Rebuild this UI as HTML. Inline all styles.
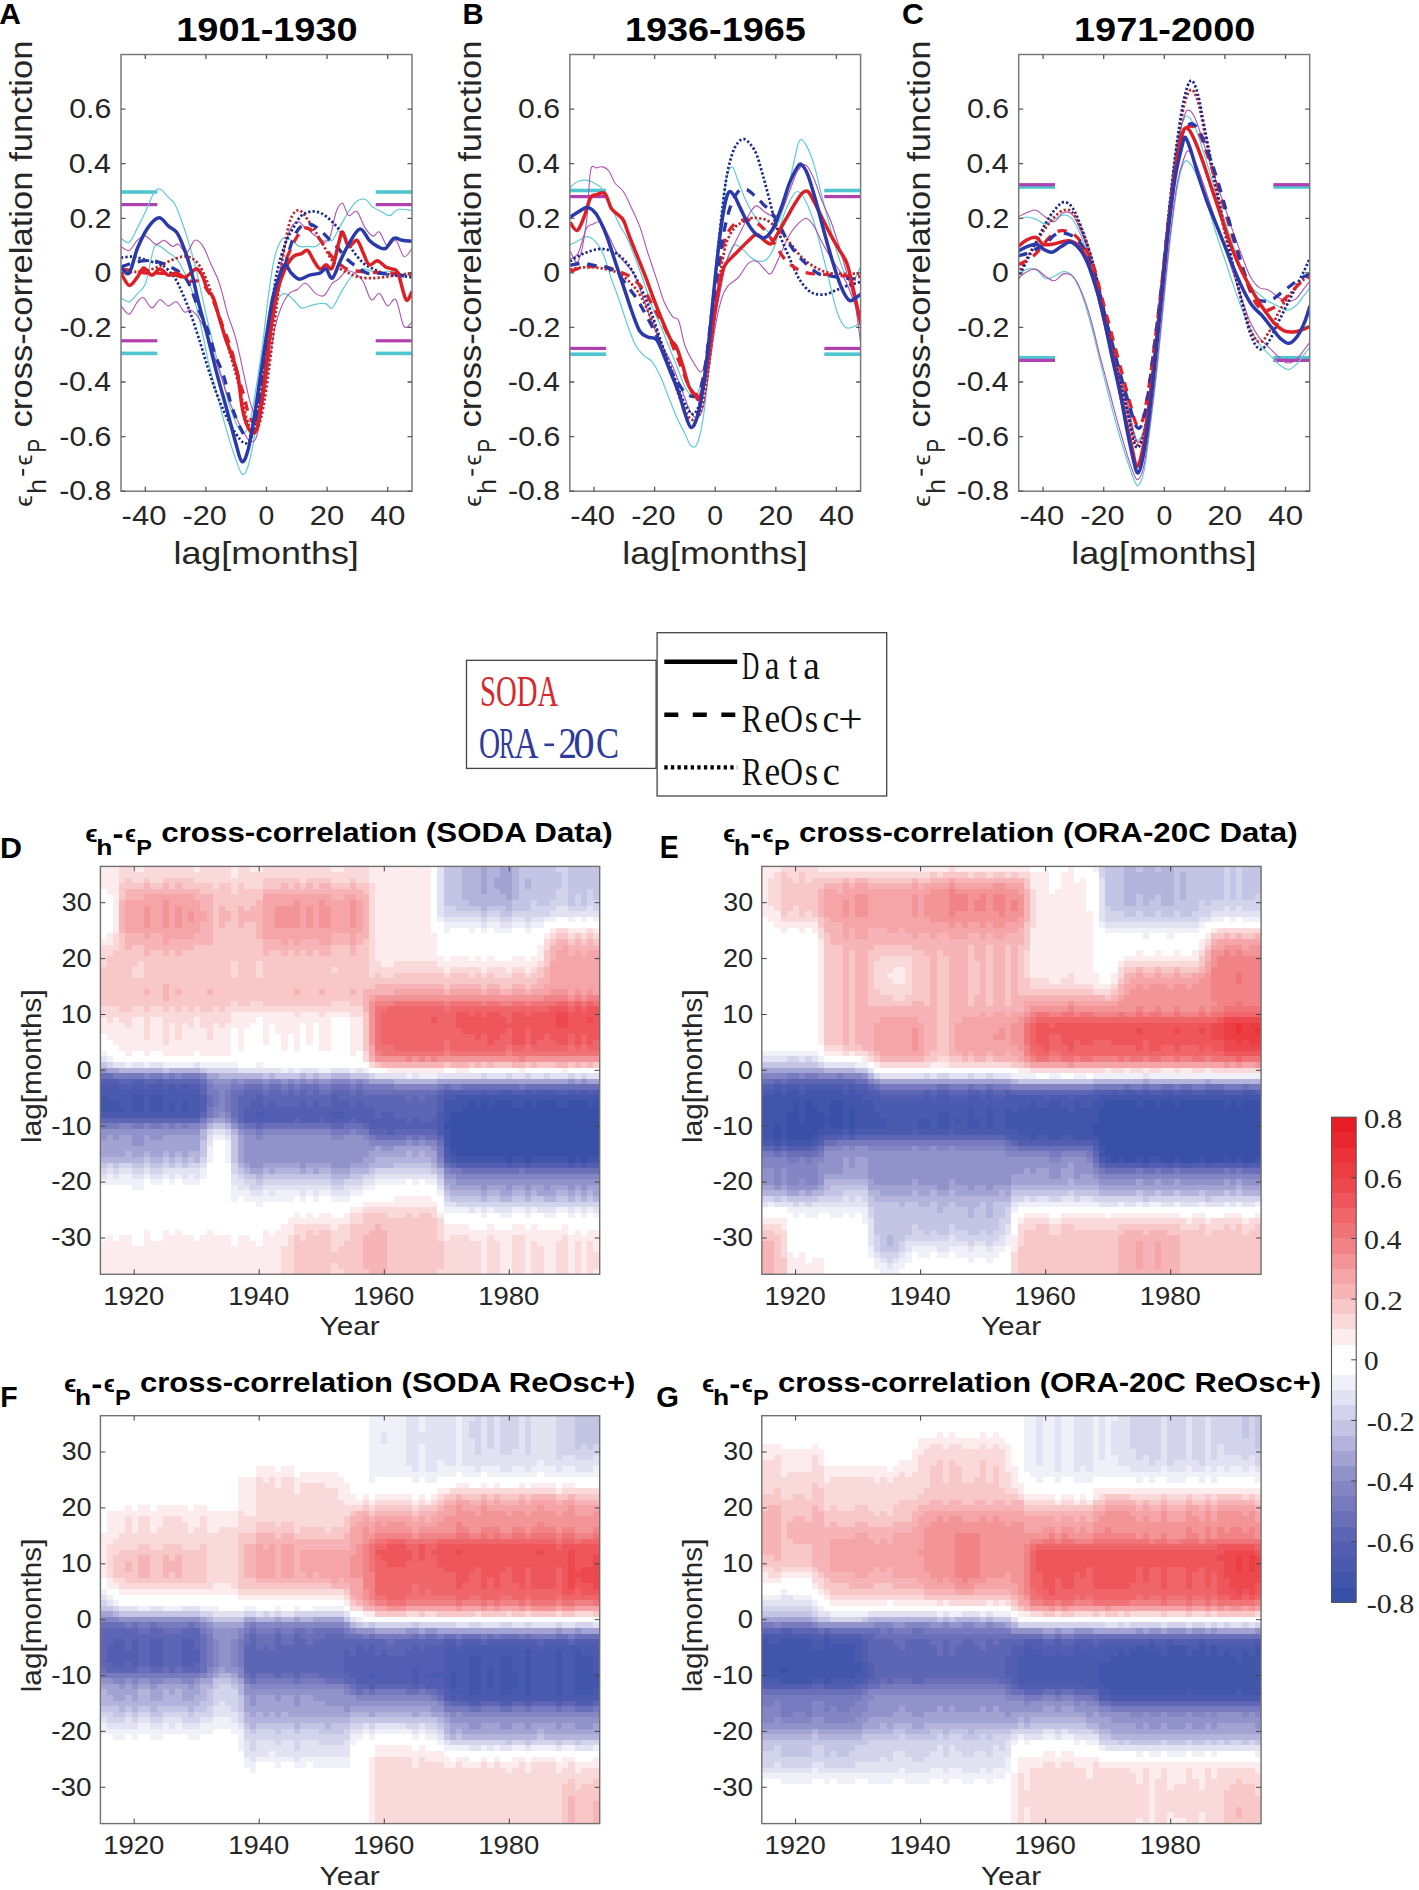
<!DOCTYPE html>
<html><head><meta charset="utf-8"><title>cross-correlation figure</title>
<style>html,body{margin:0;padding:0;background:#fff;}svg{display:block;}</style>
</head><body>
<svg width="1419" height="1890" viewBox="0 0 1419 1890"><clipPath id="clipA"><rect x="121.0" y="54.5" width="291.0" height="436.7"/></clipPath>
<rect x="121.0" y="190.2" width="36.3" height="3.6" fill="#4fc6cf"/>
<rect x="375.7" y="190.2" width="36.3" height="3.6" fill="#4fc6cf"/>
<rect x="121.0" y="351.6" width="36.3" height="3.6" fill="#4fc6cf"/>
<rect x="375.7" y="351.6" width="36.3" height="3.6" fill="#4fc6cf"/>
<rect x="121.0" y="203.0" width="36.3" height="3.2" fill="#b040b0"/>
<rect x="375.7" y="203.0" width="36.3" height="3.2" fill="#b040b0"/>
<rect x="121.0" y="339.2" width="36.3" height="3.2" fill="#b040b0"/>
<rect x="375.7" y="339.2" width="36.3" height="3.2" fill="#b040b0"/>
<g clip-path="url(#clipA)" fill="none" stroke-linejoin="round">
<path d="M121.0,238.2C122.4,238.9 126.5,244.0 129.2,242.3C131.9,240.6 134.7,233.1 137.4,227.9C140.1,222.8 142.9,217.3 145.6,211.5C148.3,205.7 151.4,196.8 153.8,193.1C156.2,189.3 157.6,188.3 160.0,189.0C162.4,189.6 165.8,194.8 168.2,197.2C170.6,199.6 172.3,199.9 174.3,203.3C176.4,206.7 178.1,211.2 180.5,217.7C182.9,224.2 185.9,233.1 188.7,242.3C191.4,251.5 194.1,261.8 196.9,273.1C199.6,284.3 202.4,298.0 205.1,310.0C207.8,321.9 210.6,333.9 213.3,344.8C216.0,355.8 218.8,365.3 221.5,375.6C224.2,385.8 227.0,397.8 229.7,406.4C232.4,414.9 235.5,422.4 237.9,426.9C240.3,431.3 242.0,434.0 244.1,433.0C246.1,432.0 248.2,428.6 250.2,420.7C252.3,412.9 254.3,398.5 256.4,385.8C258.4,373.2 260.5,360.2 262.5,344.8C264.6,329.5 266.6,308.3 268.7,293.6C270.7,278.9 272.4,265.9 274.8,256.6C277.2,247.4 280.3,240.9 283.0,238.2C285.8,235.5 288.5,238.9 291.2,240.2C294.0,241.6 296.7,245.4 299.4,246.4C302.2,247.4 304.9,246.4 307.6,246.4C310.4,246.4 313.1,247.4 315.8,246.4C318.6,245.4 321.3,241.3 324.0,240.2C326.8,239.2 329.5,242.6 332.2,240.2C335.0,237.8 337.7,230.7 340.4,225.9C343.2,221.1 345.9,215.6 348.6,211.5C351.4,207.4 354.1,203.3 356.8,201.3C359.6,199.2 362.3,198.2 365.1,199.2C367.8,200.2 370.5,205.4 373.3,207.4C376.0,209.5 378.7,210.2 381.5,211.5C384.2,212.9 386.9,216.0 389.7,215.6C392.4,215.3 394.1,210.3 397.9,209.5C401.6,208.6 409.7,210.3 412.0,210.5" stroke="#5fcbd3" stroke-width="1.2"/>
<path d="M121.0,297.7C122.4,298.3 126.5,302.4 129.2,301.8C131.9,301.1 134.7,296.6 137.4,293.6C140.1,290.5 142.9,290.8 145.6,283.3C148.3,275.8 151.4,254.6 153.8,248.4C156.2,242.3 157.6,245.7 160.0,246.4C162.4,247.1 165.4,250.5 168.2,252.5C170.9,254.6 173.6,255.3 176.4,258.7C179.1,262.1 181.8,267.2 184.6,273.1C187.3,278.9 190.0,284.7 192.8,293.6C195.5,302.4 198.2,314.4 201.0,326.4C203.7,338.3 206.5,353.7 209.2,365.3C211.9,377.0 214.7,385.8 217.4,396.1C220.1,406.4 222.9,417.3 225.6,426.9C228.3,436.4 231.1,445.7 233.8,453.5C236.5,461.4 239.6,472.0 242.0,474.0C244.4,476.1 246.1,472.0 248.2,465.8C250.2,459.7 252.3,448.7 254.3,437.1C256.4,425.5 258.4,411.5 260.5,396.1C262.5,380.7 264.6,358.5 266.6,344.8C268.7,331.2 270.7,321.9 272.8,314.1C274.8,306.2 276.9,301.1 278.9,297.7C281.0,294.2 282.7,293.2 285.1,293.6C287.5,293.9 290.5,297.3 293.3,299.7C296.0,302.1 298.7,306.9 301.5,307.9C304.2,308.9 306.9,306.5 309.7,305.9C312.4,305.2 315.1,304.2 317.9,303.8C320.6,303.5 323.7,303.1 326.1,303.8C328.5,304.5 329.8,309.6 332.2,307.9C334.6,306.2 338.0,297.7 340.4,293.6C342.8,289.5 344.2,286.7 346.6,283.3C349.0,279.9 352.1,275.4 354.8,273.1C357.5,270.7 360.3,269.3 363.0,268.9C365.7,268.6 368.5,270.3 371.2,271.0C373.9,271.7 376.7,273.1 379.4,273.1C382.1,273.1 384.9,271.0 387.6,271.0C390.3,271.0 391.7,272.4 395.8,273.1C399.9,273.7 409.3,274.8 412.0,275.1" stroke="#5fcbd3" stroke-width="1.2"/>
<path d="M121.0,246.4C122.4,247.1 126.5,251.5 129.2,250.5C131.9,249.5 134.7,242.6 137.4,240.2C140.1,237.8 142.5,235.5 145.6,236.1C148.7,236.8 152.8,243.7 155.9,244.3C158.9,245.0 161.3,239.9 164.1,240.2C166.8,240.6 169.9,245.7 172.3,246.4C174.7,247.1 176.0,243.3 178.4,244.3C180.8,245.4 183.9,253.2 186.6,252.5C189.4,251.9 192.1,241.3 194.8,240.2C197.6,239.2 200.3,242.3 203.0,246.4C205.8,250.5 208.5,258.7 211.2,264.8C214.0,271.0 216.7,275.1 219.4,283.3C222.2,291.5 224.9,304.8 227.6,314.1C230.4,323.3 233.1,328.4 235.8,338.7C238.6,348.9 241.7,365.0 244.1,375.6C246.4,386.2 248.2,395.4 250.2,402.3C252.3,409.1 254.3,417.0 256.4,416.6C258.4,416.3 260.5,410.5 262.5,400.2C264.6,390.0 266.6,371.2 268.7,355.1C270.7,339.0 272.8,318.9 274.8,303.8C276.9,288.8 278.6,276.8 281.0,264.8C283.4,252.9 286.4,239.2 289.2,232.0C291.9,224.9 294.6,222.5 297.4,221.8C300.1,221.1 302.5,225.5 305.6,227.9C308.7,230.3 312.8,233.7 315.8,236.1C318.9,238.5 321.6,242.3 324.0,242.3C326.4,242.3 328.1,241.3 330.2,236.1C332.2,231.0 334.3,217.0 336.3,211.5C338.4,206.1 340.4,202.6 342.5,203.3C344.5,204.0 346.3,214.3 348.6,215.6C351.0,217.0 354.1,209.5 356.8,211.5C359.6,213.6 362.3,223.8 365.1,227.9C367.8,232.0 370.9,235.5 373.3,236.1C375.6,236.8 377.0,230.3 379.4,232.0C381.8,233.7 384.9,245.0 387.6,246.4C390.3,247.8 393.1,238.5 395.8,240.2C398.5,241.9 401.3,255.3 404.0,256.6C406.7,258.0 410.7,249.8 412.0,248.4" stroke="#b050b0" stroke-width="1.1"/>
<path d="M121.0,305.9C122.4,307.2 126.5,314.8 129.2,314.1C131.9,313.4 135.0,304.5 137.4,301.8C139.8,299.0 141.2,296.6 143.6,297.7C146.0,298.7 149.0,307.6 151.8,307.9C154.5,308.3 157.2,300.1 160.0,299.7C162.7,299.4 165.4,305.5 168.2,305.9C170.9,306.2 173.6,300.7 176.4,301.8C179.1,302.8 182.2,310.7 184.6,312.0C187.0,313.4 188.3,308.9 190.7,310.0C193.1,311.0 196.2,314.1 198.9,318.2C201.7,322.3 204.1,326.7 207.1,334.6C210.2,342.4 214.0,355.1 217.4,365.3C220.8,375.6 224.6,387.6 227.6,396.1C230.7,404.6 233.1,410.5 235.8,416.6C238.6,422.8 241.7,428.9 244.1,433.0C246.4,437.1 248.2,440.5 250.2,441.2C252.3,441.9 254.3,442.9 256.4,437.1C258.4,431.3 260.5,418.3 262.5,406.4C264.6,394.4 266.6,378.3 268.7,365.3C270.7,352.4 272.8,338.0 274.8,328.4C276.9,318.9 278.6,313.7 281.0,307.9C283.4,302.1 286.4,296.6 289.2,293.6C291.9,290.5 294.6,291.2 297.4,289.5C300.1,287.7 302.5,282.6 305.6,283.3C308.7,284.0 312.8,291.5 315.8,293.6C318.9,295.6 321.3,297.3 324.0,295.6C326.8,293.9 329.8,286.0 332.2,283.3C334.6,280.6 336.0,281.3 338.4,279.2C340.8,277.2 343.9,272.0 346.6,271.0C349.3,270.0 352.1,271.3 354.8,273.1C357.5,274.8 360.3,276.8 363.0,281.3C365.7,285.7 368.5,297.7 371.2,299.7C373.9,301.8 376.7,292.5 379.4,293.6C382.1,294.6 384.9,304.8 387.6,305.9C390.3,306.9 393.1,296.3 395.8,299.7C398.5,303.1 401.3,322.6 404.0,326.4C406.7,330.1 410.7,323.0 412.0,322.3" stroke="#b050b0" stroke-width="1.1"/>
<path d="M121.0,273.1C123.1,272.9 129.2,272.4 133.3,272.0C137.4,271.7 141.5,271.9 145.6,271.0C149.7,270.1 153.8,268.6 157.9,266.9C162.0,265.2 166.1,262.5 170.2,260.7C174.3,259.0 179.1,257.2 182.5,256.6C185.9,256.1 188.0,256.3 190.7,257.7C193.5,259.0 196.2,260.9 198.9,264.8C201.7,268.8 204.4,274.4 207.1,281.3C209.9,288.1 212.6,297.3 215.3,305.9C218.1,314.4 220.8,323.6 223.5,332.5C226.3,341.4 229.0,349.6 231.7,359.2C234.5,368.8 237.6,380.4 239.9,390.0C242.3,399.5 244.1,409.8 246.1,416.6C248.2,423.4 250.2,429.3 252.3,431.0C254.3,432.7 256.4,432.0 258.4,426.9C260.5,421.7 262.5,412.2 264.6,400.2C266.6,388.2 268.7,371.2 270.7,355.1C272.8,339.0 274.8,320.2 276.9,303.8C278.9,287.4 281.0,270.0 283.0,256.6C285.1,243.3 287.1,231.4 289.2,223.8C291.2,216.3 293.3,213.6 295.3,211.5C297.4,209.5 299.4,210.2 301.5,211.5C303.5,212.9 305.2,216.3 307.6,219.7C310.0,223.1 313.1,227.6 315.8,232.0C318.6,236.5 321.3,241.6 324.0,246.4C326.8,251.2 329.5,257.0 332.2,260.7C335.0,264.5 337.7,266.9 340.4,268.9C343.2,271.0 345.6,271.7 348.6,273.1C351.7,274.4 355.1,276.3 358.9,277.2C362.7,278.0 367.1,278.2 371.2,278.2C375.3,278.2 379.1,277.7 383.5,277.2C388.0,276.6 393.1,275.8 397.9,275.1C402.6,274.4 409.7,273.4 412.0,273.1" stroke="#b8262e" stroke-width="2.7" stroke-dasharray="2.3 2.1"/>
<path d="M121.0,257.7C122.7,257.5 127.8,256.5 131.3,256.6C134.7,256.8 138.1,257.8 141.5,258.7C144.9,259.6 148.3,260.7 151.8,261.8C155.2,262.8 158.3,262.3 162.0,264.8C165.8,267.4 170.9,272.4 174.3,277.2C177.7,281.9 179.8,287.4 182.5,293.6C185.3,299.7 188.0,306.5 190.7,314.1C193.5,321.6 196.2,330.1 198.9,338.7C201.7,347.2 204.4,356.8 207.1,365.3C209.9,373.9 212.6,382.4 215.3,390.0C218.1,397.5 220.8,404.3 223.5,410.5C226.3,416.6 229.0,422.1 231.7,426.9C234.5,431.7 237.6,436.4 239.9,439.2C242.3,441.9 244.1,444.0 246.1,443.3C248.2,442.6 250.2,441.2 252.3,435.1C254.3,428.9 256.4,418.0 258.4,406.4C260.5,394.7 262.5,380.7 264.6,365.3C266.6,350.0 268.7,329.5 270.7,314.1C272.8,298.7 274.5,284.7 276.9,273.1C279.3,261.4 282.3,251.9 285.1,244.3C287.8,236.8 290.5,232.7 293.3,227.9C296.0,223.1 298.4,218.4 301.5,215.6C304.6,212.9 308.3,211.9 311.7,211.5C315.1,211.2 318.6,211.9 322.0,213.6C325.4,215.3 328.8,218.4 332.2,221.8C335.7,225.2 339.1,229.3 342.5,234.1C345.9,238.9 349.3,245.7 352.7,250.5C356.2,255.3 359.6,259.7 363.0,262.8C366.4,265.9 369.8,267.2 373.3,268.9C376.7,270.7 380.1,272.0 383.5,273.1C386.9,274.1 389.0,274.4 393.8,275.1C398.5,275.8 409.0,276.8 412.0,277.2" stroke="#1c2a8c" stroke-width="2.7" stroke-dasharray="2.3 2.1"/>
<path d="M121.0,268.9C123.1,269.3 129.2,270.3 133.3,271.0C137.4,271.7 141.5,272.7 145.6,273.1C149.7,273.4 153.8,272.9 157.9,273.1C162.0,273.2 166.1,273.4 170.2,274.1C174.3,274.8 179.1,276.0 182.5,277.2C185.9,278.3 188.0,280.6 190.7,281.3C193.5,281.9 196.2,279.9 198.9,281.3C201.7,282.6 204.4,285.4 207.1,289.5C209.9,293.6 212.6,299.4 215.3,305.9C218.1,312.4 220.8,320.9 223.5,328.4C226.3,335.9 229.4,343.1 231.7,351.0C234.1,358.8 235.8,368.1 237.9,375.6C239.9,383.1 242.3,390.0 244.1,396.1C245.8,402.3 246.4,408.1 248.2,412.5C249.9,417.0 252.3,423.8 254.3,422.8C256.4,421.7 258.4,415.9 260.5,406.4C262.5,396.8 264.6,380.7 266.6,365.3C268.7,350.0 270.4,329.5 272.8,314.1C275.2,298.7 278.2,283.3 281.0,273.1C283.7,262.8 286.4,258.7 289.2,252.5C291.9,246.4 294.6,240.2 297.4,236.1C300.1,232.0 302.8,228.6 305.6,227.9C308.3,227.2 311.0,229.6 313.8,232.0C316.5,234.4 319.2,238.5 322.0,242.3C324.7,246.0 327.5,251.2 330.2,254.6C332.9,258.0 335.7,260.4 338.4,262.8C341.1,265.2 343.5,267.6 346.6,268.9C349.7,270.3 353.4,270.5 356.8,271.0C360.3,271.5 362.0,271.7 367.1,272.0C372.2,272.4 380.1,272.7 387.6,273.1C395.1,273.4 407.9,273.9 412.0,274.1" stroke="#e0222a" stroke-width="3.3" stroke-dasharray="9.5 8"/>
<path d="M121.0,266.9C123.1,266.2 129.2,263.8 133.3,262.8C137.4,261.8 141.5,260.9 145.6,260.7C149.7,260.6 153.8,260.7 157.9,261.8C162.0,262.8 166.5,265.0 170.2,266.9C174.0,268.8 177.4,270.3 180.5,273.1C183.6,275.8 185.6,277.2 188.7,283.3C191.8,289.5 195.9,302.4 198.9,310.0C202.0,317.5 204.4,320.9 207.1,328.4C209.9,335.9 212.6,347.2 215.3,355.1C218.1,362.9 220.8,367.0 223.5,375.6C226.3,384.1 229.0,397.8 231.7,406.4C234.5,414.9 237.6,421.7 239.9,426.9C242.3,432.0 244.1,436.1 246.1,437.1C248.2,438.1 250.2,438.1 252.3,433.0C254.3,427.9 256.4,417.6 258.4,406.4C260.5,395.1 262.5,380.0 264.6,365.3C266.6,350.6 268.7,331.5 270.7,318.2C272.8,304.8 274.5,294.2 276.9,285.4C279.3,276.5 282.3,272.7 285.1,264.8C287.8,257.0 290.5,244.7 293.3,238.2C296.0,231.7 298.7,228.3 301.5,225.9C304.2,223.5 306.6,223.1 309.7,223.8C312.8,224.5 316.5,227.2 319.9,230.0C323.4,232.7 327.1,237.2 330.2,240.2C333.3,243.3 335.7,245.4 338.4,248.4C341.1,251.5 343.5,255.6 346.6,258.7C349.7,261.8 353.4,264.5 356.8,266.9C360.3,269.3 363.7,272.0 367.1,273.1C370.5,274.1 373.9,272.9 377.4,273.1C380.8,273.2 384.2,273.7 387.6,274.1C391.0,274.4 393.8,274.6 397.9,275.1C401.9,275.6 409.7,276.8 412.0,277.2" stroke="#2838a8" stroke-width="3.3" stroke-dasharray="9.5 8"/>
<path d="M121.0,273.1C122.4,275.1 126.5,284.7 129.2,285.4C131.9,286.0 135.0,280.1 137.4,277.2C139.8,274.2 141.2,268.3 143.6,267.9C146.0,267.6 149.0,274.9 151.8,275.1C154.5,275.3 157.2,268.9 160.0,268.9C162.7,268.9 165.4,274.4 168.2,275.1C170.9,275.8 173.6,272.7 176.4,273.1C179.1,273.4 182.2,277.2 184.6,277.2C187.0,277.2 188.7,274.4 190.7,273.1C192.8,271.7 194.8,268.3 196.9,268.9C198.9,269.6 201.3,273.7 203.0,277.2C204.7,280.6 205.4,286.0 207.1,289.5C208.8,292.9 211.2,292.9 213.3,297.7C215.3,302.4 217.4,311.3 219.4,318.2C221.5,325.0 223.5,332.5 225.6,338.7C227.6,344.8 229.7,348.9 231.7,355.1C233.8,361.2 236.2,367.0 237.9,375.6C239.6,384.1 240.6,398.5 242.0,406.4C243.4,414.2 244.4,418.3 246.1,422.8C247.8,427.2 250.4,432.3 252.3,433.0C254.1,433.7 255.7,433.0 257.4,426.9C259.1,420.7 260.6,409.8 262.5,396.1C264.4,382.4 266.3,361.9 268.7,344.8C271.1,327.7 274.1,306.2 276.9,293.6C279.6,280.9 282.3,275.1 285.1,268.9C287.8,262.8 290.5,259.2 293.3,256.6C296.0,254.1 299.1,254.6 301.5,253.6C303.9,252.5 305.6,249.3 307.6,250.5C309.7,251.7 311.7,257.7 313.8,260.7C315.8,263.8 317.9,268.3 319.9,268.9C322.0,269.6 324.0,265.0 326.1,264.8C328.1,264.7 330.2,271.3 332.2,267.9C334.3,264.5 336.7,250.3 338.4,244.3C340.1,238.4 340.8,231.7 342.5,232.0C344.2,232.4 346.3,245.0 348.6,246.4C351.0,247.8 354.5,239.2 356.8,240.2C359.2,241.3 361.0,248.4 363.0,252.5C365.1,256.6 366.8,263.5 369.2,264.8C371.5,266.2 374.6,260.4 377.4,260.7C380.1,261.1 383.2,265.5 385.6,266.9C388.0,268.3 389.7,267.9 391.7,268.9C393.8,270.0 395.5,267.9 397.9,273.1C400.3,278.2 403.7,296.6 406.1,299.7C408.4,302.8 411.0,292.9 412.0,291.5" stroke="#dd1f26" stroke-width="3.5"/>
<path d="M121.0,266.9C122.4,267.9 126.5,276.1 129.2,273.1C131.9,270.0 134.3,256.0 137.4,248.4C140.5,240.9 144.1,233.1 147.7,227.9C151.3,222.8 155.5,218.0 158.9,217.7C162.4,217.3 165.3,223.5 168.2,225.9C171.1,228.3 174.0,229.0 176.4,232.0C178.8,235.1 180.1,238.2 182.5,244.3C184.9,250.5 188.0,259.0 190.7,268.9C193.5,278.9 196.2,292.9 198.9,303.8C201.7,314.8 204.1,322.6 207.1,334.6C210.2,346.5 214.0,362.6 217.4,375.6C220.8,388.6 224.6,401.2 227.6,412.5C230.7,423.8 233.5,435.1 235.8,443.3C238.2,451.5 239.9,460.7 242.0,461.7C244.1,462.8 246.1,456.9 248.2,449.4C250.2,441.9 252.3,428.9 254.3,416.6C256.4,404.3 258.4,389.3 260.5,375.6C262.5,361.9 264.6,347.6 266.6,334.6C268.7,321.6 270.7,307.2 272.8,297.7C274.8,288.1 276.9,282.6 278.9,277.2C281.0,271.7 283.0,265.5 285.1,264.8C287.1,264.2 288.8,270.7 291.2,273.1C293.6,275.4 296.3,278.9 299.4,279.2C302.5,279.5 306.3,276.1 309.7,275.1C313.1,274.1 317.2,274.1 319.9,273.1C322.7,272.0 324.0,268.1 326.1,268.9C328.1,269.8 329.8,279.5 332.2,278.2C334.6,276.8 337.7,266.4 340.4,260.7C343.2,255.1 345.4,249.6 348.6,244.3C351.9,239.0 356.5,229.6 359.9,229.0C363.3,228.3 366.2,237.3 369.2,240.2C372.1,243.1 374.6,245.0 377.4,246.4C380.1,247.8 382.8,249.8 385.6,248.4C388.3,247.1 391.0,239.6 393.8,238.2C396.5,236.8 398.9,239.7 402.0,240.2C405.0,240.8 410.3,241.1 412.0,241.3" stroke="#2b3aaa" stroke-width="3.5"/>
</g>
<rect x="121.0" y="54.5" width="291.0" height="436.7" fill="none" stroke="#7a7a7a" stroke-width="1.5"/>
<path d="M145.3 491.2v-4.5M145.3 54.5v4.5M205.9 491.2v-4.5M205.9 54.5v4.5M266.5 491.2v-4.5M266.5 54.5v4.5M327.1 491.2v-4.5M327.1 54.5v4.5M387.7 491.2v-4.5M387.7 54.5v4.5M121.0 491.2h4.5M412.0 491.2h-4.5M121.0 436.6h4.5M412.0 436.6h-4.5M121.0 382.0h4.5M412.0 382.0h-4.5M121.0 327.4h4.5M412.0 327.4h-4.5M121.0 272.9h4.5M412.0 272.9h-4.5M121.0 218.3h4.5M412.0 218.3h-4.5M121.0 163.7h4.5M412.0 163.7h-4.5M121.0 109.1h4.5M412.0 109.1h-4.5" stroke="#5a5a5a" stroke-width="1.3" fill="none"/>
<text transform="translate(59.15,500.49) scale(1.0854,1)" font-family="Liberation Sans" font-size="27.89" fill="#262626">-0.8</text>
<text transform="translate(59.30,445.91) scale(1.0854,1)" font-family="Liberation Sans" font-size="27.89" fill="#262626">-0.6</text>
<text transform="translate(58.85,391.33) scale(1.0854,1)" font-family="Liberation Sans" font-size="27.89" fill="#262626">-0.4</text>
<text transform="translate(59.45,336.75) scale(1.0854,1)" font-family="Liberation Sans" font-size="27.89" fill="#262626">-0.2</text>
<text transform="translate(94.41,282.17) scale(1.0854,1)" font-family="Liberation Sans" font-size="27.89" fill="#262626">0</text>
<text transform="translate(69.44,227.59) scale(1.0854,1)" font-family="Liberation Sans" font-size="27.89" fill="#262626">0.2</text>
<text transform="translate(68.84,173.01) scale(1.0854,1)" font-family="Liberation Sans" font-size="27.89" fill="#262626">0.4</text>
<text transform="translate(69.29,118.43) scale(1.0854,1)" font-family="Liberation Sans" font-size="27.89" fill="#262626">0.6</text>
<text transform="translate(121.60,525.23) scale(1.1298,1)" font-family="Liberation Sans" font-size="27.46" fill="#262626">-40</text>
<text transform="translate(182.47,525.23) scale(1.1164,1)" font-family="Liberation Sans" font-size="27.46" fill="#262626">-20</text>
<text transform="translate(258.61,525.23) scale(1.0348,1)" font-family="Liberation Sans" font-size="27.46" fill="#262626">0</text>
<text transform="translate(309.75,525.23) scale(1.1280,1)" font-family="Liberation Sans" font-size="27.46" fill="#262626">20</text>
<text transform="translate(370.57,525.23) scale(1.1393,1)" font-family="Liberation Sans" font-size="27.46" fill="#262626">40</text>
<text transform="translate(173.47,564.20) scale(1.1278,1)" font-family="Liberation Sans" font-size="31.80" fill="#262626">lag[months]</text>
<text transform="translate(176.23,40.77) scale(1.1563,1)" font-family="Liberation Sans" font-size="32.82" font-weight="bold" fill="#000">1901-1930</text>
<text transform="translate(-0.75,23.90) scale(1.0147,1)" font-family="Liberation Sans" font-size="29.57" font-weight="bold" fill="#000">A</text>
<g transform="translate(0.0,0) rotate(-90)"><text transform="translate(-427.46,31.60) scale(1.0727,1)" font-family="Liberation Sans" font-size="32.30" fill="#262626">cross-correlation function</text><text transform="translate(-506.65,31.70) scale(1.0890,1)" font-family="Liberation Sans" font-size="24.15" fill="#262626">ϵ</text><text transform="translate(-493.90,46.30) scale(1.0872,1)" font-family="Liberation Sans" font-size="24.97" fill="#262626">h</text><text transform="translate(-465.59,31.70) scale(1.0210,1)" font-family="Liberation Sans" font-size="24.15" fill="#262626">ϵ</text><text transform="translate(-452.54,46.30) scale(0.8107,1)" font-family="Liberation Sans" font-size="25.36" fill="#262626">P</text></g>
<rect x="22.1" y="469.0" width="2.1" height="6.7" fill="#262626"/>
<clipPath id="clipB"><rect x="569.8" y="54.5" width="290.80000000000007" height="436.7"/></clipPath>
<rect x="569.8" y="188.7" width="36.3" height="3.6" fill="#4fc6cf"/>
<rect x="824.3000000000001" y="188.7" width="36.3" height="3.6" fill="#4fc6cf"/>
<rect x="569.8" y="352.4" width="36.3" height="3.6" fill="#4fc6cf"/>
<rect x="824.3000000000001" y="352.4" width="36.3" height="3.6" fill="#4fc6cf"/>
<rect x="569.8" y="195.0" width="36.3" height="3.2" fill="#b040b0"/>
<rect x="824.3000000000001" y="195.0" width="36.3" height="3.2" fill="#b040b0"/>
<rect x="569.8" y="346.8" width="36.3" height="3.2" fill="#b040b0"/>
<rect x="824.3000000000001" y="346.8" width="36.3" height="3.2" fill="#b040b0"/>
<g clip-path="url(#clipB)" fill="none" stroke-linejoin="round">
<path d="M570.0,187.4C571.4,186.4 575.5,182.5 578.2,181.3C580.9,180.1 583.7,179.9 586.4,180.2C589.1,180.6 591.9,181.8 594.6,183.3C597.3,184.9 600.1,185.7 602.8,189.5C605.5,193.2 608.3,200.1 611.0,205.9C613.8,211.7 616.5,218.9 619.2,224.3C622.0,229.8 624.7,232.9 627.4,238.7C630.2,244.5 632.9,252.0 635.6,259.2C638.4,266.4 641.1,273.9 643.8,281.8C646.6,289.6 649.3,299.2 652.0,306.4C654.8,313.6 657.5,318.3 660.2,324.8C663.0,331.3 665.7,338.5 668.4,345.3C671.2,352.2 673.9,359.0 676.6,365.8C679.4,372.7 682.1,381.2 684.8,386.4C687.6,391.5 690.3,397.0 693.1,396.6C695.8,396.3 698.9,391.8 701.3,384.3C703.6,376.8 705.4,366.5 707.4,351.5C709.5,336.5 711.5,313.9 713.6,294.1C715.6,274.2 717.7,251.3 719.7,232.5C721.8,213.7 723.8,192.2 725.9,181.3C727.9,170.3 730.0,166.9 732.0,166.9C734.1,166.9 735.8,175.5 738.2,181.3C740.6,187.1 743.6,196.0 746.4,201.8C749.1,207.6 751.8,212.0 754.6,216.1C757.3,220.2 760.0,223.7 762.8,226.4C765.5,229.1 768.2,233.6 771.0,232.5C773.7,231.5 776.5,227.1 779.2,220.2C781.9,213.4 784.7,202.5 787.4,191.5C790.1,180.6 793.5,163.2 795.6,154.6C797.6,146.1 798.0,142.0 799.7,140.3C801.4,138.5 803.5,140.3 805.8,144.4C808.2,148.5 811.3,156.0 814.1,164.9C816.8,173.8 819.5,187.1 822.3,197.7C825.0,208.3 827.7,218.5 830.5,228.4C833.2,238.4 835.9,248.9 838.7,257.2C841.4,265.4 844.1,274.2 846.9,277.7C849.6,281.1 852.7,279.7 855.1,277.7C857.4,275.6 860.0,267.4 861.0,265.4" stroke="#5fcbd3" stroke-width="1.2"/>
<path d="M570.0,244.8C571.4,244.2 575.5,242.1 578.2,240.7C580.9,239.4 583.7,236.6 586.4,236.6C589.1,236.6 591.9,238.0 594.6,240.7C597.3,243.5 600.1,246.9 602.8,253.1C605.5,259.2 608.3,269.8 611.0,277.7C613.8,285.5 616.5,292.4 619.2,300.2C622.0,308.1 624.7,317.3 627.4,324.8C630.2,332.4 632.9,340.2 635.6,345.3C638.4,350.5 641.1,352.9 643.8,355.6C646.6,358.3 649.3,358.3 652.0,361.7C654.8,365.2 657.5,370.3 660.2,376.1C663.0,381.9 665.7,389.8 668.4,396.6C671.2,403.4 673.9,411.0 676.6,417.1C679.4,423.3 682.5,428.7 684.8,433.5C687.2,438.3 688.9,444.1 691.0,445.8C693.1,447.5 695.1,448.6 697.2,443.8C699.2,439.0 701.3,430.1 703.3,417.1C705.4,404.1 707.4,382.9 709.5,365.8C711.5,348.8 713.6,329.3 715.6,314.6C717.7,299.9 719.7,287.2 721.8,277.7C723.8,268.1 725.9,262.6 727.9,257.2C730.0,251.7 731.7,246.2 734.1,244.8C736.5,243.5 739.5,246.9 742.3,248.9C745.0,251.0 747.7,255.1 750.5,257.2C753.2,259.2 755.9,260.9 758.7,261.3C761.4,261.6 764.1,261.9 766.9,259.2C769.6,256.5 772.4,252.0 775.1,244.8C777.8,237.7 780.6,224.0 783.3,216.1C786.0,208.3 789.1,201.8 791.5,197.7C793.9,193.6 795.6,191.5 797.6,191.5C799.7,191.5 801.4,193.6 803.8,197.7C806.2,201.8 809.3,208.3 812.0,216.1C814.7,224.0 817.5,234.6 820.2,244.8C822.9,255.1 825.7,266.7 828.4,277.7C831.1,288.6 833.9,302.3 836.6,310.5C839.3,318.7 842.1,324.1 844.8,326.9C847.5,329.6 850.3,327.6 853.0,326.9C855.7,326.2 859.7,323.5 861.0,322.8" stroke="#5fcbd3" stroke-width="1.2"/>
<path d="M570.0,251.0C571.4,252.7 575.5,266.0 578.2,261.3C580.9,256.5 584.4,237.3 586.4,222.3C588.5,207.2 588.8,180.1 590.5,171.0C592.2,162.0 594.6,168.6 596.7,167.9C598.7,167.3 600.8,166.4 602.8,166.9C604.9,167.4 606.9,168.3 609.0,171.0C611.0,173.8 612.7,179.9 615.1,183.3C617.5,186.7 620.6,187.4 623.3,191.5C626.1,195.6 628.8,202.1 631.5,207.9C634.3,213.7 637.0,218.9 639.7,226.4C642.5,233.9 645.2,244.5 647.9,253.1C650.7,261.6 653.4,269.5 656.1,277.7C658.9,285.9 661.6,295.8 664.3,302.3C667.1,308.8 670.2,313.6 672.5,316.6C674.9,319.7 676.6,315.9 678.7,320.7C680.7,325.5 682.5,338.5 684.8,345.3C687.2,352.2 690.3,357.3 693.1,361.7C695.8,366.2 698.9,373.0 701.3,372.0C703.6,371.0 705.4,363.5 707.4,355.6C709.5,347.7 711.5,335.1 713.6,324.8C715.6,314.6 717.7,304.3 719.7,294.1C721.8,283.8 723.5,271.5 725.9,263.3C728.3,255.1 731.3,250.7 734.1,244.8C736.8,239.0 739.5,233.9 742.3,228.4C745.0,223.0 748.1,215.8 750.5,212.0C752.9,208.3 754.2,205.9 756.6,205.9C759.0,205.9 762.1,210.3 764.8,212.0C767.6,213.7 770.3,216.1 773.0,216.1C775.8,216.1 778.5,216.1 781.2,212.0C784.0,207.9 786.7,198.4 789.4,191.5C792.2,184.7 794.9,175.5 797.6,171.0C800.4,166.6 803.1,163.5 805.8,164.9C808.6,166.2 811.3,173.1 814.1,179.2C816.8,185.4 819.5,194.9 822.3,201.8C825.0,208.6 827.7,213.1 830.5,220.2C833.2,227.4 835.9,236.0 838.7,244.8C841.4,253.7 844.1,263.6 846.9,273.6C849.6,283.5 852.7,292.4 855.1,304.3C857.4,316.3 860.0,338.5 861.0,345.3" stroke="#b050b0" stroke-width="1.1"/>
<path d="M570.0,259.2C571.4,258.2 575.5,258.2 578.2,253.1C580.9,247.9 584.0,233.2 586.4,228.4C588.8,223.7 590.2,225.4 592.6,224.3C595.0,223.3 598.0,220.2 600.8,222.3C603.5,224.3 606.2,231.5 609.0,236.6C611.7,241.8 614.4,248.6 617.2,253.1C619.9,257.5 622.6,259.9 625.4,263.3C628.1,266.7 630.8,268.4 633.6,273.6C636.3,278.7 638.7,285.9 641.8,294.1C644.9,302.3 648.6,314.2 652.0,322.8C655.5,331.3 658.9,338.2 662.3,345.3C665.7,352.5 669.1,358.0 672.5,365.8C676.0,373.7 679.7,384.6 682.8,392.5C685.9,400.4 688.6,408.9 691.0,413.0C693.4,417.1 695.1,418.1 697.2,417.1C699.2,416.1 701.3,415.4 703.3,406.9C705.4,398.3 707.4,379.5 709.5,365.8C711.5,352.2 713.6,336.1 715.6,324.8C717.7,313.6 719.7,304.7 721.8,298.2C723.8,291.7 725.2,289.3 727.9,285.9C730.7,282.4 734.8,281.4 738.2,277.7C741.6,273.9 745.3,266.0 748.4,263.3C751.5,260.6 753.9,260.2 756.6,261.3C759.4,262.3 762.4,267.4 764.8,269.5C767.2,271.5 768.6,275.6 771.0,273.6C773.4,271.5 776.5,263.0 779.2,257.2C781.9,251.3 784.7,243.8 787.4,238.7C790.1,233.6 792.5,229.8 795.6,226.4C798.7,223.0 802.8,218.2 805.8,218.2C808.9,218.2 811.3,222.3 814.1,226.4C816.8,230.5 819.5,237.7 822.3,242.8C825.0,247.9 827.7,252.7 830.5,257.2C833.2,261.6 835.9,265.0 838.7,269.5C841.4,273.9 844.1,278.0 846.9,283.8C849.6,289.6 852.7,299.2 855.1,304.3C857.4,309.5 860.0,312.9 861.0,314.6" stroke="#b050b0" stroke-width="1.1"/>
<path d="M570.0,269.5C572.1,269.1 578.2,267.7 582.3,267.4C586.4,267.1 590.5,267.1 594.6,267.4C598.7,267.7 602.8,268.4 606.9,269.5C611.0,270.5 615.1,271.2 619.2,273.6C623.3,276.0 627.8,279.7 631.5,283.8C635.3,287.9 638.4,292.0 641.8,298.2C645.2,304.3 648.6,312.5 652.0,320.7C655.5,328.9 658.9,338.2 662.3,347.4C665.7,356.6 669.5,367.2 672.5,376.1C675.6,385.0 678.0,393.9 680.7,400.7C683.5,407.5 686.6,414.0 688.9,417.1C691.3,420.2 693.1,420.5 695.1,419.2C697.2,417.8 699.2,416.1 701.3,408.9C703.3,401.7 705.4,390.1 707.4,376.1C709.5,362.1 711.5,341.2 713.6,324.8C715.6,308.4 717.7,291.0 719.7,277.7C721.8,264.3 723.5,253.1 725.9,244.8C728.3,236.6 731.3,232.2 734.1,228.4C736.8,224.7 739.5,224.0 742.3,222.3C745.0,220.6 747.7,218.9 750.5,218.2C753.2,217.5 755.9,217.8 758.7,218.2C761.4,218.5 764.1,218.9 766.9,220.2C769.6,221.6 772.4,224.0 775.1,226.4C777.8,228.8 780.6,231.5 783.3,234.6C786.0,237.7 788.4,241.1 791.5,244.8C794.6,248.6 798.3,253.7 801.7,257.2C805.2,260.6 808.2,263.0 812.0,265.4C815.8,267.7 820.2,270.1 824.3,271.5C828.4,272.9 830.5,273.2 836.6,273.6C842.7,273.9 856.9,273.6 861.0,273.6" stroke="#b8262e" stroke-width="2.7" stroke-dasharray="2.3 2.1"/>
<path d="M570.0,261.3C571.7,260.2 576.8,256.8 580.3,255.1C583.7,253.4 587.1,252.0 590.5,251.0C593.9,250.0 597.3,248.9 600.8,248.9C604.2,248.9 607.6,249.6 611.0,251.0C614.4,252.4 617.9,254.1 621.3,257.2C624.7,260.2 628.1,264.0 631.5,269.5C634.9,274.9 638.4,282.4 641.8,290.0C645.2,297.5 648.6,305.3 652.0,314.6C655.5,323.8 658.9,335.8 662.3,345.3C665.7,354.9 669.5,363.8 672.5,372.0C675.6,380.2 678.0,388.1 680.7,394.6C683.5,401.1 686.6,407.9 688.9,411.0C691.3,414.0 693.1,415.4 695.1,413.0C697.2,410.6 699.2,406.2 701.3,396.6C703.3,387.0 705.4,372.7 707.4,355.6C709.5,338.5 711.5,314.6 713.6,294.1C715.6,273.6 717.7,251.3 719.7,232.5C721.8,213.7 723.8,194.3 725.9,181.3C727.9,168.3 730.0,161.1 732.0,154.6C734.1,148.1 736.1,144.9 738.2,142.3C740.2,139.7 742.3,138.9 744.3,139.2C746.4,139.6 748.4,141.8 750.5,144.4C752.5,146.9 754.6,149.5 756.6,154.6C758.7,159.7 760.7,167.9 762.8,175.1C764.8,182.3 766.9,189.8 768.9,197.7C771.0,205.5 773.0,215.5 775.1,222.3C777.1,229.1 779.2,233.6 781.2,238.7C783.3,243.8 785.3,248.3 787.4,253.1C789.4,257.8 791.5,263.0 793.5,267.4C795.6,271.9 797.3,276.0 799.7,279.7C802.1,283.5 805.2,287.6 807.9,290.0C810.6,292.4 813.0,293.4 816.1,294.1C819.2,294.8 822.9,294.8 826.4,294.1C829.8,293.4 833.2,291.3 836.6,290.0C840.0,288.6 842.8,287.2 846.9,285.9C850.9,284.5 858.7,282.4 861.0,281.8" stroke="#1c2a8c" stroke-width="2.7" stroke-dasharray="2.3 2.1"/>
<path d="M570.0,271.5C572.1,270.8 578.2,268.3 582.3,267.4C586.4,266.6 590.5,266.4 594.6,266.4C598.7,266.4 602.8,266.6 606.9,267.4C611.0,268.3 615.1,269.8 619.2,271.5C623.3,273.2 627.4,274.6 631.5,277.7C635.6,280.7 640.1,284.8 643.8,290.0C647.6,295.1 650.7,302.3 654.1,308.4C657.5,314.6 661.3,320.7 664.3,326.9C667.4,333.0 669.8,338.8 672.5,345.3C675.3,351.8 678.0,359.0 680.7,365.8C683.5,372.7 686.6,381.6 688.9,386.4C691.3,391.1 693.1,394.6 695.1,394.6C697.2,394.6 699.2,393.5 701.3,386.4C703.3,379.2 705.4,365.2 707.4,351.5C709.5,337.8 711.5,319.0 713.6,304.3C715.6,289.6 717.7,274.6 719.7,263.3C721.8,252.0 723.5,243.1 725.9,236.6C728.3,230.2 731.3,227.1 734.1,224.3C736.8,221.6 739.5,220.9 742.3,220.2C745.0,219.6 747.7,219.6 750.5,220.2C753.2,220.9 755.9,222.3 758.7,224.3C761.4,226.4 764.1,229.1 766.9,232.5C769.6,236.0 772.4,240.7 775.1,244.8C777.8,248.9 780.6,253.7 783.3,257.2C786.0,260.6 788.4,263.0 791.5,265.4C794.6,267.7 798.3,270.1 801.7,271.5C805.2,272.9 807.9,273.0 812.0,273.6C816.1,274.1 821.6,274.2 826.4,274.6C831.1,274.9 834.9,275.3 840.7,275.6C846.5,276.0 857.6,276.5 861.0,276.6" stroke="#e0222a" stroke-width="3.3" stroke-dasharray="9.5 8"/>
<path d="M570.0,265.4C572.1,265.0 578.2,263.3 582.3,263.3C586.4,263.3 590.5,264.7 594.6,265.4C598.7,266.0 603.2,266.0 606.9,267.4C610.7,268.8 613.8,270.5 617.2,273.6C620.6,276.6 624.0,281.4 627.4,285.9C630.8,290.3 634.3,294.8 637.7,300.2C641.1,305.7 644.5,312.2 647.9,318.7C651.4,325.2 654.8,331.3 658.2,339.2C661.6,347.0 665.4,359.0 668.4,365.8C671.5,372.7 673.9,375.8 676.6,380.2C679.4,384.6 682.1,389.8 684.8,392.5C687.6,395.2 690.7,396.6 693.1,396.6C695.4,396.6 697.2,397.6 699.2,392.5C701.3,387.4 703.3,378.8 705.4,365.8C707.4,352.9 709.5,330.6 711.5,314.6C713.6,298.5 715.6,283.1 717.7,269.5C719.7,255.8 721.8,242.8 723.8,232.5C725.9,222.3 727.6,214.8 730.0,207.9C732.4,201.1 735.4,194.6 738.2,191.5C740.9,188.4 743.6,188.8 746.4,189.5C749.1,190.2 751.8,193.2 754.6,195.6C757.3,198.0 760.0,201.1 762.8,203.8C765.5,206.6 768.2,208.6 771.0,212.0C773.7,215.5 776.5,219.6 779.2,224.3C781.9,229.1 784.3,235.6 787.4,240.7C790.5,245.9 794.2,251.0 797.6,255.1C801.1,259.2 804.5,262.3 807.9,265.4C811.3,268.4 814.7,271.9 818.2,273.6C821.6,275.3 824.6,274.9 828.4,275.6C832.2,276.3 836.6,277.1 840.7,277.7C844.8,278.2 849.6,278.3 853.0,278.7C856.4,279.0 859.7,279.5 861.0,279.7" stroke="#2838a8" stroke-width="3.3" stroke-dasharray="9.5 8"/>
<path d="M570.0,222.3C571.2,223.7 574.8,231.5 577.2,230.5C579.6,229.5 582.1,221.6 584.4,216.1C586.6,210.7 588.5,201.3 590.5,197.7C592.6,194.1 594.3,195.3 596.7,194.6C599.1,193.9 602.5,191.4 604.9,193.6C607.3,195.8 609.0,204.5 611.0,207.9C613.1,211.4 615.1,212.0 617.2,214.1C619.2,216.1 621.3,216.5 623.3,220.2C625.4,224.0 627.1,230.5 629.5,236.6C631.9,242.8 634.9,250.3 637.7,257.2C640.4,264.0 643.1,270.5 645.9,277.7C648.6,284.8 651.4,293.0 654.1,300.2C656.8,307.4 659.6,314.2 662.3,320.7C665.0,327.2 668.1,334.7 670.5,339.2C672.9,343.6 674.6,342.9 676.6,347.4C678.7,351.8 680.7,359.4 682.8,365.8C684.8,372.3 686.9,381.6 688.9,386.4C691.0,391.1 693.4,392.5 695.1,394.6C696.8,396.6 697.5,401.7 699.2,398.7C700.9,395.6 703.3,386.7 705.4,376.1C707.4,365.5 709.5,348.8 711.5,335.1C713.6,321.4 715.6,305.3 717.7,294.1C719.7,282.8 721.4,273.6 723.8,267.4C726.2,261.3 729.3,260.2 732.0,257.2C734.8,254.1 737.5,251.7 740.2,248.9C743.0,246.2 745.7,243.1 748.4,240.7C751.2,238.4 753.9,234.6 756.6,234.6C759.4,234.6 762.4,239.2 764.8,240.7C767.2,242.3 768.9,244.8 771.0,243.8C773.0,242.8 774.7,238.5 777.1,234.6C779.5,230.7 782.6,225.0 785.3,220.2C788.1,215.5 790.8,210.3 793.5,205.9C796.3,201.4 799.4,196.0 801.7,193.6C804.1,191.2 805.8,190.2 807.9,191.5C810.0,192.9 811.7,197.3 814.1,201.8C816.4,206.2 819.5,212.7 822.3,218.2C825.0,223.7 827.7,229.5 830.5,234.6C833.2,239.7 835.9,244.2 838.7,248.9C841.4,253.7 844.5,256.8 846.9,263.3C849.3,269.8 850.7,277.7 853.0,287.9C855.4,298.2 859.7,318.7 861.0,324.8" stroke="#dd1f26" stroke-width="3.5"/>
<path d="M570.0,217.2C571.4,216.3 575.5,213.6 578.2,212.0C580.9,210.4 584.0,207.9 586.4,207.5C588.8,207.2 590.5,208.2 592.6,210.0C594.6,211.8 596.3,213.7 598.7,218.2C601.1,222.6 604.2,229.5 606.9,236.6C609.6,243.8 612.4,253.1 615.1,261.3C617.9,269.5 620.6,277.7 623.3,285.9C626.1,294.1 628.8,303.0 631.5,310.5C634.3,318.0 637.0,326.5 639.7,331.0C642.5,335.4 645.2,335.8 647.9,337.1C650.7,338.5 653.7,336.8 656.1,339.2C658.5,341.6 659.9,346.0 662.3,351.5C664.7,357.0 667.8,365.2 670.5,372.0C673.2,378.8 676.3,385.7 678.7,392.5C681.1,399.3 682.8,407.2 684.8,413.0C686.9,418.8 688.9,426.7 691.0,427.4C693.1,428.1 695.1,424.0 697.2,417.1C699.2,410.3 701.3,400.0 703.3,386.4C705.4,372.7 707.4,353.9 709.5,335.1C711.5,316.3 713.6,292.4 715.6,273.6C717.7,254.8 719.7,235.6 721.8,222.3C723.8,209.0 725.9,198.0 727.9,193.6C730.0,189.1 732.0,193.2 734.1,195.6C736.1,198.0 737.8,203.1 740.2,207.9C742.6,212.7 745.7,219.9 748.4,224.3C751.2,228.8 753.9,232.4 756.6,234.6C759.4,236.8 762.1,238.7 764.8,237.7C767.6,236.6 770.3,233.4 773.0,228.4C775.8,223.5 778.5,215.5 781.2,207.9C784.0,200.4 786.7,190.2 789.4,183.3C792.2,176.5 795.6,170.0 797.6,166.9C799.7,163.8 800.0,163.5 801.7,164.9C803.5,166.2 805.5,169.0 807.9,175.1C810.3,181.3 813.4,192.2 816.1,201.8C818.8,211.4 821.6,222.6 824.3,232.5C827.0,242.5 829.8,252.4 832.5,261.3C835.2,270.1 838.0,279.4 840.7,285.9C843.4,292.4 846.5,298.2 848.9,300.2C851.3,302.3 853.1,299.2 855.1,298.2C857.1,297.1 860.0,294.8 861.0,294.1" stroke="#2b3aaa" stroke-width="3.5"/>
</g>
<rect x="569.8" y="54.5" width="290.80000000000007" height="436.7" fill="none" stroke="#7a7a7a" stroke-width="1.5"/>
<path d="M594.0 491.2v-4.5M594.0 54.5v4.5M654.6 491.2v-4.5M654.6 54.5v4.5M715.2 491.2v-4.5M715.2 54.5v4.5M775.8 491.2v-4.5M775.8 54.5v4.5M836.4 491.2v-4.5M836.4 54.5v4.5M569.8 491.2h4.5M860.6 491.2h-4.5M569.8 436.6h4.5M860.6 436.6h-4.5M569.8 382.0h4.5M860.6 382.0h-4.5M569.8 327.4h4.5M860.6 327.4h-4.5M569.8 272.9h4.5M860.6 272.9h-4.5M569.8 218.3h4.5M860.6 218.3h-4.5M569.8 163.7h4.5M860.6 163.7h-4.5M569.8 109.1h4.5M860.6 109.1h-4.5" stroke="#5a5a5a" stroke-width="1.3" fill="none"/>
<text transform="translate(507.95,500.49) scale(1.0854,1)" font-family="Liberation Sans" font-size="27.89" fill="#262626">-0.8</text>
<text transform="translate(508.10,445.91) scale(1.0854,1)" font-family="Liberation Sans" font-size="27.89" fill="#262626">-0.6</text>
<text transform="translate(507.65,391.33) scale(1.0854,1)" font-family="Liberation Sans" font-size="27.89" fill="#262626">-0.4</text>
<text transform="translate(508.25,336.75) scale(1.0854,1)" font-family="Liberation Sans" font-size="27.89" fill="#262626">-0.2</text>
<text transform="translate(543.21,282.17) scale(1.0854,1)" font-family="Liberation Sans" font-size="27.89" fill="#262626">0</text>
<text transform="translate(518.24,227.59) scale(1.0854,1)" font-family="Liberation Sans" font-size="27.89" fill="#262626">0.2</text>
<text transform="translate(517.64,173.01) scale(1.0854,1)" font-family="Liberation Sans" font-size="27.89" fill="#262626">0.4</text>
<text transform="translate(518.09,118.43) scale(1.0854,1)" font-family="Liberation Sans" font-size="27.89" fill="#262626">0.6</text>
<text transform="translate(570.30,525.23) scale(1.1298,1)" font-family="Liberation Sans" font-size="27.46" fill="#262626">-40</text>
<text transform="translate(631.17,525.23) scale(1.1164,1)" font-family="Liberation Sans" font-size="27.46" fill="#262626">-20</text>
<text transform="translate(707.31,525.23) scale(1.0348,1)" font-family="Liberation Sans" font-size="27.46" fill="#262626">0</text>
<text transform="translate(758.45,525.23) scale(1.1280,1)" font-family="Liberation Sans" font-size="27.46" fill="#262626">20</text>
<text transform="translate(819.27,525.23) scale(1.1393,1)" font-family="Liberation Sans" font-size="27.46" fill="#262626">40</text>
<text transform="translate(622.17,564.20) scale(1.1278,1)" font-family="Liberation Sans" font-size="31.80" fill="#262626">lag[months]</text>
<text transform="translate(624.94,40.77) scale(1.1526,1)" font-family="Liberation Sans" font-size="32.82" font-weight="bold" fill="#000">1936-1965</text>
<text transform="translate(462.60,23.90) scale(0.9870,1)" font-family="Liberation Sans" font-size="29.57" font-weight="bold" fill="#000">B</text>
<g transform="translate(449.3,0) rotate(-90)"><text transform="translate(-427.46,31.60) scale(1.0727,1)" font-family="Liberation Sans" font-size="32.30" fill="#262626">cross-correlation function</text><text transform="translate(-506.65,31.70) scale(1.0890,1)" font-family="Liberation Sans" font-size="24.15" fill="#262626">ϵ</text><text transform="translate(-493.90,46.30) scale(1.0872,1)" font-family="Liberation Sans" font-size="24.97" fill="#262626">h</text><text transform="translate(-465.59,31.70) scale(1.0210,1)" font-family="Liberation Sans" font-size="24.15" fill="#262626">ϵ</text><text transform="translate(-452.54,46.30) scale(0.8107,1)" font-family="Liberation Sans" font-size="25.36" fill="#262626">P</text></g>
<rect x="471.4" y="469.0" width="2.1" height="6.7" fill="#262626"/>
<clipPath id="clipC"><rect x="1018.7" y="54.5" width="291.0" height="436.7"/></clipPath>
<rect x="1018.7" y="185.2" width="36.3" height="3.6" fill="#4fc6cf"/>
<rect x="1273.4" y="185.2" width="36.3" height="3.6" fill="#4fc6cf"/>
<rect x="1018.7" y="355.9" width="36.3" height="3.6" fill="#4fc6cf"/>
<rect x="1273.4" y="355.9" width="36.3" height="3.6" fill="#4fc6cf"/>
<rect x="1018.7" y="183.1" width="36.3" height="3.2" fill="#b040b0"/>
<rect x="1273.4" y="183.1" width="36.3" height="3.2" fill="#b040b0"/>
<rect x="1018.7" y="358.8" width="36.3" height="3.2" fill="#b040b0"/>
<rect x="1273.4" y="358.8" width="36.3" height="3.2" fill="#b040b0"/>
<g clip-path="url(#clipC)" fill="none" stroke-linejoin="round">
<path d="M1018.0,219.3C1019.5,218.9 1024.1,217.0 1027.1,217.0C1030.1,217.0 1033.2,218.2 1036.2,219.3C1039.2,220.4 1042.3,223.9 1045.3,223.9C1048.3,223.9 1051.4,220.8 1054.4,219.3C1057.4,217.8 1060.5,214.8 1063.5,214.8C1066.6,214.8 1069.6,215.5 1072.6,219.3C1075.7,223.1 1078.7,229.9 1081.7,237.5C1084.8,245.1 1087.8,255.0 1090.8,264.8C1093.9,274.7 1096.9,285.3 1099.9,296.7C1103.0,308.1 1106.0,321.0 1109.0,333.1C1112.1,345.2 1115.1,357.8 1118.1,369.5C1121.2,381.3 1124.6,393.0 1127.2,403.7C1129.9,414.3 1132.2,427.2 1134.1,433.2C1136.0,439.3 1136.9,441.2 1138.6,440.1C1140.3,438.9 1142.4,435.1 1144.3,426.4C1146.2,417.7 1147.9,404.0 1150.0,387.7C1152.1,371.4 1154.5,349.8 1156.8,328.5C1159.1,307.3 1161.4,283.0 1163.7,260.3C1165.9,237.5 1168.2,212.1 1170.5,192.0C1172.8,171.9 1175.0,151.8 1177.3,139.7C1179.6,127.5 1182.2,123.0 1184.1,119.2C1186.0,115.4 1186.8,115.4 1188.7,116.9C1190.6,118.4 1192.9,121.8 1195.5,128.3C1198.2,134.7 1201.6,146.1 1204.6,155.6C1207.7,165.1 1210.7,175.3 1213.7,185.2C1216.8,195.0 1219.8,205.3 1222.8,214.8C1225.9,224.2 1228.9,233.3 1231.9,242.1C1235.0,250.8 1238.0,259.9 1241.0,267.1C1244.1,274.3 1247.1,280.8 1250.1,285.3C1253.2,289.9 1256.2,291.8 1259.2,294.4C1262.3,297.1 1265.3,299.3 1268.3,301.2C1271.4,303.1 1274.4,304.3 1277.4,305.8C1280.5,307.3 1283.5,310.3 1286.5,310.3C1289.6,310.3 1292.6,308.4 1295.7,305.8C1298.7,303.1 1302.4,297.4 1304.8,294.4C1307.1,291.4 1309.1,288.7 1310.0,287.6" stroke="#5fcbd3" stroke-width="1.2"/>
<path d="M1018.0,273.9C1019.5,273.2 1024.1,270.1 1027.1,269.4C1030.1,268.6 1033.2,267.9 1036.2,269.4C1039.2,270.9 1042.3,277.3 1045.3,278.5C1048.3,279.6 1051.4,277.3 1054.4,276.2C1057.4,275.1 1060.5,271.7 1063.5,271.7C1066.6,271.7 1069.6,272.4 1072.6,276.2C1075.7,280.0 1078.7,286.4 1081.7,294.4C1084.8,302.4 1087.8,313.0 1090.8,324.0C1093.9,335.0 1096.9,348.3 1099.9,360.4C1103.0,372.5 1106.0,385.1 1109.0,396.8C1112.1,408.6 1115.1,420.3 1118.1,431.0C1121.2,441.6 1124.6,452.4 1127.2,460.5C1129.9,468.7 1132.2,475.8 1134.1,479.9C1136.0,484.0 1136.9,486.8 1138.6,485.1C1140.3,483.4 1142.4,479.1 1144.3,469.6C1146.2,460.2 1147.9,445.0 1150.0,428.7C1152.1,412.4 1154.5,392.7 1156.8,371.8C1159.1,350.9 1161.4,325.9 1163.7,303.5C1165.9,281.1 1168.2,256.9 1170.5,237.5C1172.8,218.2 1175.0,200.0 1177.3,187.4C1179.6,174.9 1181.9,166.2 1184.1,162.4C1186.4,158.6 1188.7,162.0 1191.0,164.7C1193.2,167.3 1195.1,171.9 1197.8,178.3C1200.4,184.8 1203.9,194.3 1206.9,203.4C1209.9,212.5 1213.0,223.5 1216.0,233.0C1219.0,242.4 1222.1,251.2 1225.1,260.3C1228.1,269.4 1231.2,278.9 1234.2,287.6C1237.2,296.3 1240.3,305.0 1243.3,312.6C1246.3,320.2 1249.4,327.4 1252.4,333.1C1255.4,338.8 1258.5,343.0 1261.5,346.8C1264.5,350.5 1267.6,352.8 1270.6,355.9C1273.7,358.9 1276.7,362.7 1279.7,365.0C1282.8,367.2 1285.8,369.9 1288.8,369.5C1291.9,369.1 1295.3,365.3 1297.9,362.7C1300.6,360.0 1302.7,356.2 1304.8,353.6C1306.8,350.9 1309.1,347.9 1310.0,346.8" stroke="#5fcbd3" stroke-width="1.2"/>
<path d="M1018.0,217.0C1019.5,216.3 1024.1,213.6 1027.1,212.5C1030.1,211.3 1033.2,209.4 1036.2,210.2C1039.2,211.0 1042.3,215.1 1045.3,217.0C1048.3,218.9 1051.4,222.3 1054.4,221.6C1057.4,220.8 1060.5,213.6 1063.5,212.5C1066.6,211.3 1069.6,211.3 1072.6,214.8C1075.7,218.2 1078.7,225.4 1081.7,233.0C1084.8,240.5 1087.8,250.4 1090.8,260.3C1093.9,270.1 1096.9,280.8 1099.9,292.1C1103.0,303.5 1106.0,316.0 1109.0,328.5C1112.1,341.1 1115.1,355.1 1118.1,367.2C1121.2,379.4 1124.6,390.4 1127.2,401.4C1129.9,412.4 1132.2,426.4 1134.1,433.2C1136.0,440.1 1136.9,443.1 1138.6,442.3C1140.3,441.6 1142.4,437.4 1144.3,428.7C1146.2,420.0 1147.9,405.9 1150.0,390.0C1152.1,374.1 1154.5,354.0 1156.8,333.1C1159.1,312.2 1161.4,287.6 1163.7,264.8C1165.9,242.1 1168.2,216.3 1170.5,196.5C1172.8,176.8 1175.0,159.8 1177.3,146.5C1179.6,133.2 1182.2,123.0 1184.1,116.9C1186.0,110.8 1186.8,109.7 1188.7,110.1C1190.6,110.4 1192.9,113.1 1195.5,119.2C1198.2,125.2 1201.6,137.4 1204.6,146.5C1207.7,155.6 1210.7,164.7 1213.7,173.8C1216.8,182.9 1219.8,192.0 1222.8,201.1C1225.9,210.2 1228.9,219.7 1231.9,228.4C1235.0,237.1 1238.0,245.5 1241.0,253.4C1244.1,261.4 1247.1,270.5 1250.1,276.2C1253.2,281.9 1256.2,285.3 1259.2,287.6C1262.3,289.9 1265.3,288.3 1268.3,289.9C1271.4,291.4 1274.4,294.8 1277.4,296.7C1280.5,298.6 1283.5,300.9 1286.5,301.2C1289.6,301.6 1292.6,301.2 1295.7,299.0C1298.7,296.7 1302.4,290.6 1304.8,287.6C1307.1,284.5 1309.1,281.9 1310.0,280.8" stroke="#b050b0" stroke-width="1.1"/>
<path d="M1018.0,278.5C1019.5,277.3 1024.1,273.2 1027.1,271.7C1030.1,270.1 1033.2,268.6 1036.2,269.4C1039.2,270.1 1042.3,274.3 1045.3,276.2C1048.3,278.1 1051.4,281.1 1054.4,280.8C1057.4,280.4 1060.5,274.7 1063.5,273.9C1066.6,273.2 1069.6,273.2 1072.6,276.2C1075.7,279.2 1078.7,284.9 1081.7,292.1C1084.8,299.3 1087.8,308.8 1090.8,319.4C1093.9,330.1 1096.9,344.1 1099.9,355.9C1103.0,367.6 1106.0,378.6 1109.0,390.0C1112.1,401.4 1115.1,413.3 1118.1,424.1C1121.2,434.9 1124.6,446.4 1127.2,454.9C1129.9,463.3 1132.2,470.6 1134.1,474.7C1136.0,478.7 1136.9,481.0 1138.6,479.2C1140.3,477.4 1142.4,473.1 1144.3,464.0C1146.2,454.8 1147.9,440.3 1150.0,424.1C1152.1,408.0 1154.5,388.1 1156.8,367.2C1159.1,346.4 1161.4,321.3 1163.7,299.0C1165.9,276.6 1168.2,252.3 1170.5,233.0C1172.8,213.6 1175.0,195.4 1177.3,182.9C1179.6,170.4 1182.2,163.2 1184.1,157.9C1186.0,152.6 1186.8,150.3 1188.7,151.0C1190.6,151.8 1192.9,156.3 1195.5,162.4C1198.2,168.5 1201.6,178.7 1204.6,187.4C1207.7,196.2 1210.7,205.7 1213.7,214.8C1216.8,223.9 1219.8,233.0 1222.8,242.1C1225.9,251.2 1228.9,260.3 1231.9,269.4C1235.0,278.5 1238.0,288.0 1241.0,296.7C1244.1,305.4 1247.1,314.9 1250.1,321.7C1253.2,328.5 1256.2,333.5 1259.2,337.7C1262.3,341.8 1265.3,343.7 1268.3,346.8C1271.4,349.8 1274.4,353.2 1277.4,355.9C1280.5,358.5 1283.5,361.9 1286.5,362.7C1289.6,363.4 1292.6,362.7 1295.7,360.4C1298.7,358.1 1302.4,352.1 1304.8,349.0C1307.1,346.0 1309.1,343.3 1310.0,342.2" stroke="#b050b0" stroke-width="1.1"/>
<path d="M1018.0,273.9C1019.5,271.3 1024.1,263.3 1027.1,258.0C1030.1,252.7 1033.2,247.0 1036.2,242.1C1039.2,237.1 1042.3,232.6 1045.3,228.4C1048.3,224.2 1051.4,220.1 1054.4,217.0C1057.4,214.0 1060.5,211.0 1063.5,210.2C1066.6,209.4 1069.6,209.1 1072.6,212.5C1075.7,215.9 1078.7,223.5 1081.7,230.7C1084.8,237.9 1087.8,245.5 1090.8,255.7C1093.9,266.0 1096.9,279.2 1099.9,292.1C1103.0,305.0 1106.0,319.4 1109.0,333.1C1112.1,346.8 1115.1,361.2 1118.1,374.1C1121.2,387.0 1124.6,399.9 1127.2,410.5C1129.9,421.1 1132.2,432.1 1134.1,437.8C1136.0,443.5 1136.9,445.4 1138.6,444.6C1140.3,443.9 1142.4,441.2 1144.3,433.2C1146.2,425.3 1147.9,412.8 1150.0,396.8C1152.1,380.9 1154.5,358.9 1156.8,337.7C1159.1,316.4 1161.4,292.1 1163.7,269.4C1165.9,246.6 1168.2,221.6 1170.5,201.1C1172.8,180.6 1175.0,162.4 1177.3,146.5C1179.6,130.6 1181.9,115.0 1184.1,105.5C1186.4,96.0 1188.7,90.3 1191.0,89.6C1193.2,88.8 1195.5,93.8 1197.8,101.0C1200.1,108.2 1202.0,119.9 1204.6,132.8C1207.3,145.7 1210.7,163.2 1213.7,178.3C1216.8,193.5 1219.8,209.8 1222.8,223.9C1225.9,237.9 1228.9,250.4 1231.9,262.5C1235.0,274.7 1238.0,285.7 1241.0,296.7C1244.1,307.7 1247.1,321.0 1250.1,328.5C1253.2,336.1 1256.2,341.4 1259.2,342.2C1262.3,343.0 1265.3,337.7 1268.3,333.1C1271.4,328.5 1274.4,320.6 1277.4,314.9C1280.5,309.2 1283.5,303.5 1286.5,299.0C1289.6,294.4 1292.6,291.0 1295.7,287.6C1298.7,284.2 1302.4,280.8 1304.8,278.5C1307.1,276.2 1309.1,274.7 1310.0,273.9" stroke="#b8262e" stroke-width="2.7" stroke-dasharray="2.3 2.1"/>
<path d="M1018.0,278.5C1019.5,275.4 1024.1,266.3 1027.1,260.3C1030.1,254.2 1033.2,248.1 1036.2,242.1C1039.2,236.0 1042.3,229.2 1045.3,223.9C1048.3,218.5 1051.4,213.8 1054.4,210.2C1057.4,206.6 1060.5,202.6 1063.5,202.2C1066.6,201.9 1069.6,203.6 1072.6,207.9C1075.7,212.3 1078.7,220.4 1081.7,228.4C1084.8,236.4 1087.8,245.1 1090.8,255.7C1093.9,266.3 1096.9,279.2 1099.9,292.1C1103.0,305.0 1106.0,319.4 1109.0,333.1C1112.1,346.8 1115.1,361.2 1118.1,374.1C1121.2,387.0 1124.6,399.1 1127.2,410.5C1129.9,421.9 1132.2,436.3 1134.1,442.3C1136.0,448.4 1136.9,448.4 1138.6,446.9C1140.3,445.4 1142.4,441.6 1144.3,433.2C1146.2,424.9 1147.9,413.5 1150.0,396.8C1152.1,380.1 1154.5,355.1 1156.8,333.1C1159.1,311.1 1161.4,287.6 1163.7,264.8C1165.9,242.1 1168.2,217.4 1170.5,196.5C1172.8,175.7 1175.0,156.0 1177.3,139.7C1179.6,123.3 1181.9,108.6 1184.1,98.7C1186.4,88.8 1188.7,81.2 1191.0,80.5C1193.2,79.7 1195.5,86.2 1197.8,94.1C1200.1,102.1 1202.0,115.0 1204.6,128.3C1207.3,141.6 1210.7,158.6 1213.7,173.8C1216.8,189.0 1219.8,204.9 1222.8,219.3C1225.9,233.7 1228.9,247.0 1231.9,260.3C1235.0,273.5 1238.0,286.8 1241.0,299.0C1244.1,311.1 1247.1,324.8 1250.1,333.1C1253.2,341.4 1256.2,347.5 1259.2,349.0C1262.3,350.5 1265.3,346.4 1268.3,342.2C1271.4,338.0 1274.4,330.1 1277.4,324.0C1280.5,317.9 1283.5,311.9 1286.5,305.8C1289.6,299.7 1292.6,293.7 1295.7,287.6C1298.7,281.5 1302.4,274.3 1304.8,269.4C1307.1,264.4 1309.1,259.9 1310.0,258.0" stroke="#1c2a8c" stroke-width="2.7" stroke-dasharray="2.3 2.1"/>
<path d="M1018.0,264.8C1019.5,264.1 1024.1,262.2 1027.1,260.3C1030.1,258.4 1033.2,256.5 1036.2,253.4C1039.2,250.4 1042.3,245.5 1045.3,242.1C1048.3,238.7 1051.4,234.9 1054.4,233.0C1057.4,231.1 1060.1,230.3 1063.5,230.7C1066.9,231.1 1071.5,232.6 1074.9,235.2C1078.3,237.9 1081.0,241.7 1084.0,246.6C1087.0,251.5 1090.1,256.1 1093.1,264.8C1096.1,273.5 1099.2,287.6 1102.2,299.0C1105.2,310.3 1108.3,321.7 1111.3,333.1C1114.3,344.5 1117.4,355.9 1120.4,367.2C1123.4,378.6 1126.9,391.9 1129.5,401.4C1132.2,410.9 1134.3,420.7 1136.3,424.1C1138.4,427.5 1140.1,426.8 1142.0,421.9C1143.9,416.9 1145.6,407.4 1147.7,394.5C1149.8,381.7 1152.3,362.3 1154.5,344.5C1156.8,326.7 1159.1,307.7 1161.4,287.6C1163.7,267.5 1165.9,243.6 1168.2,223.9C1170.5,204.1 1172.8,184.0 1175.0,169.2C1177.3,154.4 1179.2,142.3 1181.9,135.1C1184.5,127.9 1187.9,126.0 1191.0,126.0C1194.0,126.0 1197.0,129.4 1200.1,135.1C1203.1,140.8 1206.1,151.4 1209.2,160.1C1212.2,168.9 1215.2,177.6 1218.3,187.4C1221.3,197.3 1224.3,209.1 1227.4,219.3C1230.4,229.5 1233.4,239.0 1236.5,248.9C1239.5,258.8 1242.5,269.8 1245.6,278.5C1248.6,287.2 1251.7,295.9 1254.7,301.2C1257.7,306.5 1260.8,309.2 1263.8,310.3C1266.8,311.5 1269.9,309.6 1272.9,308.1C1275.9,306.5 1279.0,303.9 1282.0,301.2C1285.0,298.6 1288.1,295.2 1291.1,292.1C1294.1,289.1 1297.1,285.7 1300.2,283.0C1303.4,280.4 1308.4,277.3 1310.0,276.2" stroke="#e0222a" stroke-width="3.3" stroke-dasharray="9.5 8"/>
<path d="M1018.0,255.7C1019.5,255.3 1024.1,254.6 1027.1,253.4C1030.1,252.3 1033.2,250.4 1036.2,248.9C1039.2,247.4 1042.3,246.6 1045.3,244.3C1048.3,242.1 1051.4,237.1 1054.4,235.2C1057.4,233.3 1060.1,232.6 1063.5,233.0C1066.9,233.3 1071.5,234.9 1074.9,237.5C1078.3,240.2 1081.0,243.2 1084.0,248.9C1087.0,254.6 1090.1,262.2 1093.1,271.7C1096.1,281.1 1099.2,294.4 1102.2,305.8C1105.2,317.2 1108.3,328.5 1111.3,339.9C1114.3,351.3 1117.4,363.1 1120.4,374.1C1123.4,385.1 1126.9,397.2 1129.5,405.9C1132.2,414.7 1134.3,423.4 1136.3,426.4C1138.4,429.4 1140.1,429.1 1142.0,424.1C1143.9,419.2 1145.6,410.1 1147.7,396.8C1149.8,383.5 1152.3,362.7 1154.5,344.5C1156.8,326.3 1159.1,307.7 1161.4,287.6C1163.7,267.5 1165.9,243.6 1168.2,223.9C1170.5,204.1 1172.8,184.0 1175.0,169.2C1177.3,154.4 1179.2,142.7 1181.9,135.1C1184.5,127.5 1187.9,124.1 1191.0,123.7C1194.0,123.3 1197.0,127.5 1200.1,132.8C1203.1,138.1 1206.1,147.2 1209.2,155.6C1212.2,163.9 1215.2,173.0 1218.3,182.9C1221.3,192.8 1224.3,204.1 1227.4,214.8C1230.4,225.4 1233.4,236.4 1236.5,246.6C1239.5,256.9 1242.5,267.9 1245.6,276.2C1248.6,284.5 1251.7,292.5 1254.7,296.7C1257.7,300.9 1260.8,300.9 1263.8,301.2C1266.8,301.6 1269.9,300.5 1272.9,299.0C1275.9,297.4 1279.0,294.4 1282.0,292.1C1285.0,289.9 1288.1,287.6 1291.1,285.3C1294.1,283.0 1297.1,280.4 1300.2,278.5C1303.4,276.6 1308.4,274.7 1310.0,273.9" stroke="#2838a8" stroke-width="3.3" stroke-dasharray="9.5 8"/>
<path d="M1018.0,246.6C1019.5,245.5 1024.1,241.3 1027.1,239.8C1030.1,238.3 1033.6,236.8 1036.2,237.5C1038.9,238.3 1040.4,243.2 1043.0,244.3C1045.7,245.5 1049.1,244.7 1052.1,244.3C1055.2,244.0 1058.2,242.6 1061.2,242.1C1064.3,241.5 1067.3,240.2 1070.3,240.9C1073.4,241.7 1076.8,243.8 1079.4,246.6C1082.1,249.5 1083.6,251.9 1086.3,258.0C1088.9,264.1 1092.3,272.4 1095.4,283.0C1098.4,293.7 1101.4,308.8 1104.5,321.7C1107.5,334.6 1110.6,346.6 1113.6,360.4C1116.6,374.3 1119.7,390.4 1122.7,404.8C1125.7,419.2 1129.4,436.6 1131.8,446.9C1134.1,457.1 1135.1,465.3 1136.8,466.2C1138.5,467.2 1140.2,460.7 1142.0,452.6C1143.9,444.4 1145.6,432.7 1147.7,417.3C1149.8,401.9 1152.3,380.9 1154.5,360.4C1156.8,339.9 1159.1,316.4 1161.4,294.4C1163.7,272.4 1165.9,248.5 1168.2,228.4C1170.5,208.3 1172.8,189.3 1175.0,173.8C1177.3,158.2 1179.8,142.7 1181.9,135.1C1183.9,127.5 1185.5,127.5 1187.5,128.3C1189.6,129.0 1191.9,134.3 1194.4,139.7C1196.8,145.0 1199.5,152.2 1202.3,160.1C1205.2,168.1 1208.4,178.3 1211.4,187.4C1214.5,196.5 1217.5,205.7 1220.5,214.8C1223.6,223.9 1226.6,233.7 1229.7,242.1C1232.7,250.4 1235.7,258.0 1238.8,264.8C1241.8,271.7 1244.8,277.3 1247.9,283.0C1250.9,288.7 1253.9,294.0 1257.0,299.0C1260.0,303.9 1263.0,308.4 1266.1,312.6C1269.1,316.8 1272.1,321.0 1275.2,324.0C1278.2,327.0 1281.2,329.5 1284.3,330.8C1287.3,332.2 1290.3,332.2 1293.4,332.0C1296.4,331.8 1299.7,330.6 1302.5,329.7C1305.2,328.7 1308.7,326.8 1310.0,326.3" stroke="#dd1f26" stroke-width="3.5"/>
<path d="M1018.0,251.2C1019.5,250.4 1024.1,247.8 1027.1,246.6C1030.1,245.5 1033.6,244.0 1036.2,244.3C1038.9,244.7 1040.4,247.6 1043.0,248.9C1045.7,250.2 1049.1,252.7 1052.1,252.3C1055.2,251.9 1058.2,248.3 1061.2,246.6C1064.3,244.9 1067.3,241.7 1070.3,242.1C1073.4,242.4 1076.8,245.9 1079.4,248.9C1082.1,251.9 1084.0,255.3 1086.3,260.3C1088.6,265.2 1090.4,270.1 1093.1,278.5C1095.8,286.8 1099.2,297.8 1102.2,310.3C1105.2,322.9 1108.3,339.5 1111.3,353.6C1114.3,367.6 1117.8,381.7 1120.4,394.5C1123.1,407.4 1125.0,419.6 1127.2,431.0C1129.5,442.3 1132.3,455.8 1134.1,462.8C1135.9,469.8 1136.6,473.3 1137.9,473.1C1139.3,472.9 1140.4,469.5 1142.0,461.7C1143.7,453.9 1145.6,442.1 1147.7,426.4C1149.8,410.7 1152.3,388.5 1154.5,367.2C1156.8,346.0 1159.1,321.7 1161.4,299.0C1163.7,276.2 1165.9,250.8 1168.2,230.7C1170.5,210.6 1172.8,192.4 1175.0,178.3C1177.3,164.3 1180.2,153.3 1181.9,146.5C1183.6,139.7 1183.8,136.6 1185.3,137.4C1186.8,138.1 1188.9,145.0 1191.0,151.0C1193.0,157.1 1195.1,165.4 1197.8,173.8C1200.4,182.1 1203.9,192.8 1206.9,201.1C1209.9,209.4 1213.0,216.3 1216.0,223.9C1219.0,231.4 1222.1,239.0 1225.1,246.6C1228.1,254.2 1231.2,262.2 1234.2,269.4C1237.2,276.6 1240.3,283.8 1243.3,289.9C1246.3,295.9 1249.4,301.6 1252.4,305.8C1255.4,310.0 1258.5,311.5 1261.5,314.9C1264.5,318.3 1267.6,322.5 1270.6,326.3C1273.7,330.1 1276.7,334.8 1279.7,337.7C1282.8,340.5 1285.8,343.7 1288.8,343.3C1291.9,343.0 1295.3,339.0 1297.9,335.4C1300.6,331.8 1302.7,326.7 1304.8,321.7C1306.8,316.8 1309.1,308.4 1310.0,305.8" stroke="#2b3aaa" stroke-width="3.5"/>
</g>
<rect x="1018.7" y="54.5" width="291.0" height="436.7" fill="none" stroke="#7a7a7a" stroke-width="1.5"/>
<path d="M1043.1 491.2v-4.5M1043.1 54.5v4.5M1103.7 491.2v-4.5M1103.7 54.5v4.5M1164.3 491.2v-4.5M1164.3 54.5v4.5M1224.9 491.2v-4.5M1224.9 54.5v4.5M1285.5 491.2v-4.5M1285.5 54.5v4.5M1018.7 491.2h4.5M1309.7 491.2h-4.5M1018.7 436.6h4.5M1309.7 436.6h-4.5M1018.7 382.0h4.5M1309.7 382.0h-4.5M1018.7 327.4h4.5M1309.7 327.4h-4.5M1018.7 272.9h4.5M1309.7 272.9h-4.5M1018.7 218.3h4.5M1309.7 218.3h-4.5M1018.7 163.7h4.5M1309.7 163.7h-4.5M1018.7 109.1h4.5M1309.7 109.1h-4.5" stroke="#5a5a5a" stroke-width="1.3" fill="none"/>
<text transform="translate(956.85,500.49) scale(1.0854,1)" font-family="Liberation Sans" font-size="27.89" fill="#262626">-0.8</text>
<text transform="translate(957.00,445.91) scale(1.0854,1)" font-family="Liberation Sans" font-size="27.89" fill="#262626">-0.6</text>
<text transform="translate(956.55,391.33) scale(1.0854,1)" font-family="Liberation Sans" font-size="27.89" fill="#262626">-0.4</text>
<text transform="translate(957.15,336.75) scale(1.0854,1)" font-family="Liberation Sans" font-size="27.89" fill="#262626">-0.2</text>
<text transform="translate(992.11,282.17) scale(1.0854,1)" font-family="Liberation Sans" font-size="27.89" fill="#262626">0</text>
<text transform="translate(967.14,227.59) scale(1.0854,1)" font-family="Liberation Sans" font-size="27.89" fill="#262626">0.2</text>
<text transform="translate(966.54,173.01) scale(1.0854,1)" font-family="Liberation Sans" font-size="27.89" fill="#262626">0.4</text>
<text transform="translate(966.99,118.43) scale(1.0854,1)" font-family="Liberation Sans" font-size="27.89" fill="#262626">0.6</text>
<text transform="translate(1019.40,525.23) scale(1.1298,1)" font-family="Liberation Sans" font-size="27.46" fill="#262626">-40</text>
<text transform="translate(1080.27,525.23) scale(1.1164,1)" font-family="Liberation Sans" font-size="27.46" fill="#262626">-20</text>
<text transform="translate(1156.41,525.23) scale(1.0348,1)" font-family="Liberation Sans" font-size="27.46" fill="#262626">0</text>
<text transform="translate(1207.55,525.23) scale(1.1280,1)" font-family="Liberation Sans" font-size="27.46" fill="#262626">20</text>
<text transform="translate(1268.37,525.23) scale(1.1393,1)" font-family="Liberation Sans" font-size="27.46" fill="#262626">40</text>
<text transform="translate(1071.17,564.20) scale(1.1278,1)" font-family="Liberation Sans" font-size="31.80" fill="#262626">lag[months]</text>
<text transform="translate(1073.93,40.77) scale(1.1563,1)" font-family="Liberation Sans" font-size="32.82" font-weight="bold" fill="#000">1971-2000</text>
<text transform="translate(901.99,23.61) scale(1.0521,1)" font-family="Liberation Sans" font-size="28.73" font-weight="bold" fill="#000">C</text>
<g transform="translate(898.5,0) rotate(-90)"><text transform="translate(-427.46,31.60) scale(1.0727,1)" font-family="Liberation Sans" font-size="32.30" fill="#262626">cross-correlation function</text><text transform="translate(-506.65,31.70) scale(1.0890,1)" font-family="Liberation Sans" font-size="24.15" fill="#262626">ϵ</text><text transform="translate(-493.90,46.30) scale(1.0872,1)" font-family="Liberation Sans" font-size="24.97" fill="#262626">h</text><text transform="translate(-465.59,31.70) scale(1.0210,1)" font-family="Liberation Sans" font-size="24.15" fill="#262626">ϵ</text><text transform="translate(-452.54,46.30) scale(0.8107,1)" font-family="Liberation Sans" font-size="25.36" fill="#262626">P</text></g>
<rect x="920.6" y="469.0" width="2.1" height="6.7" fill="#262626"/>
<rect x="466.5" y="660.3" width="189.6" height="108.1" fill="none" stroke="#444" stroke-width="1.3"/>
<rect x="657.1" y="632.7" width="229.6" height="163.3" fill="none" stroke="#444" stroke-width="1.3"/>
<text transform="translate(479.93,705.87) scale(0.6643,1)" font-family="Liberation Serif" font-size="43.28" fill="#d42a2e">SODA</text>
<text transform="translate(478.93,758.00) scale(0.6641,1)" font-family="Liberation Serif" font-size="44.00" fill="#2f3a9c">O</text>
<text transform="translate(499.21,758.00) scale(0.5225,1)" font-family="Liberation Serif" font-size="44.00" fill="#2f3a9c">R</text>
<text transform="translate(514.16,758.00) scale(0.7640,1)" font-family="Liberation Serif" font-size="44.00" fill="#2f3a9c">A</text>
<text transform="translate(558.55,758.00) scale(0.8352,1)" font-family="Liberation Serif" font-size="44.00" fill="#2f3a9c">2</text>
<text transform="translate(573.19,758.00) scale(0.9740,1)" font-family="Liberation Serif" font-size="44.00" fill="#2f3a9c">0</text>
<text transform="translate(596.02,758.00) scale(0.7855,1)" font-family="Liberation Serif" font-size="44.00" fill="#2f3a9c">C</text>
<rect x="544.4" y="743.5" width="9.6" height="2.6" fill="#2f3a9c"/>
<line x1="664.3" y1="661.7" x2="737.2" y2="661.7" stroke="#000" stroke-width="4.6"/>
<line x1="664.3" y1="714.7" x2="737.2" y2="714.7" stroke="#000" stroke-width="4.4" stroke-dasharray="14 14.5"/>
<line x1="664.3" y1="767.4" x2="737.2" y2="767.4" stroke="#000" stroke-width="4.2" stroke-dasharray="3.3 3.3"/>
<text transform="translate(741.88,678.80) scale(0.5888,1)" font-family="Liberation Serif" font-size="40.50" fill="#111">D</text>
<text transform="translate(764.74,678.80) scale(0.8189,1)" font-family="Liberation Serif" font-size="40.50" fill="#111">a</text>
<text transform="translate(788.80,678.80) scale(0.7407,1)" font-family="Liberation Serif" font-size="40.50" fill="#111">t</text>
<text transform="translate(803.30,678.80) scale(0.9189,1)" font-family="Liberation Serif" font-size="40.50" fill="#111">a</text>
<text transform="translate(741.68,732.20) scale(0.7544,1)" font-family="Liberation Serif" font-size="40.50" fill="#111">R</text>
<text transform="translate(764.48,732.20) scale(0.8742,1)" font-family="Liberation Serif" font-size="40.50" fill="#111">e</text>
<text transform="translate(780.14,732.20) scale(0.7755,1)" font-family="Liberation Serif" font-size="40.50" fill="#111">O</text>
<text transform="translate(804.83,732.20) scale(0.8466,1)" font-family="Liberation Serif" font-size="40.50" fill="#111">s</text>
<text transform="translate(822.51,732.20) scale(0.9218,1)" font-family="Liberation Serif" font-size="40.50" fill="#111">c</text>
<text transform="translate(838.14,732.20) scale(1.0673,1)" font-family="Liberation Serif" font-size="40.50" fill="#111">+</text>
<text transform="translate(741.68,785.00) scale(0.7544,1)" font-family="Liberation Serif" font-size="40.50" fill="#111">R</text>
<text transform="translate(764.48,785.00) scale(0.8742,1)" font-family="Liberation Serif" font-size="40.50" fill="#111">e</text>
<text transform="translate(780.14,785.00) scale(0.7755,1)" font-family="Liberation Serif" font-size="40.50" fill="#111">O</text>
<text transform="translate(804.83,785.00) scale(0.8466,1)" font-family="Liberation Serif" font-size="40.50" fill="#111">s</text>
<text transform="translate(822.43,785.00) scale(0.9679,1)" font-family="Liberation Serif" font-size="40.50" fill="#111">c</text>
<g transform="translate(100.4,866.4) scale(6.24125,5.58767)" shape-rendering="crispEdges"><path fill="#fceced" d="M0 27h1v3h-1zM0 13h1v1h-1zM0 0h1v4h-1zM0 67h1v6h-1zM1 66h1v7h-1zM1 12h1v2h-1zM1 0h1v5h-1zM1 28h1v3h-1zM2 27h1v5h-1zM2 0h1v12h-1zM2 67h1v6h-1zM3 28h1v5h-1zM3 66h2v7h-2zM4 29h1v5h-1zM5 0h2v1h-2zM5 68h2v5h-2zM5 27h2v6h-2zM7 31h1v3h-1zM7 65h1v8h-1zM8 67h2v6h-2zM8 27h2v6h-2zM10 65h1v8h-1zM10 32h1v2h-1zM11 28h1v6h-1zM11 66h1v7h-1zM12 31h1v3h-1zM12 65h1v8h-1zM13 28h1v6h-1zM13 66h2v7h-2zM14 29h1v5h-1zM15 0h1v1h-1zM15 27h1v6h-1zM15 67h1v6h-1zM16 66h1v7h-1zM16 29h1v5h-1zM17 31h1v3h-1zM17 65h1v8h-1zM18 28h1v6h-1zM19 29h1v5h-1zM18 66h3v7h-3zM20 28h1v6h-1zM21 68h1v5h-1zM21 0h1v2h-1zM21 26h1v3h-1zM22 26h1v7h-1zM22 66h2v7h-2zM23 26h1v3h-1zM24 26h1v2h-1zM24 67h1v6h-1zM24 0h2v1h-2zM25 68h1v5h-1zM25 26h1v1h-1zM26 65h1v8h-1zM26 26h1v6h-1zM27 26h1v2h-1zM27 66h1v7h-1zM28 26h1v4h-1zM28 65h1v8h-1zM29 26h1v7h-1zM29 64h1v4h-1zM30 26h1v4h-1zM30 63h1v3h-1zM31 27h1v6h-1zM31 62h1v2h-1zM32 26h1v2h-1zM32 63h1v1h-1zM33 26h1v6h-1zM33 62h1v2h-1zM34 26h1v2h-1zM34 63h1v1h-1zM35 27h1v6h-1zM35 62h2v2h-2zM36 26h1v7h-1zM37 63h1v2h-1zM37 0h2v1h-2zM38 63h1v1h-1zM37 26h3v1h-3zM39 62h1v2h-1zM40 27h1v7h-1zM40 61h2v1h-2zM41 27h1v6h-1zM43 0h1v3h-1zM44 0h1v17h-1zM42 60h5v1h-5zM45 0h2v18h-2zM47 0h6v17h-6zM47 59h6v2h-6zM53 12h1v5h-1zM53 60h1v1h-1zM46 36h9v1h-9zM54 62h1v1h-1zM54 16h1v2h-1zM55 64h1v3h-1zM55 17h1v2h-1zM56 16h3v2h-3zM56 64h3v2h-3zM57 36h2v1h-2zM59 17h1v1h-1zM59 65h2v2h-2zM60 16h1v2h-1zM61 65h1v8h-1zM61 17h1v2h-1zM62 16h1v2h-1zM62 64h1v2h-1zM63 65h1v2h-1zM63 17h2v1h-2zM64 65h2v8h-2zM65 17h1v2h-1zM66 16h2v2h-2zM66 64h2v2h-2zM67 36h1v1h-1zM68 65h1v8h-1zM68 17h1v2h-1zM69 16h1v2h-1zM69 64h1v3h-1zM70 14h1v3h-1zM70 65h1v3h-1zM71 12h1v1h-1zM71 65h2v8h-2zM72 11h1v1h-1zM73 65h1v2h-1zM74 36h1v1h-1zM74 64h1v2h-1zM75 66h1v7h-1zM76 65h1v2h-1zM75 11h3v1h-3zM77 66h1v7h-1zM78 65h1v2h-1zM79 65h1v4h-1zM79 72h1v1h-1zM79 11h1v1h-1z"/><path fill="#e2e2f2" d="M0 55h1v1h-1zM0 34h1v1h-1zM1 54h1v1h-1zM2 55h1v1h-1zM2 35h2v1h-2zM3 54h2v1h-2zM5 55h2v1h-2zM5 35h2v1h-2zM7 54h1v1h-1zM8 55h2v1h-2zM8 35h2v1h-2zM10 54h1v1h-1zM11 54h1v2h-1zM12 54h1v1h-1zM13 54h1v2h-1zM14 54h1v1h-1zM15 35h1v1h-1zM15 54h1v2h-1zM16 53h1v1h-1zM17 48h1v2h-1zM18 47h2v1h-2zM20 48h1v1h-1zM21 55h1v2h-1zM22 56h1v2h-1zM23 57h1v1h-1zM24 58h2v1h-2zM26 57h1v1h-1zM27 57h1v2h-1zM22 36h7v1h-7zM30 36h1v1h-1zM28 57h4v1h-4zM32 57h1v2h-1zM33 57h1v1h-1zM32 36h3v1h-3zM34 57h1v2h-1zM35 57h2v1h-2zM37 58h2v1h-2zM37 36h3v1h-3zM39 57h1v2h-1zM40 57h2v1h-2zM41 36h1v1h-1zM42 56h2v1h-2zM44 37h5v1h-5zM50 37h1v1h-1zM44 55h10v1h-10zM54 0h1v9h-1zM54 57h1v1h-1zM55 60h2v1h-2zM59 61h1v1h-1zM54 37h7v1h-7zM55 9h6v1h-6zM61 61h1v1h-1zM61 10h1v1h-1zM62 9h2v1h-2zM62 37h3v1h-3zM63 61h3v1h-3zM64 10h2v1h-2zM66 9h2v1h-2zM66 37h2v1h-2zM68 10h1v1h-1zM68 61h1v1h-1zM69 9h2v1h-2zM69 37h2v1h-2zM70 61h3v1h-3zM72 8h1v1h-1zM72 37h3v1h-3zM73 7h2v2h-2zM75 61h1v1h-1zM76 37h1v1h-1zM75 8h3v1h-3zM77 61h1v1h-1zM78 7h1v2h-1zM78 37h2v1h-2zM79 8h1v1h-1zM79 61h1v1h-1z"/><path fill="#fad9db" d="M0 25h1v2h-1zM0 14h1v4h-1zM1 14h1v2h-1zM1 25h1v3h-1zM2 25h1v2h-1zM2 12h1v3h-1zM3 26h1v2h-1zM3 0h1v3h-1zM4 0h1v2h-1zM4 26h1v3h-1zM5 18h1v2h-1zM5 25h2v2h-2zM5 1h2v2h-2zM6 17h1v3h-1zM7 0h1v2h-1zM7 26h1v5h-1zM8 25h2v2h-2zM8 0h2v3h-2zM10 26h1v6h-1zM11 25h1v3h-1zM12 26h1v5h-1zM13 25h1v3h-1zM10 0h5v2h-5zM14 26h1v3h-1zM15 25h1v2h-1zM15 1h1v2h-1zM16 26h1v3h-1zM16 0h2v3h-2zM17 26h1v5h-1zM18 25h1v3h-1zM18 0h1v4h-1zM19 26h1v3h-1zM19 0h2v3h-2zM20 25h1v3h-1zM21 2h1v3h-1zM21 24h1v2h-1zM21 17h1v3h-1zM22 0h1v3h-1zM22 25h2v1h-2zM23 0h1v4h-1zM24 1h2v3h-2zM24 24h2v2h-2zM25 17h1v3h-1zM29 68h1v5h-1zM26 25h5v1h-5zM30 66h1v7h-1zM26 0h6v2h-6zM31 25h1v2h-1zM31 64h1v2h-1zM32 0h1v3h-1zM32 64h1v3h-1zM33 64h1v1h-1zM32 25h3v1h-3zM34 64h1v2h-1zM35 25h1v2h-1zM33 0h4v2h-4zM35 64h2v1h-2zM36 25h1v1h-1zM37 71h1v2h-1zM37 18h1v1h-1zM37 65h1v4h-1zM37 1h2v2h-2zM38 64h1v4h-1zM38 72h1v1h-1zM37 24h3v2h-3zM39 0h1v3h-1zM39 64h1v3h-1zM40 0h1v2h-1zM40 25h2v2h-2zM40 62h2v2h-2zM41 0h2v3h-2zM42 33h1v2h-1zM43 3h1v17h-1zM43 35h1v1h-1zM44 17h1v2h-1zM42 61h4v1h-4zM45 18h2v2h-2zM46 61h3v2h-3zM49 61h1v1h-1zM50 61h1v2h-1zM51 61h2v1h-2zM47 17h7v2h-7zM53 61h1v2h-1zM54 72h1v1h-1zM54 63h1v4h-1zM54 18h1v1h-1zM55 67h1v6h-1zM55 19h1v1h-1zM56 18h3v1h-3zM56 66h3v7h-3zM59 18h1v2h-1zM59 67h2v6h-2zM60 18h1v1h-1zM61 19h1v1h-1zM62 18h1v1h-1zM62 66h1v7h-1zM63 67h1v6h-1zM63 18h2v2h-2zM65 19h1v1h-1zM66 18h2v1h-2zM66 66h2v7h-2zM68 19h1v1h-1zM69 67h1v6h-1zM69 18h1v1h-1zM70 68h1v5h-1zM70 17h1v1h-1zM71 13h1v2h-1zM72 12h1v1h-1zM73 67h1v6h-1zM73 11h2v1h-2zM74 66h1v7h-1zM75 12h1v1h-1zM76 67h1v6h-1zM77 12h1v1h-1zM78 11h1v1h-1zM78 67h1v6h-1zM79 69h1v3h-1zM79 12h1v1h-1z"/><path fill="#f0f0f8" d="M0 33h1v1h-1zM0 56h1v1h-1zM1 55h1v2h-1zM1 34h1v1h-1zM2 56h1v1h-1zM3 55h2v2h-2zM4 35h1v1h-1zM5 56h2v2h-2zM7 35h1v1h-1zM7 55h1v1h-1zM8 56h2v1h-2zM10 55h1v1h-1zM11 56h1v1h-1zM12 55h1v1h-1zM13 56h1v1h-1zM10 35h5v1h-5zM14 55h1v2h-1zM15 56h1v1h-1zM16 54h1v2h-1zM17 50h1v3h-1zM18 48h2v1h-2zM20 49h1v4h-1zM16 35h6v1h-6zM21 57h1v3h-1zM22 58h1v1h-1zM23 58h1v2h-1zM24 59h1v1h-1zM25 35h1v1h-1zM25 59h1v2h-1zM26 58h1v2h-1zM27 59h1v1h-1zM29 36h1v1h-1zM28 58h3v2h-3zM31 58h1v1h-1zM31 36h1v1h-1zM32 59h1v1h-1zM33 58h1v1h-1zM34 59h1v1h-1zM35 58h2v1h-2zM35 36h2v1h-2zM37 59h3v1h-3zM40 36h1v1h-1zM40 58h2v1h-2zM42 36h1v1h-1zM42 57h2v1h-2zM44 56h5v1h-5zM49 37h1v1h-1zM50 56h1v1h-1zM51 37h3v1h-3zM52 56h2v1h-2zM54 9h1v1h-1zM54 58h1v1h-1zM55 10h1v2h-1zM55 61h4v1h-4zM56 10h3v1h-3zM59 10h1v2h-1zM60 61h1v1h-1zM60 10h1v1h-1zM61 11h1v1h-1zM61 62h1v1h-1zM62 61h1v1h-1zM62 10h1v1h-1zM63 10h1v2h-1zM64 11h2v1h-2zM64 62h2v1h-2zM66 61h2v1h-2zM66 10h2v1h-2zM68 11h1v1h-1zM68 62h1v1h-1zM69 61h1v1h-1zM69 10h2v1h-2zM71 9h2v1h-2zM71 62h2v1h-2zM73 61h2v1h-2zM75 9h1v1h-1zM75 62h1v1h-1zM76 61h1v1h-1zM77 9h1v1h-1zM77 62h1v1h-1zM78 61h1v1h-1zM79 9h1v1h-1zM79 62h1v1h-1z"/><path fill="#9292ca" d="M0 47h1v2h-1zM0 36h1v1h-1zM1 47h1v1h-1zM2 47h1v2h-1zM3 47h2v1h-2zM5 47h2v3h-2zM7 47h1v1h-1zM8 47h2v2h-2zM10 47h6v1h-6zM16 46h1v1h-1zM17 45h1v1h-1zM19 44h1v1h-1zM18 38h3v1h-3zM20 45h1v1h-1zM21 46h1v1h-1zM22 47h1v1h-1zM22 38h1v1h-1zM23 48h1v5h-1zM24 48h1v6h-1zM25 49h1v5h-1zM26 38h1v1h-1zM29 38h1v1h-1zM26 48h6v5h-6zM31 38h1v1h-1zM32 48h1v6h-1zM33 38h1v1h-1zM33 48h4v5h-4zM35 38h2v1h-2zM37 49h2v5h-2zM39 48h1v6h-1zM40 38h1v1h-1zM40 48h2v5h-2zM42 38h1v1h-1zM42 49h1v3h-1zM43 50h1v1h-1zM45 50h2v1h-2zM49 49h1v1h-1zM51 49h1v1h-1zM53 50h1v1h-1zM54 53h1v1h-1zM55 55h2v1h-2zM57 56h4v1h-4zM61 56h1v2h-1zM62 56h3v1h-3zM65 56h1v2h-1zM66 56h2v1h-2zM68 56h1v2h-1zM69 56h2v1h-2zM71 56h1v2h-1zM72 56h3v1h-3zM75 38h1v1h-1zM75 56h1v2h-1zM76 56h1v1h-1zM77 38h1v1h-1zM77 56h1v2h-1zM78 56h2v1h-2z"/><path fill="#c4c4e4" d="M0 35h1v1h-1zM0 53h1v1h-1zM2 53h1v1h-1zM5 53h2v1h-2zM7 52h1v1h-1zM8 53h2v1h-2zM10 52h1v1h-1zM10 36h1v1h-1zM11 53h1v1h-1zM12 52h1v1h-1zM13 53h1v1h-1zM14 52h1v1h-1zM16 49h1v3h-1zM16 36h1v1h-1zM18 46h2v1h-2zM21 48h1v5h-1zM22 54h1v1h-1zM23 55h2v1h-2zM25 56h1v1h-1zM26 37h1v1h-1zM28 37h4v1h-4zM33 37h1v1h-1zM26 55h11v1h-11zM35 37h2v1h-2zM37 56h2v1h-2zM40 55h2v1h-2zM40 37h3v1h-3zM43 54h1v1h-1zM47 53h6v1h-6zM53 54h1v1h-1zM54 55h1v1h-1zM55 58h1v1h-1zM55 0h2v7h-2zM57 0h1v8h-1zM58 6h1v2h-1zM56 59h5v1h-5zM59 7h2v1h-2zM61 8h1v1h-1zM62 7h2v1h-2zM62 59h2v1h-2zM64 7h1v2h-1zM65 8h1v1h-1zM66 6h1v2h-1zM66 59h2v1h-2zM67 0h1v8h-1zM68 0h1v2h-1zM68 4h1v4h-1zM69 0h1v6h-1zM69 59h2v1h-2zM70 0h2v7h-2zM72 0h1v6h-1zM73 1h1v3h-1zM73 59h2v1h-2zM75 0h1v7h-1zM76 0h1v5h-1zM76 59h1v1h-1zM77 0h1v7h-1zM78 59h1v1h-1zM78 0h1v4h-1zM79 0h1v6h-1z"/><path fill="#a3a3d3" d="M0 49h1v3h-1zM1 48h1v4h-1zM1 36h2v1h-2zM2 49h1v3h-1zM3 48h1v4h-1zM4 48h1v3h-1zM5 50h2v2h-2zM7 48h1v3h-1zM8 49h2v3h-2zM10 48h1v3h-1zM11 48h1v4h-1zM12 48h1v3h-1zM13 48h1v4h-1zM14 48h2v3h-2zM17 37h2v1h-2zM18 45h2v1h-2zM22 48h1v5h-1zM23 53h1v1h-1zM24 54h2v1h-2zM26 53h1v1h-1zM27 53h1v2h-1zM28 53h4v1h-4zM32 54h1v1h-1zM33 53h1v1h-1zM34 53h1v2h-1zM35 53h2v1h-2zM37 54h3v1h-3zM40 53h2v1h-2zM42 52h1v2h-1zM43 51h1v2h-1zM44 50h1v2h-1zM43 38h4v1h-4zM45 51h2v1h-2zM47 50h2v2h-2zM49 50h1v1h-1zM50 50h1v2h-1zM51 50h1v1h-1zM52 50h1v2h-1zM53 51h1v2h-1zM55 56h1v1h-1zM56 56h1v2h-1zM57 57h4v1h-4zM61 58h1v1h-1zM61 0h1v5h-1zM62 57h2v1h-2zM63 2h1v2h-1zM64 0h1v5h-1zM64 57h1v2h-1zM65 0h1v6h-1zM65 58h1v1h-1zM66 57h2v1h-2zM68 58h1v1h-1zM69 57h1v1h-1zM70 57h1v2h-1zM71 58h1v1h-1zM72 57h1v2h-1zM54 38h21v1h-21zM73 57h2v1h-2zM75 58h1v1h-1zM76 38h1v1h-1zM76 57h1v1h-1zM77 58h1v1h-1zM78 57h1v1h-1zM78 38h2v1h-2zM79 57h1v2h-1z"/><path fill="#d3d3eb" d="M0 54h1v1h-1zM1 35h1v1h-1zM1 53h1v1h-1zM2 54h1v1h-1zM3 53h2v1h-2zM5 54h2v1h-2zM7 53h1v1h-1zM8 54h2v1h-2zM10 53h1v1h-1zM12 53h1v1h-1zM14 53h2v1h-2zM16 52h1v1h-1zM17 47h1v1h-1zM20 47h1v1h-1zM17 36h5v1h-5zM21 53h1v2h-1zM22 55h1v1h-1zM23 56h1v1h-1zM24 56h1v2h-1zM25 57h1v1h-1zM26 56h11v1h-11zM37 57h2v1h-2zM39 56h3v1h-3zM42 55h2v1h-2zM43 37h1v1h-1zM44 54h9v1h-9zM54 56h1v1h-1zM55 59h1v1h-1zM55 7h2v2h-2zM57 8h4v1h-4zM61 9h1v1h-1zM61 37h1v1h-1zM62 8h2v1h-2zM64 9h2v1h-2zM65 37h1v1h-1zM66 8h2v1h-2zM68 8h1v2h-1zM68 37h1v1h-1zM69 6h1v3h-1zM70 7h2v2h-2zM71 37h1v1h-1zM72 6h1v2h-1zM73 4h1v3h-1zM73 0h1v1h-1zM74 0h1v7h-1zM75 7h1v1h-1zM75 37h1v1h-1zM76 5h1v3h-1zM77 7h1v1h-1zM77 37h1v1h-1zM78 4h1v3h-1zM57 60h23v1h-23zM79 6h1v2h-1z"/><path fill="#f8c7c8" d="M0 18h1v7h-1zM1 16h1v9h-1zM2 15h1v10h-1zM3 3h1v3h-1zM3 12h1v14h-1zM4 15h1v11h-1zM4 2h1v2h-1zM5 14h1v4h-1zM5 3h2v1h-2zM5 20h2v5h-2zM6 14h1v3h-1zM7 2h1v1h-1zM7 16h1v6h-1zM7 23h1v3h-1zM8 3h2v1h-2zM8 15h2v10h-2zM10 2h1v1h-1zM10 16h1v5h-1zM10 24h1v2h-1zM11 2h1v2h-1zM11 15h1v10h-1zM12 2h1v1h-1zM12 16h1v6h-1zM12 23h1v3h-1zM13 15h1v10h-1zM13 2h2v2h-2zM14 15h1v11h-1zM15 14h1v11h-1zM15 3h1v1h-1zM16 14h1v12h-1zM16 3h2v2h-2zM17 14h1v8h-1zM17 23h1v3h-1zM18 4h1v21h-1zM19 11h1v15h-1zM19 3h1v4h-1zM20 10h1v15h-1zM20 3h1v5h-1zM21 5h1v12h-1zM21 20h1v4h-1zM22 11h1v14h-1zM22 3h1v4h-1zM23 10h1v15h-1zM23 4h1v4h-1zM24 4h1v3h-1zM24 10h1v14h-1zM25 13h1v4h-1zM25 4h1v2h-1zM25 20h1v4h-1zM26 16h1v9h-1zM26 2h3v2h-3zM27 15h2v10h-2zM29 2h1v1h-1zM29 16h1v9h-1zM30 2h1v2h-1zM30 15h1v10h-1zM31 2h1v1h-1zM31 16h1v6h-1zM31 23h1v2h-1zM31 66h1v7h-1zM32 3h1v1h-1zM32 67h1v6h-1zM32 15h1v10h-1zM33 2h1v1h-1zM33 16h1v9h-1zM33 65h1v8h-1zM34 2h1v2h-1zM34 15h1v10h-1zM34 66h1v7h-1zM35 16h1v6h-1zM35 23h1v2h-1zM35 2h2v1h-2zM35 65h2v8h-2zM36 16h1v9h-1zM37 19h1v5h-1zM37 14h1v4h-1zM37 69h1v2h-1zM38 68h1v4h-1zM37 3h3v1h-3zM38 14h2v10h-2zM39 67h1v6h-1zM40 2h1v1h-1zM40 16h1v6h-1zM40 23h1v2h-1zM40 64h2v9h-2zM41 14h1v11h-1zM41 3h1v1h-1zM42 13h1v9h-1zM42 62h1v4h-1zM42 72h1v1h-1zM42 26h1v7h-1zM42 3h1v2h-1zM43 20h1v2h-1zM43 62h1v3h-1zM44 62h1v2h-1zM44 19h1v2h-1zM44 35h1v1h-1zM45 62h1v3h-1zM45 20h2v1h-2zM46 63h3v10h-3zM49 62h1v11h-1zM50 63h1v10h-1zM51 62h2v11h-2zM53 63h1v10h-1zM47 19h8v2h-8zM54 67h1v5h-1zM55 35h1v1h-1zM55 20h1v2h-1zM56 19h3v2h-3zM59 20h1v1h-1zM59 35h1v1h-1zM60 19h1v2h-1zM61 35h1v1h-1zM61 20h1v2h-1zM62 19h1v2h-1zM63 20h1v1h-1zM63 35h3v1h-3zM64 20h2v2h-2zM66 19h2v2h-2zM68 35h1v1h-1zM68 20h1v2h-1zM69 19h1v2h-1zM70 18h1v2h-1zM71 15h1v3h-1zM70 35h3v1h-3zM72 13h1v1h-1zM73 12h2v1h-2zM75 35h1v1h-1zM75 13h1v1h-1zM76 12h1v1h-1zM77 35h1v1h-1zM77 13h1v1h-1zM78 12h1v1h-1zM79 35h1v1h-1zM79 13h1v1h-1z"/><path fill="#4155ab" d="M0 41h1v3h-1zM1 42h2v2h-2zM3 43h1v1h-1zM5 41h2v3h-2zM8 41h2v3h-2zM11 42h1v2h-1zM13 42h1v2h-1zM55 42h1v4h-1zM55 47h1v3h-1zM56 51h1v1h-1zM56 42h1v2h-1zM57 41h1v3h-1zM58 41h1v2h-1zM59 41h1v1h-1zM60 41h1v2h-1zM61 41h1v1h-1zM62 41h1v2h-1zM57 52h8v1h-8zM63 41h3v1h-3zM66 52h2v1h-2zM66 41h2v2h-2zM68 41h1v1h-1zM69 41h1v2h-1zM70 41h3v1h-3zM69 52h6v1h-6zM73 41h2v2h-2zM76 52h1v1h-1zM75 41h3v1h-3zM78 41h1v2h-1zM78 52h2v1h-2zM79 41h1v1h-1z"/><path fill="#4a5aae" d="M0 39h1v2h-1zM1 39h2v3h-2zM0 44h4v1h-4zM3 40h1v3h-1zM4 40h1v5h-1zM5 44h2v1h-2zM5 39h2v2h-2zM7 40h1v5h-1zM8 44h2v1h-2zM8 39h2v2h-2zM10 40h1v5h-1zM11 39h1v3h-1zM11 44h1v1h-1zM12 40h1v5h-1zM13 39h1v3h-1zM13 44h1v1h-1zM14 40h2v5h-2zM25 44h1v1h-1zM37 44h2v1h-2zM54 44h1v4h-1zM55 50h1v2h-1zM55 41h2v1h-2zM56 52h1v1h-1zM61 40h1v1h-1zM64 40h2v1h-2zM65 53h1v1h-1zM68 40h1v1h-1zM68 53h1v1h-1zM70 40h3v1h-3zM75 40h1v1h-1zM75 53h1v1h-1zM77 40h1v1h-1zM77 53h1v1h-1zM79 40h1v1h-1z"/><path fill="#6a6fba" d="M0 37h2v1h-2zM16 38h1v1h-1zM17 41h1v2h-1zM21 40h1v5h-1zM22 40h1v1h-1zM23 46h2v1h-2zM23 39h3v1h-3zM26 40h1v1h-1zM27 39h2v1h-2zM29 40h1v1h-1zM30 39h1v1h-1zM31 40h1v1h-1zM32 39h1v1h-1zM33 39h1v2h-1zM34 39h1v1h-1zM26 46h11v1h-11zM35 40h2v1h-2zM37 39h3v1h-3zM40 40h1v1h-1zM39 46h3v1h-3zM41 39h1v1h-1zM42 40h7v1h-7zM44 48h5v1h-5zM49 40h1v2h-1zM50 40h1v1h-1zM50 48h1v1h-1zM51 40h1v2h-1zM52 40h2v1h-2zM52 48h2v1h-2zM54 49h1v1h-1zM55 53h1v1h-1zM55 39h1v1h-1zM58 54h9v1h-9zM58 39h9v1h-9zM68 54h12v1h-12zM68 39h12v1h-12z"/><path fill="#777abf" d="M0 46h3v1h-3zM2 37h5v1h-5zM5 46h2v1h-2zM8 46h2v1h-2zM8 37h2v1h-2zM11 46h1v1h-1zM11 37h1v1h-1zM13 46h1v1h-1zM13 37h3v1h-3zM16 45h1v1h-1zM17 39h1v2h-1zM17 43h1v2h-1zM18 40h1v3h-1zM20 40h1v4h-1zM21 45h1v1h-1zM21 39h2v1h-2zM22 46h1v1h-1zM25 47h1v1h-1zM26 39h1v1h-1zM29 39h1v1h-1zM31 39h1v1h-1zM35 39h2v1h-2zM37 47h3v1h-3zM40 39h1v1h-1zM41 47h2v1h-2zM43 48h1v1h-1zM42 39h5v1h-5zM49 48h1v1h-1zM51 48h1v1h-1zM54 39h1v1h-1zM54 50h1v2h-1zM56 54h2v1h-2zM56 39h2v1h-2zM67 54h1v1h-1zM67 39h1v1h-1z"/><path fill="#535eb2" d="M0 38h3v1h-3zM3 39h2v1h-2zM5 38h2v1h-2zM7 39h1v1h-1zM9 38h1v1h-1zM10 39h1v1h-1zM12 39h1v1h-1zM14 39h2v1h-2zM16 41h1v3h-1zM23 43h1v3h-1zM24 42h1v4h-1zM25 41h1v3h-1zM25 45h1v1h-1zM26 43h1v3h-1zM27 42h1v4h-1zM28 43h3v3h-3zM31 43h1v2h-1zM32 42h1v4h-1zM33 43h1v3h-1zM34 42h1v4h-1zM35 43h1v2h-1zM36 43h1v3h-1zM37 41h1v3h-1zM37 45h2v1h-2zM38 42h1v2h-1zM39 42h1v4h-1zM40 43h1v2h-1zM41 42h1v4h-1zM42 43h1v3h-1zM43 43h1v4h-1zM44 45h1v2h-1zM45 44h1v3h-1zM46 44h1v4h-1zM47 45h2v2h-2zM49 46h1v1h-1zM50 45h1v2h-1zM51 46h2v1h-2zM53 45h1v2h-1zM54 41h1v3h-1zM55 52h1v1h-1zM55 40h6v1h-6zM62 40h2v1h-2zM57 53h8v1h-8zM66 53h2v1h-2zM66 40h2v1h-2zM69 40h1v1h-1zM69 53h6v1h-6zM73 40h2v1h-2zM76 53h1v1h-1zM76 40h1v1h-1zM78 40h1v1h-1zM78 53h2v1h-2z"/><path fill="#b3b3db" d="M0 52h4v1h-4zM4 51h1v2h-1zM5 52h2v1h-2zM7 51h1v1h-1zM3 36h7v1h-7zM8 52h2v1h-2zM10 51h1v1h-1zM11 52h1v1h-1zM12 51h1v1h-1zM13 52h1v1h-1zM14 51h1v1h-1zM11 36h5v1h-5zM15 51h1v2h-1zM16 47h1v2h-1zM17 46h1v1h-1zM20 46h1v1h-1zM21 47h1v1h-1zM22 53h1v1h-1zM23 54h1v1h-1zM19 37h7v1h-7zM25 55h1v1h-1zM26 54h1v1h-1zM27 37h1v1h-1zM28 54h4v1h-4zM32 37h1v1h-1zM33 54h1v1h-1zM34 37h1v1h-1zM35 54h2v1h-2zM37 55h3v1h-3zM37 37h3v1h-3zM40 54h3v1h-3zM43 53h1v1h-1zM44 52h3v2h-3zM47 52h2v1h-2zM49 51h1v2h-1zM50 52h1v1h-1zM51 51h1v2h-1zM52 52h1v1h-1zM47 38h7v1h-7zM53 53h1v1h-1zM54 54h1v1h-1zM55 57h1v1h-1zM58 0h1v6h-1zM56 58h5v1h-5zM59 0h2v7h-2zM61 59h1v1h-1zM61 5h1v3h-1zM62 0h1v7h-1zM62 58h2v1h-2zM63 4h1v3h-1zM63 0h1v2h-1zM64 5h1v2h-1zM64 59h2v1h-2zM65 6h1v2h-1zM66 0h1v6h-1zM66 58h2v1h-2zM68 59h1v1h-1zM68 2h1v2h-1zM69 58h1v1h-1zM71 59h2v1h-2zM73 58h2v1h-2zM75 59h1v1h-1zM76 58h1v1h-1zM77 59h1v1h-1zM78 58h1v1h-1zM79 59h1v1h-1z"/><path fill="#f6b4b6" d="M3 6h1v6h-1zM4 12h1v3h-1zM4 4h3v2h-3zM5 12h2v2h-2zM7 3h1v2h-1zM7 22h1v1h-1zM7 13h1v3h-1zM8 12h2v3h-2zM8 4h2v1h-2zM10 3h1v2h-1zM10 14h1v2h-1zM10 21h1v3h-1zM11 13h1v2h-1zM11 4h1v1h-1zM12 3h1v2h-1zM12 22h1v1h-1zM12 13h1v3h-1zM13 13h2v2h-2zM13 4h2v1h-2zM15 12h1v2h-1zM15 4h1v2h-1zM16 10h1v4h-1zM16 5h1v3h-1zM17 5h1v9h-1zM17 22h1v1h-1zM19 7h1v4h-1zM20 8h1v2h-1zM22 7h1v4h-1zM23 8h1v2h-1zM24 7h1v3h-1zM25 6h1v7h-1zM26 13h1v3h-1zM26 4h3v1h-3zM27 13h2v2h-2zM29 3h1v2h-1zM29 14h1v2h-1zM30 13h1v2h-1zM30 4h1v1h-1zM31 3h1v2h-1zM31 22h1v1h-1zM31 14h1v2h-1zM32 13h1v2h-1zM32 4h1v1h-1zM33 3h1v2h-1zM33 13h1v3h-1zM34 13h1v2h-1zM34 4h1v1h-1zM35 22h1v1h-1zM35 3h2v2h-2zM35 14h2v2h-2zM37 4h2v2h-2zM37 12h3v2h-3zM39 4h1v1h-1zM40 3h1v2h-1zM40 22h1v1h-1zM40 14h1v2h-1zM41 12h1v2h-1zM41 4h1v2h-1zM42 22h1v4h-1zM42 5h1v8h-1zM42 66h1v6h-1zM43 65h1v8h-1zM43 22h1v1h-1zM43 34h1v1h-1zM44 64h1v9h-1zM45 65h1v8h-1zM44 21h3v2h-3zM45 35h10v1h-10zM47 21h8v1h-8zM55 22h1v1h-1zM56 35h3v1h-3zM56 21h5v1h-5zM60 35h1v1h-1zM61 22h1v1h-1zM62 35h1v1h-1zM62 21h2v1h-2zM64 22h2v1h-2zM66 35h2v1h-2zM66 21h2v1h-2zM68 22h1v1h-1zM69 35h1v1h-1zM69 21h1v1h-1zM70 20h1v2h-1zM71 18h1v3h-1zM72 14h1v3h-1zM73 13h1v2h-1zM73 35h2v1h-2zM74 13h1v1h-1zM75 14h1v2h-1zM76 13h1v2h-1zM76 35h1v1h-1zM77 14h1v2h-1zM78 13h1v2h-1zM78 35h1v1h-1zM79 14h1v1h-1z"/><path fill="#8485c4" d="M3 46h2v1h-2zM7 46h1v1h-1zM7 37h1v1h-1zM10 46h1v1h-1zM10 37h1v1h-1zM12 46h1v1h-1zM12 37h1v1h-1zM14 46h2v1h-2zM16 37h1v1h-1zM17 38h1v1h-1zM18 43h1v2h-1zM18 39h1v1h-1zM19 39h1v5h-1zM20 44h1v1h-1zM20 39h1v1h-1zM21 38h1v1h-1zM23 47h2v1h-2zM23 38h3v1h-3zM25 48h1v1h-1zM27 38h2v1h-2zM30 38h1v1h-1zM32 38h1v1h-1zM34 38h1v1h-1zM26 47h11v1h-11zM37 48h2v1h-2zM37 38h3v1h-3zM40 47h1v1h-1zM41 38h1v1h-1zM42 48h1v1h-1zM43 49h6v1h-6zM50 49h1v1h-1zM47 39h7v1h-7zM52 49h2v1h-2zM54 52h1v1h-1zM55 54h1v1h-1zM57 55h23v1h-23z"/><path fill="#5d65b5" d="M3 38h2v1h-2zM7 38h2v1h-2zM0 45h16v1h-16zM10 38h6v1h-6zM16 39h1v2h-1zM16 44h1v1h-1zM22 41h1v5h-1zM23 40h1v3h-1zM24 40h1v2h-1zM25 40h1v1h-1zM25 46h1v1h-1zM26 41h1v2h-1zM27 40h1v2h-1zM28 40h1v3h-1zM29 41h1v2h-1zM30 40h1v3h-1zM31 45h1v1h-1zM31 41h1v2h-1zM32 40h1v2h-1zM33 41h1v2h-1zM34 40h1v2h-1zM35 45h1v1h-1zM35 41h2v2h-2zM37 40h1v1h-1zM37 46h2v1h-2zM38 40h2v2h-2zM40 45h1v1h-1zM40 41h1v2h-1zM41 40h1v2h-1zM42 46h1v1h-1zM42 41h2v2h-2zM44 41h1v4h-1zM43 47h3v1h-3zM45 41h2v3h-2zM47 41h2v4h-2zM49 42h1v4h-1zM50 41h1v4h-1zM51 42h1v4h-1zM52 41h1v5h-1zM47 47h7v1h-7zM53 41h1v4h-1zM54 40h1v1h-1zM54 48h1v1h-1zM56 53h1v1h-1z"/><path fill="#f5a4a7" d="M4 6h3v6h-3zM7 5h1v2h-1zM7 11h1v2h-1zM8 5h2v7h-2zM10 11h1v3h-1zM10 5h1v1h-1zM11 5h1v8h-1zM12 5h1v2h-1zM12 11h1v2h-1zM13 5h1v8h-1zM14 5h1v3h-1zM14 10h1v3h-1zM15 6h1v6h-1zM16 8h1v2h-1zM26 5h2v8h-2zM28 11h1v2h-1zM29 11h1v3h-1zM28 5h3v2h-3zM30 11h1v2h-1zM31 11h1v3h-1zM31 5h1v1h-1zM32 5h1v8h-1zM33 5h1v2h-1zM33 11h1v2h-1zM34 5h1v8h-1zM35 5h1v1h-1zM35 11h2v3h-2zM36 5h1v2h-1zM37 6h2v6h-2zM39 5h1v7h-1zM40 11h1v3h-1zM40 5h1v1h-1zM41 6h1v6h-1zM43 32h1v2h-1zM43 23h1v1h-1zM47 22h8v1h-8zM56 22h5v1h-5zM62 22h2v1h-2zM66 22h2v1h-2zM69 22h2v1h-2zM71 21h1v2h-1zM72 17h1v5h-1zM73 15h1v7h-1zM74 14h1v8h-1zM75 16h1v7h-1zM76 15h1v7h-1zM77 16h1v7h-1zM78 15h1v7h-1zM79 15h1v8h-1z"/><path fill="#f39497" d="M7 7h1v4h-1zM10 6h1v5h-1zM12 7h1v4h-1zM14 8h1v2h-1zM28 7h3v4h-3zM31 6h1v5h-1zM33 7h1v4h-1zM35 6h1v5h-1zM36 7h1v4h-1zM40 6h1v5h-1zM43 24h1v8h-1zM44 34h5v1h-5zM50 34h1v1h-1zM52 34h1v1h-1zM54 34h13v1h-13zM44 23h27v1h-27zM72 22h3v1h-3zM75 23h1v1h-1zM76 22h1v1h-1zM77 23h1v1h-1zM78 22h1v1h-1zM68 34h12v1h-12z"/><path fill="#f18387" d="M44 33h1v1h-1zM44 24h3v1h-3zM49 34h1v1h-1zM51 34h1v1h-1zM53 34h1v1h-1zM55 24h1v1h-1zM55 33h1v1h-1zM61 24h1v1h-1zM64 24h2v1h-2zM65 33h1v1h-1zM67 34h1v1h-1zM68 24h1v1h-1zM71 23h4v1h-4zM76 23h1v1h-1zM78 23h2v1h-2z"/><path fill="#f07378" d="M44 25h1v8h-1zM45 25h1v1h-1zM45 32h2v2h-2zM47 24h8v1h-8zM47 33h8v1h-8zM55 31h1v2h-1zM55 25h1v1h-1zM56 24h5v1h-5zM62 24h2v1h-2zM56 33h9v1h-9zM65 32h1v1h-1zM66 24h2v1h-2zM66 33h2v1h-2zM68 32h1v2h-1zM69 24h4v1h-4zM69 33h6v1h-6zM75 24h1v1h-1zM75 32h1v2h-1zM76 33h1v1h-1zM77 24h1v1h-1zM77 32h1v2h-1zM78 33h2v1h-2zM79 24h1v1h-1z"/><path fill="#ef656a" d="M45 26h1v6h-1zM46 25h1v7h-1zM47 25h6v8h-6zM53 25h1v2h-1zM53 28h1v5h-1zM54 25h1v8h-1zM55 26h1v5h-1zM56 25h1v8h-1zM57 29h1v4h-1zM57 25h2v1h-2zM58 30h2v3h-2zM59 25h1v2h-1zM60 31h1v2h-1zM60 25h1v1h-1zM61 25h1v2h-1zM61 30h1v3h-1zM62 32h1v1h-1zM62 25h2v1h-2zM63 31h1v2h-1zM64 25h1v2h-1zM64 30h1v3h-1zM65 29h1v3h-1zM65 25h1v3h-1zM66 25h2v1h-2zM66 32h2v1h-2zM68 25h1v2h-1zM68 29h1v3h-1zM69 32h1v1h-1zM70 31h1v2h-1zM69 25h3v1h-3zM71 30h1v3h-1zM72 31h1v2h-1zM73 24h2v1h-2zM73 32h2v1h-2zM75 25h1v1h-1zM75 30h1v2h-1zM76 24h1v1h-1zM76 32h1v1h-1zM77 25h1v1h-1zM77 30h1v2h-1zM78 24h1v1h-1zM78 32h1v1h-1zM79 31h1v2h-1z"/><path fill="#ee565b" d="M53 27h1v1h-1zM57 26h1v3h-1zM58 26h1v4h-1zM59 27h1v3h-1zM60 26h1v5h-1zM61 27h1v3h-1zM62 26h1v6h-1zM63 26h1v5h-1zM64 27h1v3h-1zM65 28h1v1h-1zM66 26h2v6h-2zM68 27h1v2h-1zM69 26h1v6h-1zM70 26h1v5h-1zM71 26h1v4h-1zM72 25h1v6h-1zM73 29h2v3h-2zM73 25h2v1h-2zM75 26h1v4h-1zM76 25h1v7h-1zM77 26h1v4h-1zM78 25h1v2h-1zM78 28h1v4h-1zM79 25h1v6h-1z"/><path fill="#3850a8" d="M55 46h1v1h-1zM56 44h1v7h-1zM57 44h1v8h-1zM58 43h1v9h-1zM59 42h1v10h-1zM60 43h1v9h-1zM61 42h1v10h-1zM62 43h1v9h-1zM63 42h2v10h-2zM65 42h1v11h-1zM66 43h2v9h-2zM68 42h1v11h-1zM69 43h1v9h-1zM70 42h3v10h-3zM73 43h2v9h-2zM75 42h1v11h-1zM76 42h1v10h-1zM77 42h1v11h-1zM78 43h1v9h-1zM79 42h1v10h-1z"/><path fill="#ed484d" d="M73 26h2v3h-2zM78 27h1v1h-1z"/></g>
<rect x="100.4" y="866.4" width="499.3" height="407.9" fill="none" stroke="#707070" stroke-width="1.4"/>
<text transform="translate(103.14,1304.65) scale(1.0783,1)" font-family="Liberation Sans" font-size="25.49" fill="#262626">1920</text>
<text transform="translate(228.18,1304.65) scale(1.0783,1)" font-family="Liberation Sans" font-size="25.49" fill="#262626">1940</text>
<text transform="translate(353.22,1304.65) scale(1.0783,1)" font-family="Liberation Sans" font-size="25.49" fill="#262626">1960</text>
<text transform="translate(478.26,1304.65) scale(1.0783,1)" font-family="Liberation Sans" font-size="25.49" fill="#262626">1980</text>
<text transform="translate(61.83,911.07) scale(1.0688,1)" font-family="Liberation Sans" font-size="25.07" fill="#262626">30</text>
<text transform="translate(61.55,966.95) scale(1.0793,1)" font-family="Liberation Sans" font-size="25.07" fill="#262626">20</text>
<text transform="translate(60.82,1022.82) scale(1.1064,1)" font-family="Liberation Sans" font-size="25.07" fill="#262626">10</text>
<text transform="translate(76.41,1078.70) scale(1.0917,1)" font-family="Liberation Sans" font-size="25.07" fill="#262626">0</text>
<text transform="translate(51.24,1134.58) scale(1.1145,1)" font-family="Liberation Sans" font-size="25.07" fill="#262626">-10</text>
<text transform="translate(51.24,1190.45) scale(1.1145,1)" font-family="Liberation Sans" font-size="25.07" fill="#262626">-20</text>
<text transform="translate(51.24,1246.33) scale(1.1145,1)" font-family="Liberation Sans" font-size="25.07" fill="#262626">-30</text>
<path d="M134.2 1274.3v-5M134.2 866.4v5M259.2 1274.3v-5M259.2 866.4v5M384.3 1274.3v-5M384.3 866.4v5M509.3 1274.3v-5M509.3 866.4v5M100.4 902.7h5M599.7 902.7h-5M100.4 958.6h5M599.7 958.6h-5M100.4 1014.5h5M599.7 1014.5h-5M100.4 1070.3h5M599.7 1070.3h-5M100.4 1126.2h5M599.7 1126.2h-5M100.4 1182.1h5M599.7 1182.1h-5M100.4 1238.0h5M599.7 1238.0h-5" stroke="#444" stroke-width="1" fill="none"/>
<text transform="translate(319.51,1335.34) scale(1.1275,1)" font-family="Liberation Sans" font-size="26.43" fill="#262626">Year</text>
<g transform="translate(0.0,0.0) rotate(-90)"><text transform="translate(-1142.93,41.00) scale(1.0855,1)" font-family="Liberation Sans" font-size="27.40" fill="#262626">lag[months]</text></g>
<g transform="translate(761.8,866.4) scale(6.24125,5.58767)" shape-rendering="crispEdges"><path fill="#e2e2f2" d="M0 60h1v1h-1zM0 34h4v1h-4zM2 60h3v1h-3zM6 60h1v1h-1zM6 34h1v1h-1zM8 34h1v1h-1zM8 60h5v1h-5zM13 59h1v2h-1zM10 35h5v1h-5zM14 60h1v1h-1zM15 59h1v2h-1zM16 60h1v1h-1zM17 36h1v1h-1zM17 63h1v5h-1zM18 69h1v1h-1zM19 70h1v1h-1zM20 71h1v1h-1zM21 70h1v1h-1zM22 69h1v1h-1zM23 67h1v2h-1zM19 37h7v1h-7zM24 67h4v1h-4zM27 37h1v1h-1zM28 67h2v2h-2zM30 66h1v2h-1zM30 37h3v1h-3zM31 67h2v1h-2zM33 68h1v1h-1zM34 67h2v1h-2zM34 37h2v1h-2zM36 68h1v1h-1zM37 67h1v1h-1zM38 66h1v2h-1zM37 37h3v1h-3zM39 64h1v2h-1zM40 60h1v1h-1zM42 59h1v1h-1zM44 59h2v1h-2zM48 59h2v1h-2zM51 59h2v1h-2zM54 2h1v8h-1zM54 60h3v1h-3zM58 60h2v1h-2zM61 60h1v1h-1zM61 37h1v1h-1zM64 60h2v1h-2zM55 10h15v1h-15zM67 60h3v1h-3zM70 9h2v1h-2zM71 60h3v1h-3zM72 8h2v1h-2zM74 7h1v2h-1zM75 60h1v1h-1zM75 8h1v1h-1zM76 7h1v2h-1zM77 60h2v1h-2zM77 8h3v1h-3z"/><path fill="#fceced" d="M0 0h1v9h-1zM1 0h1v2h-1zM1 7h1v3h-1zM0 63h3v1h-3zM2 0h1v1h-1zM2 8h1v3h-1zM3 63h1v2h-1zM3 10h1v2h-1zM4 69h1v4h-1zM4 10h2v1h-2zM5 70h1v3h-1zM6 69h1v4h-1zM6 10h1v2h-1zM7 10h1v1h-1zM7 71h1v2h-1zM8 10h1v2h-1zM8 70h2v3h-2zM9 13h1v19h-1zM10 33h3v1h-3zM14 33h1v1h-1zM16 34h1v1h-1zM18 35h1v1h-1zM20 19h1v1h-1zM21 18h2v3h-2zM9 0h21v1h-21zM27 35h3v1h-3zM40 66h1v3h-1zM41 63h1v1h-1zM31 0h12v1h-12zM41 36h2v1h-2zM43 11h1v9h-1zM43 1h1v3h-1zM42 62h4v1h-4zM44 1h2v19h-2zM46 5h1v16h-1zM46 63h2v1h-2zM47 4h1v17h-1zM48 1h1v19h-1zM49 0h1v19h-1zM50 3h1v18h-1zM51 2h1v19h-1zM52 8h1v13h-1zM53 19h1v3h-1zM48 62h7v1h-7zM54 21h2v1h-2zM55 36h1v1h-1zM56 19h1v2h-1zM57 17h1v1h-1zM58 36h1v1h-1zM58 16h2v1h-2zM60 15h1v2h-1zM61 36h1v1h-1zM61 16h2v1h-2zM63 15h1v2h-1zM64 36h2v1h-2zM64 16h2v1h-2zM56 62h11v1h-11zM66 15h1v2h-1zM67 36h2v1h-2zM67 16h2v1h-2zM68 63h1v1h-1zM69 15h1v2h-1zM69 62h2v1h-2zM70 13h1v2h-1zM71 36h1v1h-1zM71 63h1v1h-1zM71 12h1v1h-1zM72 11h1v1h-1zM74 62h3v1h-3zM77 63h1v1h-1zM79 62h1v1h-1z"/><path fill="#d3d3eb" d="M0 59h2v1h-2zM3 59h1v1h-1zM4 34h2v1h-2zM5 60h1v1h-1zM7 34h1v1h-1zM7 60h1v1h-1zM9 35h1v1h-1zM9 59h4v1h-4zM13 58h1v1h-1zM14 58h1v2h-1zM15 58h1v1h-1zM16 58h1v2h-1zM17 61h1v2h-1zM18 66h1v3h-1zM18 37h1v1h-1zM19 69h1v1h-1zM20 69h1v2h-1zM21 69h1v1h-1zM22 67h1v2h-1zM23 66h1v1h-1zM24 64h1v3h-1zM25 65h1v2h-1zM26 66h1v1h-1zM26 37h1v1h-1zM27 65h1v2h-1zM28 66h2v1h-2zM28 37h2v1h-2zM30 64h1v2h-1zM31 65h2v2h-2zM33 37h1v1h-1zM33 66h1v2h-1zM34 66h1v1h-1zM35 65h1v2h-1zM36 37h1v1h-1zM36 66h1v2h-1zM37 65h1v2h-1zM38 63h1v3h-1zM39 61h1v3h-1zM40 59h2v1h-2zM43 59h1v1h-1zM46 59h2v1h-2zM49 58h1v1h-1zM50 59h1v1h-1zM54 0h1v2h-1zM55 7h1v3h-1zM56 8h2v2h-2zM58 9h2v1h-2zM53 59h8v1h-8zM60 8h1v2h-1zM61 9h2v1h-2zM63 8h1v2h-1zM64 9h2v1h-2zM66 8h1v2h-1zM67 9h2v1h-2zM69 8h1v2h-1zM62 59h9v1h-9zM70 6h1v3h-1zM71 7h1v2h-1zM72 6h2v2h-2zM74 0h1v7h-1zM75 6h1v2h-1zM76 0h1v7h-1zM77 6h2v2h-2zM72 59h8v1h-8zM79 5h1v3h-1z"/><path fill="#4a5aae" d="M0 40h2v1h-2zM0 49h2v1h-2zM2 39h1v1h-1zM3 40h1v1h-1zM3 49h1v1h-1zM4 39h2v1h-2zM6 40h1v1h-1zM8 49h1v1h-1zM9 48h1v1h-1zM7 39h6v1h-6zM13 40h1v1h-1zM13 47h1v1h-1zM14 39h1v1h-1zM15 40h1v1h-1zM16 40h1v2h-1zM17 41h1v1h-1zM18 41h1v3h-1zM15 47h5v1h-5zM19 42h1v3h-1zM20 42h4v6h-4zM24 42h1v5h-1zM25 42h1v3h-1zM25 47h2v1h-2zM26 41h1v4h-1zM27 42h1v6h-1zM28 41h2v3h-2zM28 47h2v1h-2zM30 42h1v5h-1zM31 42h1v3h-1zM31 46h1v2h-1zM32 42h1v6h-1zM33 41h1v2h-1zM33 47h2v1h-2zM34 41h1v4h-1zM35 42h1v6h-1zM36 47h1v1h-1zM36 41h1v2h-1zM37 42h2v6h-2zM39 47h1v1h-1zM39 41h1v2h-1zM40 41h1v3h-1zM40 47h1v2h-1zM41 48h2v1h-2zM41 41h2v2h-2zM43 41h1v1h-1zM44 41h1v2h-1zM44 48h2v1h-2zM45 42h1v1h-1zM46 41h2v1h-2zM48 41h1v2h-1zM48 48h2v1h-2zM49 42h1v2h-1zM50 41h1v1h-1zM51 41h2v2h-2zM53 41h1v1h-1zM53 49h1v1h-1zM54 52h1v1h-1zM56 40h1v1h-1zM58 40h2v1h-2zM61 40h1v1h-1zM61 53h1v1h-1zM64 40h2v1h-2zM65 53h1v1h-1zM67 40h2v1h-2zM67 53h2v1h-2zM71 53h1v1h-1zM71 40h3v1h-3zM77 53h1v1h-1zM77 40h2v1h-2z"/><path fill="#777abf" d="M0 51h2v1h-2zM3 51h1v1h-1zM4 37h2v1h-2zM4 52h2v1h-2zM7 52h1v1h-1zM7 37h2v1h-2zM9 51h1v1h-1zM12 37h1v1h-1zM19 39h9v1h-9zM30 39h3v1h-3zM34 39h2v1h-2zM12 49h27v1h-27zM37 39h3v1h-3zM39 50h2v1h-2zM46 51h2v1h-2zM52 51h1v1h-1zM53 53h1v1h-1zM54 54h1v1h-1zM53 39h5v1h-5zM59 39h2v1h-2zM60 54h1v1h-1zM62 39h2v1h-2zM63 54h1v1h-1zM66 54h1v1h-1zM66 39h1v1h-1zM69 39h2v1h-2zM74 54h1v1h-1zM74 39h3v1h-3zM76 54h1v1h-1zM78 39h2v1h-2z"/><path fill="#6a6fba" d="M0 38h2v1h-2zM2 51h1v1h-1zM3 38h1v1h-1zM4 51h5v1h-5zM9 50h1v1h-1zM10 49h2v1h-2zM15 38h2v1h-2zM18 39h1v1h-1zM28 39h2v1h-2zM33 39h1v1h-1zM36 39h1v1h-1zM39 49h1v1h-1zM41 50h12v1h-12zM53 52h1v1h-1zM58 39h1v1h-1zM55 54h5v1h-5zM61 39h1v1h-1zM61 54h2v1h-2zM64 54h2v1h-2zM64 39h2v1h-2zM67 39h2v1h-2zM67 54h7v1h-7zM71 39h3v1h-3zM75 54h1v1h-1zM77 39h1v1h-1zM77 54h3v1h-3z"/><path fill="#535eb2" d="M0 39h2v1h-2zM2 50h1v1h-1zM3 39h1v1h-1zM6 39h1v1h-1zM4 50h4v1h-4zM9 49h1v1h-1zM10 48h3v1h-3zM13 39h1v1h-1zM14 48h1v1h-1zM15 39h2v1h-2zM17 40h2v1h-2zM24 47h1v1h-1zM19 41h7v1h-7zM26 40h1v1h-1zM27 41h1v1h-1zM28 40h2v1h-2zM30 47h1v1h-1zM30 41h3v1h-3zM33 40h2v1h-2zM35 41h1v1h-1zM36 40h1v1h-1zM37 41h2v1h-2zM39 48h1v1h-1zM39 40h1v1h-1zM45 41h1v1h-1zM49 41h1v1h-1zM41 49h12v1h-12zM53 50h1v1h-1zM53 40h3v1h-3zM57 40h1v1h-1zM55 53h6v1h-6zM60 40h1v1h-1zM62 40h2v1h-2zM62 53h3v1h-3zM66 53h1v1h-1zM66 40h1v1h-1zM69 53h2v1h-2zM69 40h2v1h-2zM72 53h5v1h-5zM74 40h3v1h-3zM78 53h2v1h-2zM79 40h1v1h-1z"/><path fill="#9292ca" d="M0 54h2v3h-2zM2 57h1v1h-1zM3 54h1v3h-1zM4 57h2v1h-2zM6 56h1v2h-1zM7 57h2v1h-2zM9 53h1v4h-1zM10 51h3v4h-3zM13 50h1v2h-1zM14 51h1v3h-1zM15 50h2v2h-2zM16 37h1v1h-1zM17 51h1v5h-1zM18 38h1v1h-1zM18 51h6v6h-6zM24 50h1v6h-1zM25 51h2v6h-2zM27 50h1v7h-1zM28 51h2v7h-2zM30 50h1v6h-1zM31 51h2v6h-2zM33 51h1v7h-1zM34 51h2v6h-2zM36 51h1v7h-1zM37 51h2v6h-2zM39 52h1v5h-1zM40 52h2v3h-2zM42 52h1v2h-1zM43 52h1v3h-1zM44 52h2v2h-2zM46 53h2v3h-2zM48 52h1v2h-1zM49 52h1v1h-1zM50 52h1v4h-1zM51 52h1v3h-1zM52 53h1v2h-1zM53 55h1v1h-1zM54 56h6v1h-6zM61 56h2v1h-2zM64 56h2v1h-2zM67 56h7v1h-7zM75 56h1v1h-1zM77 56h3v1h-3z"/><path fill="#8485c4" d="M0 52h2v2h-2zM2 52h1v5h-1zM0 37h4v1h-4zM3 52h1v2h-1zM4 53h2v4h-2zM6 52h1v4h-1zM6 37h1v1h-1zM7 53h1v4h-1zM8 52h1v5h-1zM9 52h1v1h-1zM9 37h3v1h-3zM10 50h3v1h-3zM14 50h1v1h-1zM13 37h3v1h-3zM17 38h1v1h-1zM17 50h7v1h-7zM25 50h2v1h-2zM28 50h2v1h-2zM31 50h8v1h-8zM39 51h7v1h-7zM46 52h2v1h-2zM48 51h4v1h-4zM40 39h13v1h-13zM52 52h1v1h-1zM53 54h1v1h-1zM54 55h26v1h-26z"/><path fill="#a3a3d3" d="M0 57h2v1h-2zM3 57h1v1h-1zM4 58h2v1h-2zM7 58h1v1h-1zM0 36h10v1h-10zM9 57h1v1h-1zM10 55h3v1h-3zM13 52h1v4h-1zM14 54h1v2h-1zM15 52h2v4h-2zM17 56h1v2h-1zM18 57h1v1h-1zM19 57h5v2h-5zM24 56h1v2h-1zM25 57h2v2h-2zM27 57h1v1h-1zM28 58h2v1h-2zM30 56h1v2h-1zM31 57h2v2h-2zM33 58h1v1h-1zM34 57h2v2h-2zM36 58h1v1h-1zM37 57h1v2h-1zM38 57h1v1h-1zM19 38h21v1h-21zM39 57h1v2h-1zM40 55h2v2h-2zM42 54h1v3h-1zM43 55h1v2h-1zM44 54h2v3h-2zM46 56h2v1h-2zM48 54h1v3h-1zM49 53h1v3h-1zM50 56h1v1h-1zM51 55h2v2h-2zM53 56h1v1h-1zM54 57h6v1h-6zM60 56h1v2h-1zM61 38h1v1h-1zM61 57h2v1h-2zM63 56h1v2h-1zM64 57h2v1h-2zM66 56h1v2h-1zM71 38h1v1h-1zM67 57h7v1h-7zM74 56h1v2h-1zM75 57h1v1h-1zM76 56h1v1h-1zM77 57h3v1h-3z"/><path fill="#5d65b5" d="M0 50h2v1h-2zM2 38h1v1h-1zM3 50h1v1h-1zM8 50h1v1h-1zM13 48h1v1h-1zM4 38h11v1h-11zM17 39h1v1h-1zM19 40h7v1h-7zM27 40h1v1h-1zM30 40h3v1h-3zM35 40h1v1h-1zM15 48h24v1h-24zM37 40h2v1h-2zM40 49h1v1h-1zM40 40h13v1h-13zM53 51h1v1h-1zM54 53h1v1h-1z"/><path fill="#f8c7c8" d="M0 65h2v2h-2zM2 66h1v7h-1zM3 1h1v8h-1zM3 70h1v3h-1zM4 2h1v6h-1zM5 3h1v4h-1zM6 1h1v8h-1zM7 3h1v5h-1zM8 2h1v7h-1zM9 2h1v2h-1zM9 9h1v2h-1zM10 12h1v20h-1zM10 2h3v1h-3zM11 14h2v18h-2zM13 32h1v1h-1zM14 2h1v1h-1zM14 15h1v18h-1zM15 32h1v1h-1zM17 33h1v1h-1zM17 15h1v10h-1zM18 22h1v3h-1zM18 34h1v1h-1zM18 14h1v3h-1zM19 23h2v2h-2zM21 24h2v1h-2zM17 2h7v1h-7zM19 14h5v2h-5zM23 23h1v2h-1zM24 15h2v9h-2zM25 2h2v1h-2zM26 34h1v1h-1zM26 16h1v9h-1zM27 1h1v1h-1zM27 33h1v2h-1zM28 15h1v19h-1zM29 16h1v18h-1zM30 34h2v1h-2zM29 1h4v1h-4zM33 14h1v11h-1zM33 34h1v1h-1zM34 17h1v6h-1zM34 1h2v1h-2zM36 14h1v11h-1zM36 34h1v1h-1zM37 1h2v1h-2zM39 14h1v11h-1zM40 1h1v1h-1zM40 35h2v1h-2zM41 14h1v9h-1zM41 68h1v5h-1zM42 20h1v3h-1zM42 2h1v2h-1zM42 10h1v5h-1zM42 65h2v8h-2zM44 64h2v9h-2zM46 66h2v7h-2zM48 64h2v9h-2zM43 22h10v1h-10zM55 23h1v1h-1zM50 65h7v8h-7zM56 22h1v1h-1zM57 20h1v1h-1zM57 64h1v2h-1zM58 18h2v1h-2zM58 64h3v1h-3zM61 64h1v2h-1zM61 18h2v1h-2zM62 64h3v1h-3zM64 18h2v1h-2zM65 64h2v2h-2zM67 18h3v1h-3zM67 65h3v8h-3zM70 64h1v9h-1zM70 16h1v2h-1zM71 14h1v1h-1zM71 66h1v7h-1zM72 12h2v1h-2zM72 65h2v8h-2zM74 64h1v9h-1zM75 12h1v1h-1zM75 65h1v8h-1zM76 64h1v9h-1zM77 66h1v7h-1zM77 12h2v1h-2zM78 65h1v8h-1zM79 64h1v9h-1z"/><path fill="#f6b4b6" d="M0 67h2v6h-2zM9 4h1v5h-1zM10 9h1v3h-1zM10 3h2v1h-2zM11 10h2v4h-2zM12 3h1v2h-1zM13 2h1v1h-1zM13 13h1v19h-1zM14 11h1v4h-1zM14 3h1v1h-1zM15 13h1v19h-1zM15 2h2v1h-2zM16 13h1v20h-1zM17 11h1v4h-1zM17 25h1v8h-1zM18 33h1v1h-1zM18 25h1v3h-1zM18 11h2v3h-2zM20 12h2v2h-2zM22 11h1v3h-1zM17 3h7v1h-7zM19 25h5v2h-5zM23 12h1v2h-1zM24 2h1v1h-1zM24 24h1v3h-1zM24 13h1v2h-1zM19 34h7v1h-7zM25 3h1v1h-1zM25 12h1v3h-1zM25 24h1v4h-1zM26 25h1v9h-1zM26 12h1v4h-1zM27 13h1v20h-1zM28 12h1v3h-1zM27 2h3v1h-3zM29 12h1v4h-1zM30 13h1v21h-1zM31 13h1v15h-1zM31 33h1v1h-1zM32 34h1v1h-1zM32 13h1v14h-1zM33 12h1v2h-1zM33 25h1v2h-1zM33 33h1v1h-1zM34 23h1v4h-1zM34 12h1v5h-1zM34 34h2v1h-2zM35 13h1v13h-1zM36 12h1v2h-1zM36 25h1v2h-1zM36 33h1v1h-1zM37 13h2v13h-2zM37 34h2v1h-2zM39 12h1v2h-1zM39 25h1v2h-1zM39 33h1v2h-1zM40 34h1v1h-1zM40 12h1v14h-1zM31 2h11v1h-11zM41 11h1v3h-1zM41 23h1v3h-1zM42 35h1v1h-1zM42 4h1v6h-1zM42 23h13v1h-13zM56 23h1v1h-1zM57 66h1v7h-1zM57 21h1v2h-1zM58 19h1v2h-1zM58 65h2v8h-2zM59 19h1v1h-1zM60 72h1v1h-1zM60 65h1v2h-1zM60 18h1v1h-1zM61 66h1v7h-1zM61 19h2v1h-2zM62 65h1v8h-1zM63 72h1v1h-1zM63 65h1v2h-1zM63 18h1v1h-1zM64 65h1v8h-1zM64 19h2v1h-2zM65 66h2v7h-2zM66 18h1v1h-1zM67 19h2v1h-2zM70 18h1v1h-1zM71 15h1v2h-1zM72 13h1v1h-1zM74 12h1v1h-1zM76 12h1v1h-1zM79 12h1v1h-1z"/><path fill="#4155ab" d="M0 41h2v8h-2zM2 40h1v6h-1zM2 49h1v1h-1zM3 41h1v8h-1zM4 40h1v4h-1zM5 40h1v2h-1zM6 41h1v5h-1zM4 49h4v1h-4zM7 40h1v2h-1zM8 48h1v1h-1zM8 40h1v3h-1zM9 47h1v1h-1zM9 40h1v4h-1zM10 40h1v5h-1zM10 46h1v2h-1zM11 47h2v1h-2zM11 40h2v2h-2zM13 41h1v6h-1zM14 47h1v1h-1zM14 40h1v3h-1zM15 41h1v6h-1zM16 42h2v5h-2zM18 44h1v3h-1zM19 45h1v2h-1zM25 45h2v2h-2zM28 44h2v3h-2zM31 45h1v1h-1zM33 43h1v4h-1zM34 45h1v2h-1zM36 43h1v4h-1zM39 43h1v4h-1zM40 44h1v3h-1zM41 43h2v5h-2zM43 42h1v7h-1zM44 43h2v5h-2zM46 42h2v7h-2zM48 43h1v5h-1zM49 44h1v4h-1zM50 42h1v7h-1zM51 43h2v6h-2zM53 42h1v4h-1zM53 48h1v1h-1zM54 41h1v2h-1zM54 50h1v2h-1zM55 52h1v1h-1zM57 52h1v1h-1zM55 41h5v1h-5zM60 52h1v1h-1zM60 41h1v2h-1zM61 41h2v1h-2zM62 52h2v1h-2zM63 41h1v2h-1zM64 41h2v1h-2zM66 52h1v1h-1zM66 41h1v2h-1zM70 52h1v1h-1zM67 41h7v1h-7zM74 52h1v1h-1zM74 41h1v2h-1zM75 41h1v1h-1zM76 52h1v1h-1zM76 41h1v2h-1zM77 41h3v1h-3zM79 52h1v1h-1z"/><path fill="#fad9db" d="M0 64h2v1h-2zM1 2h1v5h-1zM2 64h1v2h-1zM2 1h1v7h-1zM3 9h1v1h-1zM3 65h1v5h-1zM3 0h1v1h-1zM4 8h1v2h-1zM4 0h1v2h-1zM5 7h1v3h-1zM5 0h1v3h-1zM6 9h1v1h-1zM6 0h1v1h-1zM7 8h1v2h-1zM7 0h1v3h-1zM8 9h1v1h-1zM8 0h1v2h-1zM9 11h1v2h-1zM10 32h3v1h-3zM13 33h1v1h-1zM15 33h2v1h-2zM17 34h1v1h-1zM18 17h1v5h-1zM19 16h1v7h-1zM20 20h1v3h-1zM20 16h1v3h-1zM21 16h2v2h-2zM21 21h2v3h-2zM23 16h1v7h-1zM9 1h18v1h-18zM19 35h8v1h-8zM28 1h1v1h-1zM28 34h2v1h-2zM30 0h1v1h-1zM33 1h1v1h-1zM36 1h1v1h-1zM30 35h10v1h-10zM39 1h1v1h-1zM40 69h1v4h-1zM41 64h1v4h-1zM41 1h2v1h-2zM42 15h1v5h-1zM42 63h2v2h-2zM43 4h1v7h-1zM43 20h3v2h-3zM44 63h2v1h-2zM46 64h2v2h-2zM46 21h2v1h-2zM48 20h1v2h-1zM48 63h2v1h-2zM49 19h1v3h-1zM50 21h3v1h-3zM43 36h12v1h-12zM53 22h3v1h-3zM50 63h7v2h-7zM56 21h1v1h-1zM56 36h2v1h-2zM57 18h1v2h-1zM59 36h2v1h-2zM62 36h2v1h-2zM57 63h10v1h-10zM66 36h1v1h-1zM67 63h1v2h-1zM68 64h1v1h-1zM58 17h12v1h-12zM69 63h1v2h-1zM69 36h2v1h-2zM70 63h1v1h-1zM70 15h1v1h-1zM71 64h1v2h-1zM71 13h1v1h-1zM72 63h2v2h-2zM74 63h1v1h-1zM75 63h1v2h-1zM76 63h1v1h-1zM77 64h1v2h-1zM78 63h1v2h-1zM72 36h8v1h-8zM73 11h7v1h-7zM79 63h1v1h-1z"/><path fill="#f0f0f8" d="M1 60h1v1h-1zM4 61h1v1h-1zM5 61h1v2h-1zM6 61h1v1h-1zM0 33h9v1h-9zM7 61h2v2h-2zM9 34h1v1h-1zM9 61h2v1h-2zM11 61h2v2h-2zM13 61h1v1h-1zM14 61h1v2h-1zM15 61h1v1h-1zM15 35h2v1h-2zM16 61h1v3h-1zM17 68h1v2h-1zM18 70h1v2h-1zM19 71h1v2h-1zM20 72h1v1h-1zM21 71h1v2h-1zM22 70h1v2h-1zM23 69h1v2h-1zM24 68h1v1h-1zM25 68h2v2h-2zM27 68h1v1h-1zM28 69h2v1h-2zM30 68h1v1h-1zM31 68h2v2h-2zM33 69h1v2h-1zM34 68h2v2h-2zM36 69h1v2h-1zM37 68h1v2h-1zM38 68h1v1h-1zM39 66h1v2h-1zM40 61h1v1h-1zM40 37h4v1h-4zM46 37h2v1h-2zM50 37h2v1h-2zM41 60h13v1h-13zM53 0h1v1h-1zM54 10h1v1h-1zM57 60h1v1h-1zM53 37h8v1h-8zM55 11h6v1h-6zM60 60h1v1h-1zM61 11h1v2h-1zM62 60h2v1h-2zM62 11h3v1h-3zM65 11h1v2h-1zM66 60h1v1h-1zM66 11h4v1h-4zM70 10h1v1h-1zM70 60h1v1h-1zM72 9h2v1h-2zM74 60h1v1h-1zM75 9h1v1h-1zM76 60h1v1h-1zM62 37h18v1h-18zM77 9h3v1h-3zM79 60h1v1h-1z"/><path fill="#3850a8" d="M2 46h1v3h-1zM4 44h1v5h-1zM5 42h1v7h-1zM6 46h1v3h-1zM7 42h1v7h-1zM8 43h1v5h-1zM9 44h1v3h-1zM10 45h1v1h-1zM11 42h2v5h-2zM14 43h1v4h-1zM53 46h1v2h-1zM54 43h1v7h-1zM55 42h1v10h-1zM56 42h1v11h-1zM57 42h1v10h-1zM58 42h2v11h-2zM60 43h1v9h-1zM61 42h1v11h-1zM62 42h1v10h-1zM63 43h1v9h-1zM64 42h2v11h-2zM66 43h1v9h-1zM67 42h3v11h-3zM70 42h1v10h-1zM71 42h3v11h-3zM74 43h1v9h-1zM75 42h1v11h-1zM76 43h1v9h-1zM77 42h2v11h-2zM79 42h1v10h-1z"/><path fill="#c4c4e4" d="M2 59h1v1h-1zM0 35h9v1h-9zM4 59h5v1h-5zM10 58h1v1h-1zM11 57h2v2h-2zM13 57h4v1h-4zM15 36h2v1h-2zM17 59h1v2h-1zM18 60h1v6h-1zM19 60h1v9h-1zM20 68h1v1h-1zM20 60h1v6h-1zM21 60h1v9h-1zM22 61h1v6h-1zM23 60h1v6h-1zM24 60h1v4h-1zM25 61h1v4h-1zM26 61h1v5h-1zM27 60h1v5h-1zM28 62h1v4h-1zM29 61h1v5h-1zM30 60h1v4h-1zM31 61h2v4h-2zM33 63h1v3h-1zM34 61h1v5h-1zM35 60h1v5h-1zM36 63h1v3h-1zM37 60h1v5h-1zM38 60h1v3h-1zM39 60h1v1h-1zM40 58h9v1h-9zM41 38h12v1h-12zM50 58h4v1h-4zM55 0h1v7h-1zM56 0h2v8h-2zM58 7h2v2h-2zM60 0h1v1h-1zM60 5h1v3h-1zM60 58h1v1h-1zM61 7h1v2h-1zM61 59h1v1h-1zM62 6h1v3h-1zM63 0h1v1h-1zM63 5h1v3h-1zM63 58h1v1h-1zM64 7h2v2h-2zM66 0h1v8h-1zM66 58h1v1h-1zM67 0h1v1h-1zM67 6h1v3h-1zM68 0h1v9h-1zM69 0h1v8h-1zM70 0h1v6h-1zM70 58h1v1h-1zM71 0h1v7h-1zM71 59h1v1h-1zM72 0h2v6h-2zM74 58h1v1h-1zM75 0h1v6h-1zM76 58h1v1h-1zM77 0h2v6h-2zM79 0h1v5h-1z"/><path fill="#b3b3db" d="M0 58h4v1h-4zM6 58h1v1h-1zM8 58h2v1h-2zM10 56h1v2h-1zM10 36h5v1h-5zM11 56h6v1h-6zM17 58h1v1h-1zM17 37h1v1h-1zM18 58h1v2h-1zM20 66h1v2h-1zM19 59h3v1h-3zM22 59h1v2h-1zM23 59h1v1h-1zM24 58h1v2h-1zM25 59h2v2h-2zM27 58h1v2h-1zM28 59h1v3h-1zM29 59h1v2h-1zM30 58h1v2h-1zM31 59h2v2h-2zM33 59h1v4h-1zM34 59h1v2h-1zM35 59h1v1h-1zM36 59h1v4h-1zM37 59h1v1h-1zM38 58h1v2h-1zM39 59h1v1h-1zM40 38h1v1h-1zM40 57h9v1h-9zM49 56h1v2h-1zM50 57h4v1h-4zM54 58h6v1h-6zM58 0h2v7h-2zM53 38h8v1h-8zM60 1h1v4h-1zM61 0h1v7h-1zM61 58h2v1h-2zM62 0h1v6h-1zM63 1h1v4h-1zM64 58h2v1h-2zM64 0h2v7h-2zM67 1h1v5h-1zM67 58h3v1h-3zM62 38h9v1h-9zM71 58h3v1h-3zM75 58h1v1h-1zM76 57h1v1h-1zM72 38h8v1h-8zM77 58h3v1h-3z"/><path fill="#f5a4a7" d="M10 4h1v5h-1zM11 4h1v6h-1zM12 5h1v5h-1zM13 3h1v3h-1zM13 9h1v4h-1zM14 4h1v7h-1zM15 9h2v4h-2zM15 3h2v2h-2zM18 28h1v5h-1zM17 4h3v7h-3zM20 4h2v8h-2zM22 4h1v7h-1zM19 27h5v7h-5zM23 4h1v8h-1zM24 33h1v1h-1zM24 9h1v4h-1zM24 3h1v2h-1zM24 27h1v2h-1zM25 4h1v8h-1zM25 28h1v6h-1zM26 3h1v2h-1zM26 9h1v3h-1zM27 10h1v3h-1zM27 3h3v1h-3zM28 10h2v2h-2zM30 11h1v2h-1zM30 2h1v1h-1zM31 28h1v5h-1zM31 10h1v3h-1zM32 27h1v7h-1zM32 11h1v2h-1zM33 27h1v6h-1zM33 10h2v2h-2zM34 27h1v7h-1zM35 26h1v8h-1zM35 11h1v2h-1zM31 3h6v1h-6zM36 27h1v6h-1zM36 10h1v2h-1zM37 26h1v4h-1zM37 31h2v3h-2zM37 11h2v2h-2zM38 26h1v3h-1zM39 27h1v6h-1zM39 3h2v1h-2zM39 10h2v2h-2zM40 32h1v2h-1zM40 26h1v2h-1zM41 26h1v1h-1zM41 9h1v2h-1zM41 33h1v2h-1zM41 3h1v2h-1zM42 24h1v2h-1zM43 35h6v1h-6zM43 24h6v1h-6zM50 24h7v1h-7zM57 23h1v1h-1zM58 21h1v2h-1zM59 20h1v2h-1zM60 19h1v2h-1zM60 67h1v5h-1zM61 20h1v2h-1zM62 20h1v1h-1zM63 19h1v2h-1zM63 67h1v5h-1zM64 20h1v1h-1zM65 20h1v2h-1zM66 19h1v2h-1zM67 20h1v1h-1zM68 20h1v2h-1zM69 19h1v2h-1zM70 19h1v1h-1zM71 17h1v2h-1zM72 14h1v1h-1zM50 35h24v1h-24zM73 13h1v2h-1zM75 35h1v1h-1zM74 13h3v1h-3zM77 13h1v2h-1zM77 35h2v1h-2zM78 13h2v1h-2z"/><path fill="#f39497" d="M13 6h1v3h-1zM15 5h2v4h-2zM24 29h1v4h-1zM24 5h1v4h-1zM26 5h1v4h-1zM27 4h3v6h-3zM30 9h1v2h-1zM30 3h1v1h-1zM31 8h1v2h-1zM31 4h2v1h-2zM32 8h1v3h-1zM33 4h1v6h-1zM34 8h1v2h-1zM34 4h1v2h-1zM35 8h1v3h-1zM35 4h1v1h-1zM36 4h1v6h-1zM37 8h1v3h-1zM37 30h1v1h-1zM37 3h2v2h-2zM38 9h1v2h-1zM38 29h1v2h-1zM39 4h1v6h-1zM40 28h1v4h-1zM40 8h1v2h-1zM40 4h1v2h-1zM41 5h1v4h-1zM41 27h1v6h-1zM42 26h1v1h-1zM42 34h1v1h-1zM43 25h6v1h-6zM49 24h1v1h-1zM49 35h1v1h-1zM50 25h7v1h-7zM57 24h1v2h-1zM58 23h1v3h-1zM59 22h1v4h-1zM60 21h1v4h-1zM61 22h1v4h-1zM62 21h1v5h-1zM63 21h1v4h-1zM64 21h1v5h-1zM65 22h1v4h-1zM66 21h1v4h-1zM67 21h1v5h-1zM68 22h1v4h-1zM69 21h1v5h-1zM70 20h1v5h-1zM71 19h1v7h-1zM72 15h1v3h-1zM72 24h1v1h-1zM73 15h1v1h-1zM74 14h1v1h-1zM74 35h1v1h-1zM75 14h1v2h-1zM76 14h1v1h-1zM76 35h1v1h-1zM77 15h1v1h-1zM78 14h2v2h-2zM79 35h1v1h-1z"/><path fill="#f18387" d="M30 4h1v5h-1zM31 5h2v3h-2zM34 6h1v2h-1zM35 5h1v3h-1zM37 5h1v3h-1zM38 5h1v4h-1zM40 6h1v2h-1zM42 32h1v2h-1zM42 27h1v1h-1zM43 26h1v1h-1zM43 34h1v1h-1zM46 26h2v1h-2zM46 34h2v1h-2zM49 25h1v1h-1zM50 26h1v1h-1zM50 34h1v1h-1zM53 26h4v1h-4zM53 34h4v1h-4zM58 34h1v1h-1zM58 26h2v1h-2zM60 25h1v1h-1zM61 26h1v1h-1zM61 34h1v1h-1zM63 25h1v1h-1zM64 26h2v1h-2zM64 34h2v1h-2zM66 25h1v1h-1zM67 34h2v1h-2zM67 26h3v1h-3zM70 25h1v1h-1zM71 26h1v1h-1zM71 34h1v1h-1zM72 25h1v1h-1zM72 18h1v6h-1zM73 16h1v10h-1zM74 15h1v10h-1zM75 16h1v9h-1zM76 15h1v4h-1zM76 21h1v3h-1zM77 16h3v9h-3z"/><path fill="#f07378" d="M42 28h1v4h-1zM43 33h1v1h-1zM43 27h1v1h-1zM44 26h2v1h-2zM44 34h2v1h-2zM46 33h2v1h-2zM48 26h2v1h-2zM48 34h2v1h-2zM51 26h2v1h-2zM51 34h2v1h-2zM57 26h1v1h-1zM57 34h1v1h-1zM59 34h2v1h-2zM60 26h1v1h-1zM62 26h2v1h-2zM62 34h2v1h-2zM66 26h1v1h-1zM66 34h1v1h-1zM69 34h2v1h-2zM70 26h1v1h-1zM72 26h2v1h-2zM72 34h4v1h-4zM74 25h2v1h-2zM76 19h1v2h-1zM76 24h1v2h-1zM77 34h3v1h-3zM77 25h3v1h-3z"/><path fill="#ef656a" d="M43 28h1v5h-1zM44 32h1v2h-1zM44 27h2v1h-2zM45 33h1v1h-1zM46 27h1v2h-1zM46 30h2v3h-2zM48 32h1v2h-1zM49 33h1v1h-1zM50 31h1v3h-1zM51 32h2v2h-2zM53 31h3v3h-3zM56 32h4v2h-4zM60 33h1v1h-1zM61 31h1v3h-1zM62 33h2v1h-2zM64 32h2v2h-2zM66 33h1v1h-1zM67 32h3v2h-3zM70 33h1v1h-1zM71 32h1v2h-1zM47 27h26v1h-26zM72 33h2v1h-2zM76 34h1v1h-1zM74 26h6v1h-6z"/><path fill="#ee565b" d="M44 28h1v4h-1zM45 28h1v5h-1zM46 29h1v1h-1zM47 28h1v2h-1zM48 28h1v4h-1zM49 28h1v5h-1zM50 28h1v3h-1zM51 28h2v4h-2zM53 28h3v3h-3zM56 28h4v4h-4zM60 28h1v1h-1zM60 30h1v3h-1zM61 28h1v3h-1zM62 28h2v5h-2zM64 28h2v4h-2zM66 28h1v1h-1zM66 30h1v3h-1zM67 28h3v4h-3zM70 28h1v1h-1zM70 30h1v3h-1zM71 28h1v4h-1zM72 31h2v2h-2zM73 27h1v1h-1zM74 33h6v1h-6z"/><path fill="#ed484d" d="M60 29h1v1h-1zM66 29h1v1h-1zM70 29h1v1h-1zM72 28h2v3h-2zM74 31h2v2h-2zM76 32h1v1h-1zM77 31h1v2h-1zM74 27h6v1h-6zM78 32h2v1h-2z"/><path fill="#ec3d43" d="M74 28h2v3h-2zM76 30h1v2h-1zM77 28h1v3h-1zM78 28h1v4h-1zM79 28h1v1h-1zM79 30h1v2h-1z"/><path fill="#ea3238" d="M76 28h1v2h-1zM79 29h1v1h-1z"/></g>
<rect x="761.8" y="866.4" width="499.3" height="407.9" fill="none" stroke="#707070" stroke-width="1.4"/>
<text transform="translate(764.54,1304.65) scale(1.0783,1)" font-family="Liberation Sans" font-size="25.49" fill="#262626">1920</text>
<text transform="translate(889.58,1304.65) scale(1.0783,1)" font-family="Liberation Sans" font-size="25.49" fill="#262626">1940</text>
<text transform="translate(1014.62,1304.65) scale(1.0783,1)" font-family="Liberation Sans" font-size="25.49" fill="#262626">1960</text>
<text transform="translate(1139.66,1304.65) scale(1.0783,1)" font-family="Liberation Sans" font-size="25.49" fill="#262626">1980</text>
<text transform="translate(723.23,911.07) scale(1.0688,1)" font-family="Liberation Sans" font-size="25.07" fill="#262626">30</text>
<text transform="translate(722.95,966.95) scale(1.0793,1)" font-family="Liberation Sans" font-size="25.07" fill="#262626">20</text>
<text transform="translate(722.22,1022.82) scale(1.1064,1)" font-family="Liberation Sans" font-size="25.07" fill="#262626">10</text>
<text transform="translate(737.81,1078.70) scale(1.0917,1)" font-family="Liberation Sans" font-size="25.07" fill="#262626">0</text>
<text transform="translate(712.64,1134.58) scale(1.1145,1)" font-family="Liberation Sans" font-size="25.07" fill="#262626">-10</text>
<text transform="translate(712.64,1190.45) scale(1.1145,1)" font-family="Liberation Sans" font-size="25.07" fill="#262626">-20</text>
<text transform="translate(712.64,1246.33) scale(1.1145,1)" font-family="Liberation Sans" font-size="25.07" fill="#262626">-30</text>
<path d="M795.6 1274.3v-5M795.6 866.4v5M920.6 1274.3v-5M920.6 866.4v5M1045.7 1274.3v-5M1045.7 866.4v5M1170.7 1274.3v-5M1170.7 866.4v5M761.8 902.7h5M1261.1 902.7h-5M761.8 958.6h5M1261.1 958.6h-5M761.8 1014.5h5M1261.1 1014.5h-5M761.8 1070.3h5M1261.1 1070.3h-5M761.8 1126.2h5M1261.1 1126.2h-5M761.8 1182.1h5M1261.1 1182.1h-5M761.8 1238.0h5M1261.1 1238.0h-5" stroke="#444" stroke-width="1" fill="none"/>
<text transform="translate(980.91,1335.34) scale(1.1275,1)" font-family="Liberation Sans" font-size="26.43" fill="#262626">Year</text>
<g transform="translate(661.4,0.0) rotate(-90)"><text transform="translate(-1142.93,41.00) scale(1.0855,1)" font-family="Liberation Sans" font-size="27.40" fill="#262626">lag[months]</text></g>
<g transform="translate(100.4,1415.7) scale(6.24125,5.58767)" shape-rendering="crispEdges"><path fill="#d3d3eb" d="M0 33h1v1h-1zM0 53h1v1h-1zM1 53h1v2h-1zM2 34h1v1h-1zM2 54h2v1h-2zM4 53h1v1h-1zM5 54h1v1h-1zM6 53h2v1h-2zM8 54h2v1h-2zM10 53h3v1h-3zM13 53h1v2h-1zM14 54h1v1h-1zM15 53h1v2h-1zM16 53h1v1h-1zM16 35h2v1h-2zM17 52h1v2h-1zM18 49h1v3h-1zM19 48h1v3h-1zM20 48h1v4h-1zM21 49h1v4h-1zM22 53h1v2h-1zM23 56h1v2h-1zM23 35h2v1h-2zM24 57h1v3h-1zM26 35h1v1h-1zM25 56h3v2h-3zM28 35h1v1h-1zM28 57h1v2h-1zM29 56h2v2h-2zM31 57h1v3h-1zM32 56h3v2h-3zM31 35h8v1h-8zM35 57h4v2h-4zM39 56h1v2h-1zM40 55h2v1h-2zM42 37h1v1h-1zM43 55h1v1h-1zM44 37h6v1h-6zM49 55h2v1h-2zM52 55h2v1h-2zM54 56h1v1h-1zM51 37h6v1h-6zM59 1h1v3h-1zM59 37h2v1h-2zM60 0h1v7h-1zM62 0h1v6h-1zM56 58h9v1h-9zM64 0h2v7h-2zM64 37h2v1h-2zM66 0h1v6h-1zM66 58h2v1h-2zM68 0h1v7h-1zM68 37h1v1h-1zM69 58h4v1h-4zM73 0h1v8h-1zM73 37h1v1h-1zM74 58h2v1h-2zM74 0h2v7h-2zM76 6h1v2h-1zM77 5h1v3h-1zM76 37h3v1h-3zM78 6h1v2h-1zM77 58h3v1h-3zM79 5h1v2h-1z"/><path fill="#fceced" d="M0 21h1v8h-1zM1 29h1v2h-1zM1 17h1v6h-1zM2 17h1v5h-1zM2 30h1v1h-1zM3 17h1v4h-1zM4 16h1v2h-1zM5 17h1v4h-1zM6 16h2v2h-2zM8 17h1v4h-1zM9 16h1v4h-1zM10 16h3v2h-3zM13 16h1v3h-1zM14 17h1v4h-1zM15 16h1v4h-1zM16 16h1v2h-1zM3 31h15v1h-15zM17 17h2v4h-2zM18 30h3v2h-3zM19 17h3v3h-3zM21 31h1v1h-1zM22 11h1v6h-1zM23 11h2v7h-2zM25 9h1v2h-1zM26 9h1v3h-1zM27 9h1v2h-1zM28 10h1v3h-1zM29 9h2v2h-2zM31 11h1v3h-1zM32 10h4v2h-4zM36 10h2v3h-2zM22 32h17v1h-17zM38 11h1v4h-1zM39 12h1v4h-1zM39 33h1v1h-1zM40 14h1v2h-1zM41 15h1v1h-1zM42 14h1v1h-1zM42 35h2v1h-2zM43 15h1v1h-1zM43 61h1v12h-1zM44 14h6v1h-6zM44 59h6v2h-6zM50 15h1v1h-1zM50 60h1v3h-1zM51 14h1v1h-1zM51 59h1v2h-1zM52 15h1v1h-1zM53 14h1v1h-1zM52 60h3v2h-3zM54 13h2v1h-2zM55 61h1v2h-1zM56 62h1v1h-1zM57 61h1v1h-1zM57 12h2v1h-2zM58 61h1v2h-1zM59 62h2v1h-2zM61 12h1v1h-1zM61 61h1v1h-1zM62 62h1v1h-1zM63 12h1v1h-1zM63 61h1v1h-1zM64 62h1v1h-1zM65 62h1v2h-1zM66 61h1v2h-1zM67 12h1v1h-1zM67 61h1v1h-1zM68 62h1v2h-1zM69 12h4v1h-4zM69 61h4v1h-4zM73 13h1v1h-1zM73 62h1v2h-1zM74 61h1v2h-1zM74 12h2v1h-2zM75 61h1v1h-1zM76 62h1v2h-1zM77 62h2v1h-2zM79 61h1v2h-1z"/><path fill="#6a6fba" d="M0 45h1v1h-1zM0 37h4v1h-4zM5 37h1v1h-1zM6 38h2v1h-2zM6 45h2v1h-2zM8 37h1v1h-1zM10 45h1v1h-1zM10 38h3v1h-3zM12 45h1v1h-1zM14 37h1v1h-1zM16 39h1v7h-1zM23 39h1v2h-1zM23 46h1v1h-1zM24 38h1v1h-1zM24 47h1v1h-1zM25 39h1v3h-1zM26 39h1v2h-1zM25 46h3v1h-3zM27 39h1v3h-1zM28 38h1v1h-1zM29 39h2v2h-2zM29 46h2v1h-2zM31 38h1v1h-1zM31 47h1v1h-1zM32 38h1v2h-1zM33 39h1v2h-1zM32 46h3v1h-3zM34 38h2v2h-2zM36 38h3v1h-3zM36 47h3v1h-3zM40 48h1v1h-1zM39 39h3v1h-3zM41 49h1v1h-1zM43 49h1v1h-1zM43 39h1v1h-1zM46 40h1v1h-1zM49 49h2v1h-2zM50 39h1v1h-1zM52 49h2v1h-2zM52 39h2v1h-2zM54 50h1v1h-1zM55 51h1v1h-1zM55 39h2v1h-2zM58 39h3v1h-3zM59 52h2v1h-2zM62 39h1v1h-1zM64 52h2v1h-2zM64 39h3v1h-3zM68 39h1v1h-1zM68 52h1v1h-1zM73 52h1v1h-1zM73 39h2v1h-2zM76 52h3v1h-3zM76 39h4v1h-4z"/><path fill="#5d65b5" d="M0 38h1v7h-1zM1 44h1v2h-1zM1 38h1v3h-1zM2 45h2v1h-2zM2 38h2v2h-2zM4 38h1v4h-1zM4 44h1v2h-1zM5 45h1v1h-1zM5 38h1v2h-1zM6 39h2v6h-2zM8 45h2v1h-2zM8 38h2v2h-2zM10 39h1v6h-1zM11 39h1v7h-1zM12 39h1v6h-1zM13 45h2v1h-2zM13 38h2v2h-2zM15 38h1v4h-1zM15 44h1v2h-1zM23 41h1v5h-1zM24 39h1v8h-1zM25 42h1v4h-1zM26 41h1v5h-1zM27 42h1v4h-1zM28 39h1v8h-1zM29 41h2v5h-2zM31 39h1v8h-1zM32 40h1v6h-1zM33 41h1v5h-1zM34 40h1v6h-1zM35 40h1v7h-1zM36 39h3v8h-3zM39 40h1v2h-1zM39 46h1v2h-1zM40 40h1v3h-1zM40 47h1v1h-1zM41 40h1v1h-1zM41 48h2v1h-2zM42 40h1v2h-1zM43 40h1v1h-1zM44 40h1v3h-1zM45 40h1v2h-1zM46 41h1v2h-1zM47 40h2v3h-2zM44 48h6v1h-6zM49 40h1v2h-1zM50 40h1v1h-1zM51 40h1v2h-1zM51 48h1v1h-1zM52 40h3v1h-3zM54 49h1v1h-1zM57 40h1v1h-1zM56 51h3v1h-3zM61 40h1v1h-1zM61 51h3v1h-3zM66 51h2v1h-2zM70 40h1v1h-1zM69 51h4v1h-4zM74 51h2v1h-2zM75 40h1v1h-1zM79 51h1v1h-1z"/><path fill="#f0f0f8" d="M0 31h1v1h-1zM0 55h1v2h-1zM1 56h1v1h-1zM1 32h1v1h-1zM2 33h1v1h-1zM2 56h2v2h-2zM4 56h1v1h-1zM5 56h1v2h-1zM6 55h2v2h-2zM6 34h2v1h-2zM8 56h2v2h-2zM10 55h1v2h-1zM11 56h1v1h-1zM10 34h3v1h-3zM12 55h1v2h-1zM13 56h1v1h-1zM14 56h2v2h-2zM16 55h2v2h-2zM16 34h3v1h-3zM18 54h3v2h-3zM21 55h1v2h-1zM22 56h1v4h-1zM23 61h1v2h-1zM23 34h2v1h-2zM24 62h1v2h-1zM25 61h2v1h-2zM27 60h1v2h-1zM28 34h1v1h-1zM28 61h1v2h-1zM29 61h2v1h-2zM31 34h1v1h-1zM31 62h1v1h-1zM32 61h1v2h-1zM33 61h1v1h-1zM34 34h5v1h-5zM34 61h6v2h-6zM40 57h1v2h-1zM41 57h1v1h-1zM41 36h1v1h-1zM42 56h1v1h-1zM43 57h1v1h-1zM43 0h1v12h-1zM44 0h1v11h-1zM45 5h1v6h-1zM45 0h1v3h-1zM46 0h3v11h-3zM44 56h6v1h-6zM49 9h1v2h-1zM50 10h1v2h-1zM50 57h1v1h-1zM51 5h1v6h-1zM51 56h1v1h-1zM51 0h1v3h-1zM52 10h2v2h-2zM52 57h2v1h-2zM54 8h1v3h-1zM54 58h1v1h-1zM55 9h2v2h-2zM57 0h1v10h-1zM55 59h4v1h-4zM58 9h2v2h-2zM60 10h1v1h-1zM61 9h1v1h-1zM61 59h1v1h-1zM62 9h2v2h-2zM63 59h1v1h-1zM64 10h2v1h-2zM66 59h2v1h-2zM66 9h2v2h-2zM68 10h1v1h-1zM69 9h1v2h-1zM70 8h1v2h-1zM69 59h4v1h-4zM71 9h2v2h-2zM73 10h1v1h-1zM74 59h2v1h-2zM74 9h2v2h-2zM76 10h3v1h-3zM79 59h1v1h-1zM79 9h1v2h-1z"/><path fill="#a3a3d3" d="M0 48h1v1h-1zM0 35h2v1h-2zM1 48h1v2h-1zM2 48h1v3h-1zM3 49h1v2h-1zM4 48h1v2h-1zM5 49h1v2h-1zM6 48h2v1h-2zM8 49h1v2h-1zM9 48h1v3h-1zM10 48h1v1h-1zM11 48h1v2h-1zM12 48h1v1h-1zM13 48h1v3h-1zM14 49h1v2h-1zM15 48h1v2h-1zM16 36h1v1h-1zM16 47h2v1h-2zM18 46h1v1h-1zM19 45h1v1h-1zM21 46h1v1h-1zM18 37h5v1h-5zM22 47h1v1h-1zM23 50h1v3h-1zM23 36h2v1h-2zM24 52h1v2h-1zM25 50h1v3h-1zM26 50h1v4h-1zM27 50h1v3h-1zM28 36h1v1h-1zM28 51h1v3h-1zM29 50h1v3h-1zM30 50h1v4h-1zM31 36h1v1h-1zM31 52h1v2h-1zM32 50h2v4h-2zM34 51h2v3h-2zM34 36h5v1h-5zM36 52h3v2h-3zM39 53h1v1h-1zM40 52h3v1h-3zM43 52h1v2h-1zM44 38h5v1h-5zM44 52h6v1h-6zM50 52h1v2h-1zM51 38h1v1h-1zM51 52h2v1h-2zM53 53h2v1h-2zM55 54h1v1h-1zM56 55h1v2h-1zM57 55h1v1h-1zM58 55h1v2h-1zM59 56h2v1h-2zM61 55h3v2h-3zM64 56h2v1h-2zM66 55h2v2h-2zM68 56h1v1h-1zM69 55h1v2h-1zM70 55h1v1h-1zM54 38h19v1h-19zM71 55h2v2h-2zM73 56h1v1h-1zM74 55h2v2h-2zM74 38h2v1h-2zM76 56h3v1h-3zM77 38h3v1h-3zM79 55h1v2h-1z"/><path fill="#e2e2f2" d="M0 32h1v1h-1zM0 54h1v1h-1zM1 33h1v1h-1zM1 55h3v1h-3zM4 54h1v2h-1zM3 34h3v1h-3zM5 55h1v1h-1zM6 54h2v1h-2zM8 55h2v1h-2zM8 34h2v1h-2zM10 54h1v1h-1zM11 54h1v2h-1zM12 54h1v1h-1zM13 55h3v1h-3zM13 34h3v1h-3zM16 54h2v1h-2zM18 52h1v2h-1zM19 51h1v3h-1zM20 52h1v2h-1zM21 53h1v2h-1zM18 35h5v1h-5zM22 55h1v1h-1zM23 58h1v3h-1zM24 60h1v2h-1zM25 35h1v1h-1zM25 58h2v3h-2zM27 58h1v2h-1zM27 35h1v1h-1zM28 59h1v2h-1zM29 58h2v3h-2zM29 35h2v1h-2zM31 60h1v2h-1zM32 58h3v3h-3zM35 59h4v2h-4zM39 58h1v3h-1zM39 35h1v1h-1zM40 36h1v1h-1zM40 56h2v1h-2zM42 55h1v1h-1zM43 56h1v1h-1zM45 3h1v2h-1zM44 55h5v1h-5zM49 0h1v9h-1zM50 0h1v10h-1zM50 56h1v1h-1zM51 55h1v1h-1zM51 3h1v2h-1zM52 0h2v10h-2zM52 56h2v1h-2zM54 57h1v1h-1zM54 0h1v8h-1zM55 58h1v1h-1zM55 0h2v9h-2zM57 37h2v1h-2zM58 0h1v9h-1zM59 0h1v1h-1zM59 4h1v5h-1zM59 59h2v1h-2zM60 7h1v3h-1zM61 0h1v9h-1zM62 6h1v3h-1zM62 59h1v1h-1zM61 37h3v1h-3zM63 0h1v9h-1zM64 59h2v1h-2zM64 7h2v3h-2zM66 6h1v3h-1zM66 37h2v1h-2zM67 0h1v9h-1zM68 59h1v1h-1zM68 7h1v3h-1zM69 0h1v9h-1zM70 0h1v8h-1zM69 37h4v1h-4zM71 0h2v9h-2zM73 8h1v2h-1zM73 59h1v1h-1zM74 7h2v2h-2zM74 37h2v1h-2zM76 8h3v2h-3zM76 59h3v1h-3zM79 7h1v2h-1zM79 37h1v1h-1z"/><path fill="#b3b3db" d="M0 49h1v3h-1zM1 50h1v2h-1zM2 51h1v1h-1zM2 35h1v1h-1zM3 51h1v2h-1zM4 50h1v2h-1zM5 51h1v2h-1zM6 49h2v3h-2zM8 51h1v2h-1zM9 51h1v1h-1zM10 49h1v3h-1zM11 50h1v2h-1zM12 49h1v3h-1zM13 51h1v1h-1zM14 51h1v2h-1zM15 50h1v2h-1zM16 48h1v3h-1zM17 48h1v1h-1zM17 36h1v1h-1zM19 46h2v1h-2zM21 47h1v1h-1zM22 48h1v2h-1zM23 53h1v2h-1zM24 54h1v2h-1zM25 53h1v2h-1zM26 54h1v1h-1zM25 36h3v1h-3zM27 53h1v2h-1zM28 54h1v1h-1zM29 53h1v2h-1zM29 36h2v1h-2zM30 54h1v1h-1zM31 54h1v2h-1zM32 36h2v1h-2zM32 54h4v1h-4zM36 54h1v2h-1zM37 54h3v1h-3zM40 37h1v1h-1zM40 53h3v1h-3zM44 53h6v1h-6zM51 53h2v1h-2zM54 54h1v1h-1zM55 55h1v2h-1zM56 57h1v1h-1zM57 56h1v1h-1zM58 57h12v1h-12zM70 56h1v1h-1zM71 57h9v1h-9z"/><path fill="#c4c4e4" d="M0 52h2v1h-2zM0 34h2v1h-2zM2 52h1v2h-1zM3 53h1v1h-1zM4 52h1v1h-1zM5 53h1v1h-1zM6 52h2v1h-2zM8 53h1v1h-1zM9 52h1v2h-1zM10 52h4v1h-4zM14 53h1v1h-1zM3 35h13v1h-13zM15 52h1v1h-1zM16 51h1v2h-1zM17 49h1v3h-1zM18 47h1v2h-1zM19 47h2v1h-2zM21 48h1v1h-1zM18 36h5v1h-5zM22 50h1v3h-1zM23 55h1v1h-1zM24 56h1v1h-1zM25 55h3v1h-3zM28 55h1v2h-1zM29 55h2v1h-2zM31 56h1v1h-1zM32 55h3v1h-3zM35 55h1v2h-1zM36 56h1v1h-1zM37 55h2v2h-2zM39 55h1v1h-1zM39 36h1v1h-1zM41 37h1v1h-1zM43 37h1v1h-1zM50 37h1v1h-1zM40 54h14v1h-14zM54 55h1v1h-1zM55 57h1v1h-1zM57 57h1v1h-1zM65 58h1v1h-1zM68 58h1v1h-1zM70 57h1v1h-1zM73 58h1v1h-1zM76 0h1v6h-1zM76 58h1v1h-1zM77 0h1v5h-1zM78 0h1v6h-1zM79 0h1v5h-1z"/><path fill="#9292ca" d="M0 47h2v1h-2zM3 48h1v1h-1zM4 47h1v1h-1zM5 48h1v1h-1zM6 47h2v1h-2zM8 48h1v1h-1zM10 47h3v1h-3zM14 48h1v1h-1zM3 36h13v1h-13zM15 47h1v1h-1zM17 46h1v1h-1zM17 37h1v1h-1zM18 45h1v1h-1zM18 38h1v2h-1zM19 38h1v7h-1zM20 38h1v8h-1zM21 45h1v1h-1zM21 38h1v2h-1zM23 48h1v2h-1zM24 49h1v3h-1zM25 49h3v1h-3zM28 49h1v2h-1zM29 49h2v1h-2zM31 49h1v3h-1zM32 49h2v1h-2zM34 49h2v2h-2zM36 49h3v3h-3zM39 50h1v3h-1zM39 37h1v1h-1zM40 50h1v2h-1zM41 38h3v1h-3zM49 38h2v1h-2zM41 51h12v1h-12zM52 38h2v1h-2zM53 51h1v2h-1zM54 52h1v1h-1zM55 53h1v1h-1zM56 54h1v1h-1zM57 53h1v2h-1zM58 54h1v1h-1zM59 54h2v2h-2zM61 54h3v1h-3zM64 54h2v2h-2zM66 54h2v1h-2zM68 54h1v2h-1zM69 54h4v1h-4zM73 38h1v1h-1zM73 54h1v2h-1zM74 54h2v1h-2zM76 38h1v1h-1zM76 54h3v2h-3zM79 54h1v1h-1z"/><path fill="#fad9db" d="M1 23h1v6h-1zM2 29h1v1h-1zM2 22h1v3h-1zM3 21h1v3h-1zM3 29h1v2h-1zM4 18h1v6h-1zM5 21h1v3h-1zM6 18h2v5h-2zM8 21h1v3h-1zM9 20h1v4h-1zM10 18h3v5h-3zM13 19h1v5h-1zM14 21h1v3h-1zM15 20h1v4h-1zM4 30h13v1h-13zM16 18h1v5h-1zM17 21h1v10h-1zM18 21h1v9h-1zM19 20h2v10h-2zM21 20h1v11h-1zM22 17h1v4h-1zM23 18h2v3h-2zM25 11h1v8h-1zM26 12h1v7h-1zM27 11h1v8h-1zM28 13h1v7h-1zM29 11h2v8h-2zM31 14h1v7h-1zM32 12h4v8h-4zM36 13h1v8h-1zM37 13h1v7h-1zM22 31h17v1h-17zM38 15h1v5h-1zM39 16h1v2h-1zM39 32h1v1h-1zM40 34h2v1h-2zM40 16h2v1h-2zM42 15h1v1h-1zM43 16h1v1h-1zM44 61h6v12h-6zM44 15h6v1h-6zM49 35h2v1h-2zM50 63h1v10h-1zM50 16h1v1h-1zM51 61h1v12h-1zM51 15h1v1h-1zM52 35h2v1h-2zM53 15h1v1h-1zM52 62h3v11h-3zM54 14h1v1h-1zM55 63h2v10h-2zM57 62h1v11h-1zM58 63h3v10h-3zM60 35h1v1h-1zM61 62h1v11h-1zM62 63h1v10h-1zM63 62h1v11h-1zM64 63h1v10h-1zM65 64h1v9h-1zM65 35h1v1h-1zM66 63h1v10h-1zM67 62h1v11h-1zM68 64h1v9h-1zM68 35h1v1h-1zM56 13h17v1h-17zM69 62h4v11h-4zM73 64h1v9h-1zM73 35h1v1h-1zM74 63h1v3h-1zM75 62h1v3h-1zM76 64h1v3h-1zM76 35h3v1h-3zM77 63h2v3h-2zM74 13h6v1h-6zM79 63h1v2h-1z"/><path fill="#535eb2" d="M1 41h1v3h-1zM2 40h2v5h-2zM4 42h1v2h-1zM5 40h1v5h-1zM8 40h2v5h-2zM13 40h2v5h-2zM15 42h1v2h-1zM39 42h1v4h-1zM40 43h1v4h-1zM41 41h1v7h-1zM42 42h1v6h-1zM43 47h1v2h-1zM43 41h1v5h-1zM44 43h1v5h-1zM45 42h1v6h-1zM46 43h3v5h-3zM49 42h1v6h-1zM50 48h1v1h-1zM50 41h1v4h-1zM51 42h1v6h-1zM52 47h3v2h-3zM52 41h3v5h-3zM55 40h1v2h-1zM55 49h1v2h-1zM56 40h1v1h-1zM57 41h1v1h-1zM57 50h1v1h-1zM58 40h3v1h-3zM59 51h2v1h-2zM64 51h2v1h-2zM68 51h1v1h-1zM62 40h8v1h-8zM70 41h1v1h-1zM73 51h1v1h-1zM71 40h4v1h-4zM76 51h3v1h-3zM76 40h4v1h-4z"/><path fill="#8485c4" d="M0 36h3v1h-3zM2 47h2v1h-2zM5 47h1v1h-1zM8 47h2v1h-2zM13 47h2v1h-2zM16 46h1v1h-1zM16 37h1v1h-1zM17 45h1v1h-1zM17 38h1v1h-1zM18 40h1v5h-1zM21 40h1v5h-1zM22 45h1v2h-1zM22 38h1v2h-1zM23 37h1v1h-1zM24 48h15v1h-15zM25 37h14v1h-14zM39 49h1v1h-1zM40 38h1v1h-1zM41 50h12v1h-12zM54 51h1v1h-1zM56 53h1v1h-1zM58 53h22v1h-22z"/><path fill="#f8c7c8" d="M2 25h1v4h-1zM3 24h1v5h-1zM4 28h1v2h-1zM4 24h1v2h-1zM5 24h1v6h-1zM6 29h2v1h-2zM6 23h2v2h-2zM8 24h2v6h-2zM10 29h1v1h-1zM10 23h1v2h-1zM11 28h1v2h-1zM11 23h1v3h-1zM12 29h1v1h-1zM12 23h1v2h-1zM13 24h3v6h-3zM16 23h1v7h-1zM22 21h1v10h-1zM23 21h2v2h-2zM23 29h2v2h-2zM25 19h3v2h-3zM28 20h1v2h-1zM29 19h2v2h-2zM31 21h1v1h-1zM32 20h4v2h-4zM25 30h12v1h-12zM36 21h1v1h-1zM37 20h2v2h-2zM39 31h1v1h-1zM39 18h1v3h-1zM40 33h1v1h-1zM40 17h1v1h-1zM42 16h1v1h-1zM43 17h1v1h-1zM44 35h5v1h-5zM44 16h6v1h-6zM50 17h1v1h-1zM51 35h1v1h-1zM51 16h3v1h-3zM54 15h1v1h-1zM55 14h2v1h-2zM54 35h6v1h-6zM58 14h3v1h-3zM62 14h1v1h-1zM61 35h4v1h-4zM64 14h3v1h-3zM66 35h2v1h-2zM68 14h1v1h-1zM69 35h4v1h-4zM73 14h2v1h-2zM74 66h1v7h-1zM74 35h2v1h-2zM75 65h1v3h-1zM76 67h1v6h-1zM77 66h2v7h-2zM76 14h4v1h-4zM79 35h1v1h-1zM79 65h1v4h-1z"/><path fill="#777abf" d="M4 37h1v1h-1zM6 37h2v1h-2zM9 37h5v1h-5zM0 46h16v1h-16zM15 37h1v1h-1zM16 38h1v1h-1zM17 39h1v6h-1zM22 40h1v5h-1zM23 47h1v1h-1zM23 38h1v1h-1zM24 37h1v1h-1zM25 38h3v1h-3zM25 47h6v1h-6zM29 38h2v1h-2zM33 38h1v1h-1zM32 47h4v1h-4zM39 48h1v1h-1zM39 38h1v1h-1zM40 49h1v1h-1zM42 49h1v1h-1zM42 39h1v1h-1zM44 49h5v1h-5zM44 39h6v1h-6zM51 49h1v1h-1zM51 39h1v1h-1zM53 50h1v1h-1zM54 39h1v1h-1zM57 39h1v1h-1zM55 52h4v1h-4zM61 39h1v1h-1zM61 52h3v1h-3zM63 39h1v1h-1zM66 52h2v1h-2zM67 39h1v1h-1zM69 39h4v1h-4zM69 52h4v1h-4zM74 52h2v1h-2zM75 39h1v1h-1zM79 52h1v1h-1z"/><path fill="#f6b4b6" d="M4 26h1v2h-1zM6 25h2v4h-2zM10 25h1v4h-1zM11 26h1v2h-1zM12 25h1v4h-1zM23 23h2v6h-2zM25 21h1v2h-1zM26 21h1v3h-1zM25 29h3v1h-3zM27 21h1v2h-1zM28 22h1v8h-1zM29 21h2v2h-2zM29 29h2v1h-2zM31 22h1v8h-1zM32 28h1v2h-1zM33 29h1v1h-1zM34 28h1v2h-1zM35 29h2v1h-2zM37 30h1v1h-1zM32 22h7v2h-7zM38 29h1v2h-1zM39 30h1v1h-1zM39 21h1v3h-1zM40 32h1v1h-1zM40 18h1v2h-1zM41 17h1v2h-1zM41 33h1v1h-1zM42 17h1v1h-1zM42 34h2v1h-2zM43 18h1v1h-1zM44 17h6v1h-6zM50 18h1v1h-1zM51 17h1v1h-1zM52 17h1v2h-1zM53 17h1v1h-1zM54 16h1v1h-1zM55 15h2v1h-2zM57 14h1v1h-1zM59 15h2v1h-2zM61 14h1v1h-1zM62 15h1v1h-1zM63 14h1v1h-1zM64 15h3v1h-3zM67 14h1v1h-1zM68 15h1v1h-1zM69 14h4v1h-4zM73 15h1v1h-1zM75 68h1v5h-1zM75 14h1v1h-1zM76 15h4v1h-4zM79 69h1v4h-1z"/><path fill="#f5a4a7" d="M25 23h1v6h-1zM26 24h1v5h-1zM27 23h1v6h-1zM29 23h2v6h-2zM32 24h1v4h-1zM33 24h1v5h-1zM34 24h1v4h-1zM35 24h2v5h-2zM37 24h1v6h-1zM38 24h1v5h-1zM39 24h1v6h-1zM40 20h1v5h-1zM40 29h1v3h-1zM41 19h1v4h-1zM41 29h1v4h-1zM42 33h1v1h-1zM42 18h1v2h-1zM43 19h1v2h-1zM44 18h1v1h-1zM44 34h2v1h-2zM45 18h1v2h-1zM46 18h3v1h-3zM49 18h1v2h-1zM50 19h1v2h-1zM51 18h1v2h-1zM52 19h1v1h-1zM53 18h1v2h-1zM54 17h1v2h-1zM49 34h8v1h-8zM55 16h2v2h-2zM57 15h1v1h-1zM58 15h1v2h-1zM59 16h1v1h-1zM58 34h3v1h-3zM60 16h1v2h-1zM61 15h1v1h-1zM62 34h1v1h-1zM62 16h1v1h-1zM63 15h1v2h-1zM64 16h1v1h-1zM65 16h1v2h-1zM64 34h3v1h-3zM66 16h1v1h-1zM67 15h1v2h-1zM68 34h1v1h-1zM68 16h1v2h-1zM69 15h1v2h-1zM70 15h1v1h-1zM71 15h2v2h-2zM73 34h1v1h-1zM73 16h1v2h-1zM74 15h1v2h-1zM75 15h1v1h-1zM76 16h3v2h-3zM76 34h4v1h-4zM79 16h1v1h-1z"/><path fill="#f39497" d="M40 25h1v4h-1zM41 23h1v6h-1zM42 31h1v2h-1zM42 20h1v3h-1zM43 21h1v1h-1zM43 33h1v1h-1zM44 19h1v2h-1zM45 20h1v1h-1zM46 34h3v1h-3zM46 19h3v2h-3zM49 20h1v1h-1zM50 21h1v1h-1zM51 20h3v1h-3zM54 19h1v2h-1zM55 18h2v3h-2zM57 34h1v1h-1zM57 16h1v3h-1zM58 17h1v3h-1zM59 17h1v4h-1zM60 18h1v3h-1zM61 16h1v4h-1zM61 34h1v1h-1zM62 17h2v3h-2zM63 34h1v1h-1zM64 17h1v4h-1zM65 18h1v3h-1zM66 17h2v3h-2zM67 34h1v1h-1zM68 18h1v3h-1zM69 17h1v3h-1zM70 16h1v3h-1zM69 34h4v1h-4zM71 17h2v3h-2zM73 18h1v3h-1zM74 17h1v3h-1zM74 34h2v1h-2zM75 16h1v4h-1zM76 18h3v3h-3zM79 17h1v3h-1z"/><path fill="#f18387" d="M42 23h1v8h-1zM43 28h1v5h-1zM43 22h1v1h-1zM44 33h2v1h-2zM44 21h6v1h-6zM49 33h8v1h-8zM51 21h6v1h-6zM57 19h1v2h-1zM58 20h1v1h-1zM58 33h3v1h-3zM59 21h2v1h-2zM61 20h1v1h-1zM62 33h1v1h-1zM62 20h1v2h-1zM63 20h1v1h-1zM64 21h2v1h-2zM64 33h3v1h-3zM66 20h2v1h-2zM68 33h1v1h-1zM68 21h1v1h-1zM69 20h1v1h-1zM70 19h1v2h-1zM71 20h2v1h-2zM73 33h1v1h-1zM73 21h1v1h-1zM74 20h2v1h-2zM76 33h3v1h-3zM76 21h3v1h-3zM79 20h1v1h-1z"/><path fill="#f07378" d="M43 23h1v5h-1zM44 32h2v1h-2zM44 22h2v1h-2zM46 33h3v1h-3zM49 32h1v1h-1zM50 30h1v3h-1zM51 32h1v1h-1zM52 31h1v2h-1zM49 22h5v1h-5zM53 32h4v1h-4zM57 33h1v1h-1zM57 21h2v1h-2zM59 32h2v1h-2zM61 33h1v1h-1zM61 21h1v1h-1zM63 33h1v1h-1zM63 21h1v1h-1zM64 32h2v1h-2zM66 21h2v1h-2zM67 33h1v1h-1zM68 32h1v1h-1zM69 33h4v1h-4zM69 21h4v1h-4zM73 32h1v1h-1zM73 22h1v1h-1zM74 33h2v1h-2zM74 21h2v1h-2zM76 22h1v1h-1zM79 33h1v1h-1zM79 21h1v1h-1z"/><path fill="#4a5aae" d="M43 46h1v1h-1zM50 45h1v3h-1zM52 46h3v1h-3zM55 42h1v7h-1zM56 41h1v5h-1zM56 49h1v2h-1zM57 42h1v8h-1zM58 41h1v10h-1zM59 50h2v1h-2zM59 41h2v2h-2zM61 41h1v10h-1zM62 49h1v2h-1zM62 41h1v4h-1zM63 41h1v10h-1zM64 50h2v1h-2zM64 41h2v2h-2zM66 41h1v5h-1zM66 49h1v2h-1zM67 41h1v10h-1zM68 41h1v1h-1zM68 50h1v1h-1zM69 41h1v10h-1zM70 42h1v9h-1zM71 41h2v10h-2zM73 41h1v1h-1zM73 50h1v1h-1zM74 41h2v10h-2zM76 41h1v1h-1zM76 50h3v1h-3zM77 41h2v2h-2zM79 41h1v5h-1zM79 49h1v2h-1z"/><path fill="#ef656a" d="M44 25h1v7h-1zM44 23h2v1h-2zM45 26h1v6h-1zM46 22h3v1h-3zM46 27h3v6h-3zM49 23h1v1h-1zM49 26h1v6h-1zM50 23h1v7h-1zM51 26h1v6h-1zM52 23h1v8h-1zM53 25h1v7h-1zM53 23h1v1h-1zM54 27h1v5h-1zM55 28h2v4h-2zM57 31h1v2h-1zM58 30h1v3h-1zM59 28h1v4h-1zM60 27h1v5h-1zM61 31h1v2h-1zM62 29h1v4h-1zM63 31h1v2h-1zM64 28h1v4h-1zM65 27h1v5h-1zM66 30h1v3h-1zM67 31h1v2h-1zM68 27h1v5h-1zM54 22h19v1h-19zM69 31h4v2h-4zM73 23h1v1h-1zM73 27h1v5h-1zM74 22h2v1h-2zM74 32h2v1h-2zM76 31h1v2h-1zM77 22h3v1h-3zM77 32h3v1h-3z"/><path fill="#ee565b" d="M44 24h1v1h-1zM45 24h1v2h-1zM46 23h3v4h-3zM49 24h1v2h-1zM51 23h1v3h-1zM53 24h1v1h-1zM54 23h1v4h-1zM55 23h2v5h-2zM57 23h1v1h-1zM57 25h1v6h-1zM58 23h1v7h-1zM59 23h1v5h-1zM60 23h1v4h-1zM61 23h1v8h-1zM62 23h1v6h-1zM63 23h1v8h-1zM64 23h1v5h-1zM65 23h1v4h-1zM66 23h1v7h-1zM67 23h1v8h-1zM68 23h1v4h-1zM69 23h1v8h-1zM70 23h1v1h-1zM70 25h1v6h-1zM71 23h2v8h-2zM73 24h1v3h-1zM74 23h1v9h-1zM75 23h1v1h-1zM75 31h1v1h-1zM76 29h1v2h-1zM76 23h1v5h-1zM77 23h2v4h-2zM77 30h2v2h-2zM79 31h1v1h-1zM79 23h1v2h-1z"/><path fill="#4155ab" d="M56 46h1v3h-1zM59 43h2v7h-2zM62 45h1v4h-1zM64 43h2v7h-2zM66 46h1v3h-1zM68 42h1v8h-1zM73 42h1v8h-1zM76 42h1v8h-1zM77 43h2v7h-2zM79 46h1v3h-1z"/><path fill="#ed484d" d="M57 24h1v1h-1zM70 24h1v1h-1zM75 24h1v7h-1zM76 28h1v1h-1zM77 27h2v3h-2zM79 25h1v6h-1z"/></g>
<rect x="100.4" y="1415.7" width="499.3" height="407.9" fill="none" stroke="#707070" stroke-width="1.4"/>
<text transform="translate(103.14,1853.95) scale(1.0783,1)" font-family="Liberation Sans" font-size="25.49" fill="#262626">1920</text>
<text transform="translate(228.18,1853.95) scale(1.0783,1)" font-family="Liberation Sans" font-size="25.49" fill="#262626">1940</text>
<text transform="translate(353.22,1853.95) scale(1.0783,1)" font-family="Liberation Sans" font-size="25.49" fill="#262626">1960</text>
<text transform="translate(478.26,1853.95) scale(1.0783,1)" font-family="Liberation Sans" font-size="25.49" fill="#262626">1980</text>
<text transform="translate(61.83,1460.37) scale(1.0688,1)" font-family="Liberation Sans" font-size="25.07" fill="#262626">30</text>
<text transform="translate(61.55,1516.25) scale(1.0793,1)" font-family="Liberation Sans" font-size="25.07" fill="#262626">20</text>
<text transform="translate(60.82,1572.12) scale(1.1064,1)" font-family="Liberation Sans" font-size="25.07" fill="#262626">10</text>
<text transform="translate(76.41,1628.00) scale(1.0917,1)" font-family="Liberation Sans" font-size="25.07" fill="#262626">0</text>
<text transform="translate(51.24,1683.88) scale(1.1145,1)" font-family="Liberation Sans" font-size="25.07" fill="#262626">-10</text>
<text transform="translate(51.24,1739.75) scale(1.1145,1)" font-family="Liberation Sans" font-size="25.07" fill="#262626">-20</text>
<text transform="translate(51.24,1795.63) scale(1.1145,1)" font-family="Liberation Sans" font-size="25.07" fill="#262626">-30</text>
<path d="M134.2 1823.6v-5M134.2 1415.7v5M259.2 1823.6v-5M259.2 1415.7v5M384.3 1823.6v-5M384.3 1415.7v5M509.3 1823.6v-5M509.3 1415.7v5M100.4 1452.0h5M599.7 1452.0h-5M100.4 1507.9h5M599.7 1507.9h-5M100.4 1563.8h5M599.7 1563.8h-5M100.4 1619.7h5M599.7 1619.7h-5M100.4 1675.5h5M599.7 1675.5h-5M100.4 1731.4h5M599.7 1731.4h-5M100.4 1787.3h5M599.7 1787.3h-5" stroke="#444" stroke-width="1" fill="none"/>
<text transform="translate(319.51,1884.64) scale(1.1275,1)" font-family="Liberation Sans" font-size="26.43" fill="#262626">Year</text>
<g transform="translate(0.0,549.3) rotate(-90)"><text transform="translate(-1142.93,41.00) scale(1.0855,1)" font-family="Liberation Sans" font-size="27.40" fill="#262626">lag[months]</text></g>
<g transform="translate(761.8,1415.7) scale(6.24125,5.58767)" shape-rendering="crispEdges"><path fill="#fceced" d="M0 28h1v2h-1zM0 5h2v3h-2zM1 29h2v1h-2zM2 5h1v2h-1zM3 6h1v5h-1zM3 28h5v1h-5zM4 6h4v4h-4zM8 5h1v2h-1zM8 30h1v1h-1zM9 6h1v3h-1zM9 31h1v1h-1zM10 32h1v1h-1zM10 9h1v3h-1zM11 9h7v2h-7zM18 9h1v3h-1zM11 33h9v1h-9zM19 9h1v2h-1zM20 10h1v2h-1zM21 9h1v2h-1zM22 8h1v2h-1zM23 8h1v3h-1zM24 6h1v4h-1zM25 4h1v3h-1zM26 4h1v2h-1zM21 33h7v1h-7zM27 4h1v1h-1zM28 3h1v2h-1zM29 33h1v1h-1zM29 4h1v2h-1zM30 3h1v2h-1zM31 4h1v1h-1zM32 4h3v2h-3zM35 3h1v2h-1zM36 33h1v1h-1zM36 4h1v2h-1zM37 3h1v2h-1zM38 33h1v1h-1zM38 4h1v2h-1zM39 5h1v5h-1zM40 9h1v4h-1zM40 64h1v9h-1zM41 61h1v3h-1zM41 12h1v2h-1zM41 35h2v1h-2zM42 70h1v3h-1zM42 61h1v6h-1zM43 61h2v2h-2zM42 14h5v1h-5zM45 60h2v2h-2zM47 15h1v1h-1zM47 61h1v2h-1zM48 14h2v1h-2zM48 60h2v2h-2zM50 15h1v1h-1zM50 61h2v2h-2zM51 14h1v1h-1zM52 15h1v1h-1zM52 61h1v4h-1zM53 13h1v2h-1zM53 61h1v1h-1zM54 62h5v1h-5zM59 62h1v2h-1zM60 62h1v4h-1zM60 72h1v1h-1zM61 62h1v1h-1zM62 62h1v11h-1zM63 62h1v3h-1zM64 62h1v1h-1zM65 62h1v5h-1zM65 71h1v2h-1zM66 62h2v4h-2zM66 72h2v1h-2zM68 62h1v1h-1zM69 62h1v3h-1zM70 62h1v5h-1zM70 71h1v2h-1zM71 62h1v1h-1zM72 62h1v3h-1zM73 62h6v1h-6zM54 13h26v1h-26zM79 62h1v2h-1z"/><path fill="#4a5aae" d="M0 39h1v1h-1zM0 47h3v1h-3zM1 39h2v2h-2zM3 39h5v1h-5zM8 47h2v1h-2zM8 40h2v2h-2zM10 39h1v1h-1zM11 40h4v1h-4zM11 47h4v1h-4zM15 40h1v4h-1zM15 46h1v2h-1zM16 44h1v3h-1zM41 43h1v5h-1zM42 41h1v7h-1zM43 42h2v6h-2zM45 43h2v5h-2zM47 42h1v6h-1zM48 43h2v5h-2zM50 41h1v7h-1zM51 42h1v6h-1zM52 41h1v8h-1zM53 42h1v7h-1zM54 48h1v2h-1zM54 41h2v3h-2zM55 49h1v1h-1zM56 41h1v2h-1zM57 41h1v1h-1zM58 41h1v2h-1zM59 41h1v1h-1zM61 41h1v1h-1zM62 40h1v1h-1zM63 41h1v1h-1zM64 41h1v2h-1zM65 40h1v1h-1zM56 50h12v1h-12zM68 49h1v2h-1zM68 41h1v2h-1zM69 41h1v1h-1zM70 40h1v1h-1zM71 41h1v2h-1zM73 41h1v2h-1zM74 41h1v1h-1zM69 50h7v1h-7zM75 41h1v2h-1zM76 41h1v3h-1zM76 49h1v2h-1zM77 41h1v1h-1zM78 41h1v2h-1zM77 50h3v1h-3zM79 40h1v1h-1z"/><path fill="#fad9db" d="M0 27h1v1h-1zM0 8h2v6h-2zM1 27h1v2h-1zM2 7h1v6h-1zM2 28h1v1h-1zM3 11h1v4h-1zM4 10h1v5h-1zM5 10h2v4h-2zM3 27h5v1h-5zM7 10h1v5h-1zM8 7h1v5h-1zM8 28h1v2h-1zM9 9h1v4h-1zM9 29h1v2h-1zM10 31h1v1h-1zM10 12h1v5h-1zM11 11h1v5h-1zM12 11h3v6h-3zM15 11h2v5h-2zM17 11h1v6h-1zM18 12h1v6h-1zM19 11h1v6h-1zM20 12h1v6h-1zM21 11h1v5h-1zM22 10h1v5h-1zM23 11h1v4h-1zM24 10h1v5h-1zM11 32h15v1h-15zM25 7h1v7h-1zM26 6h1v7h-1zM27 5h1v4h-1zM28 33h1v1h-1zM28 5h1v3h-1zM29 6h1v6h-1zM30 5h1v3h-1zM31 5h1v4h-1zM32 6h2v6h-2zM34 6h1v5h-1zM30 33h6v1h-6zM35 5h1v3h-1zM36 6h1v6h-1zM37 5h1v4h-1zM37 33h1v1h-1zM38 6h1v7h-1zM39 33h1v1h-1zM39 10h1v4h-1zM40 34h1v1h-1zM40 13h1v1h-1zM41 64h1v9h-1zM41 14h1v1h-1zM42 67h1v3h-1zM43 63h2v10h-2zM43 35h2v1h-2zM42 15h5v1h-5zM45 62h2v11h-2zM47 63h1v10h-1zM47 35h1v1h-1zM48 62h2v11h-2zM48 15h2v1h-2zM50 63h2v10h-2zM51 15h1v1h-1zM50 35h3v1h-3zM52 65h1v8h-1zM53 62h1v11h-1zM54 35h1v1h-1zM54 14h1v1h-1zM57 35h1v1h-1zM54 63h5v10h-5zM59 64h1v9h-1zM60 66h1v6h-1zM61 63h1v10h-1zM59 35h5v1h-5zM59 14h5v1h-5zM63 65h1v8h-1zM64 63h1v10h-1zM65 67h1v4h-1zM65 35h3v1h-3zM65 14h3v1h-3zM66 66h2v6h-2zM68 63h1v10h-1zM69 65h1v8h-1zM69 35h2v1h-2zM69 14h2v1h-2zM70 67h1v4h-1zM71 63h1v10h-1zM72 65h1v8h-1zM72 35h1v1h-1zM72 14h1v1h-1zM73 63h1v10h-1zM74 63h1v4h-1zM75 63h1v3h-1zM76 63h1v2h-1zM77 14h1v1h-1zM77 63h2v3h-2zM79 35h1v1h-1zM79 64h1v4h-1zM79 14h1v1h-1z"/><path fill="#f6b4b6" d="M0 17h1v8h-1zM1 16h1v9h-1zM2 16h1v10h-1zM4 19h1v3h-1zM5 18h2v5h-2zM7 19h1v4h-1zM8 16h1v11h-1zM9 17h1v11h-1zM10 20h1v9h-1zM11 19h1v3h-1zM11 28h3v2h-3zM12 20h3v2h-3zM14 28h1v3h-1zM15 29h2v2h-2zM15 19h2v2h-2zM17 28h1v3h-1zM17 20h1v2h-1zM18 20h1v3h-1zM18 27h1v3h-1zM19 28h1v2h-1zM19 20h1v2h-1zM20 20h1v3h-1zM20 27h1v3h-1zM21 19h3v2h-3zM21 29h4v2h-4zM24 17h1v3h-1zM25 16h1v2h-1zM25 30h1v1h-1zM26 16h1v1h-1zM27 15h2v2h-2zM29 16h1v1h-1zM26 31h5v1h-5zM30 15h2v2h-2zM32 16h2v1h-2zM34 15h2v2h-2zM36 16h1v1h-1zM37 15h2v2h-2zM34 31h6v1h-6zM39 16h1v1h-1zM40 32h1v1h-1zM40 15h2v2h-2zM42 34h1v1h-1zM42 17h5v1h-5zM47 17h1v2h-1zM48 17h2v1h-2zM50 17h1v2h-1zM51 17h1v1h-1zM52 17h1v2h-1zM53 16h2v1h-2zM55 15h5v1h-5zM60 16h1v1h-1zM61 15h1v1h-1zM62 16h2v1h-2zM64 15h1v1h-1zM65 16h3v1h-3zM68 15h1v1h-1zM70 16h1v1h-1zM71 15h1v1h-1zM72 16h1v1h-1zM76 70h1v2h-1zM73 15h6v1h-6zM79 16h1v1h-1z"/><path fill="#f8c7c8" d="M0 14h1v3h-1zM0 25h2v2h-2zM1 14h1v2h-1zM2 13h1v3h-1zM2 26h1v2h-1zM3 15h1v12h-1zM4 22h1v5h-1zM4 15h1v4h-1zM5 14h2v4h-2zM5 23h3v4h-3zM7 15h1v4h-1zM8 12h1v4h-1zM8 27h1v1h-1zM9 28h1v1h-1zM9 13h1v4h-1zM10 17h1v3h-1zM10 29h1v2h-1zM11 16h1v3h-1zM11 30h3v2h-3zM12 17h3v3h-3zM15 16h2v3h-2zM14 31h4v1h-4zM17 17h1v3h-1zM18 18h1v2h-1zM19 17h1v3h-1zM18 30h3v2h-3zM20 18h1v2h-1zM21 16h1v3h-1zM22 15h2v4h-2zM24 15h1v2h-1zM21 31h5v1h-5zM25 14h1v2h-1zM26 13h1v3h-1zM27 9h1v6h-1zM28 8h1v7h-1zM29 12h1v4h-1zM30 8h1v7h-1zM31 9h1v6h-1zM32 12h2v4h-2zM34 11h1v4h-1zM35 8h1v7h-1zM36 12h1v4h-1zM37 9h1v6h-1zM38 13h1v2h-1zM26 32h14v1h-14zM39 14h1v2h-1zM40 33h1v1h-1zM40 14h1v1h-1zM41 34h1v1h-1zM45 35h2v1h-2zM48 35h2v1h-2zM42 16h11v1h-11zM53 35h1v1h-1zM53 15h2v1h-2zM55 35h2v1h-2zM55 14h4v1h-4zM58 35h1v1h-1zM60 15h1v1h-1zM62 15h2v1h-2zM64 35h1v1h-1zM64 14h1v1h-1zM65 15h3v1h-3zM68 35h1v1h-1zM68 14h1v1h-1zM69 15h2v1h-2zM71 35h1v1h-1zM71 14h1v1h-1zM72 15h1v1h-1zM74 67h1v6h-1zM75 66h1v7h-1zM73 14h4v1h-4zM76 65h1v5h-1zM76 72h1v1h-1zM73 35h6v1h-6zM77 66h2v7h-2zM78 14h1v1h-1zM79 68h1v5h-1zM79 15h1v1h-1z"/><path fill="#4155ab" d="M0 40h1v7h-1zM1 41h2v6h-2zM3 40h1v5h-1zM3 46h1v2h-1zM4 40h4v8h-4zM8 42h2v5h-2zM10 40h1v8h-1zM11 41h4v6h-4zM15 44h1v2h-1zM54 44h1v4h-1zM55 44h1v5h-1zM56 43h1v7h-1zM57 42h1v8h-1zM58 43h1v7h-1zM59 42h1v8h-1zM60 41h1v9h-1zM61 42h1v8h-1zM62 41h1v9h-1zM63 42h1v8h-1zM64 43h1v7h-1zM65 41h3v9h-3zM68 43h1v6h-1zM69 42h1v8h-1zM70 41h1v9h-1zM71 43h1v7h-1zM72 41h1v9h-1zM73 43h1v7h-1zM74 42h1v8h-1zM75 43h1v7h-1zM76 44h1v5h-1zM77 42h1v8h-1zM78 43h1v7h-1zM79 41h1v9h-1z"/><path fill="#777abf" d="M0 37h2v1h-2zM0 50h2v2h-2zM2 50h1v1h-1zM3 50h2v4h-2zM5 50h2v3h-2zM3 37h5v1h-5zM7 50h1v4h-1zM8 50h2v1h-2zM10 50h1v3h-1zM11 50h1v2h-1zM12 50h2v3h-2zM14 50h1v2h-1zM15 50h1v1h-1zM16 49h1v1h-1zM19 38h1v1h-1zM21 38h3v1h-3zM19 48h20v1h-20zM26 38h14v1h-14zM39 49h1v1h-1zM42 50h3v1h-3zM45 39h2v1h-2zM47 50h1v1h-1zM48 39h2v1h-2zM50 50h3v1h-3zM56 52h24v1h-24z"/><path fill="#c4c4e4" d="M0 58h2v2h-2zM2 58h1v1h-1zM0 35h8v1h-8zM3 58h5v3h-5zM8 57h1v2h-1zM9 58h1v1h-1zM9 36h2v1h-2zM10 58h1v3h-1zM11 58h1v2h-1zM12 58h2v3h-2zM14 58h1v2h-1zM15 58h1v1h-1zM16 57h1v2h-1zM16 36h1v1h-1zM17 57h4v1h-4zM21 56h1v2h-1zM22 56h1v1h-1zM23 57h4v1h-4zM27 56h1v2h-1zM28 56h1v1h-1zM28 36h1v1h-1zM29 57h1v1h-1zM30 36h1v1h-1zM30 56h2v1h-2zM32 56h1v2h-1zM33 57h1v1h-1zM34 56h1v2h-1zM35 56h1v1h-1zM35 36h1v1h-1zM36 56h1v2h-1zM37 56h3v1h-3zM37 36h3v1h-3zM41 55h1v1h-1zM43 55h9v1h-9zM53 56h1v1h-1zM54 57h2v1h-2zM57 58h1v1h-1zM59 58h5v1h-5zM65 58h3v1h-3zM69 58h2v1h-2zM72 58h1v1h-1zM74 58h1v1h-1zM77 0h1v4h-1zM77 58h1v1h-1zM79 0h1v6h-1zM79 58h1v1h-1z"/><path fill="#d3d3eb" d="M0 60h2v3h-2zM2 59h1v3h-1zM0 34h8v1h-8zM3 61h5v2h-5zM8 35h1v1h-1zM8 59h2v3h-2zM10 61h1v2h-1zM11 60h1v3h-1zM12 61h2v2h-2zM14 60h1v3h-1zM11 36h5v1h-5zM15 59h2v3h-2zM17 58h2v4h-2zM19 58h1v3h-1zM20 58h1v4h-1zM21 58h1v2h-1zM22 57h1v3h-1zM23 58h1v3h-1zM24 58h2v4h-2zM26 58h1v3h-1zM27 58h1v2h-1zM28 57h1v2h-1zM29 58h1v3h-1zM30 57h1v2h-1zM31 57h1v3h-1zM32 58h2v3h-2zM34 58h1v2h-1zM35 57h1v3h-1zM36 58h1v3h-1zM37 57h1v2h-1zM38 57h1v3h-1zM39 57h1v1h-1zM40 56h5v1h-5zM47 56h1v1h-1zM49 56h4v1h-4zM41 37h14v1h-14zM54 58h3v1h-3zM57 37h1v1h-1zM58 58h1v1h-1zM59 0h1v6h-1zM60 0h1v8h-1zM61 0h1v7h-1zM62 0h1v9h-1zM59 37h5v1h-5zM63 0h1v8h-1zM64 58h1v1h-1zM65 0h1v9h-1zM65 37h3v1h-3zM66 0h2v8h-2zM68 58h1v1h-1zM69 0h1v8h-1zM69 37h2v1h-2zM70 0h1v9h-1zM71 58h1v1h-1zM72 0h1v8h-1zM72 37h1v1h-1zM73 58h1v1h-1zM73 0h1v5h-1zM74 37h1v1h-1zM74 0h3v7h-3zM75 58h2v1h-2zM77 4h1v4h-1zM77 37h1v1h-1zM78 58h1v1h-1zM78 0h1v7h-1zM79 6h1v3h-1zM79 37h1v1h-1z"/><path fill="#e2e2f2" d="M0 63h2v1h-2zM0 33h3v1h-3zM2 62h1v2h-1zM3 32h2v2h-2zM3 63h5v1h-5zM5 33h3v1h-3zM8 34h1v1h-1zM8 62h1v1h-1zM9 62h1v2h-1zM9 35h2v1h-2zM10 63h5v1h-5zM15 62h4v2h-4zM19 61h1v3h-1zM20 62h1v2h-1zM21 60h1v4h-1zM22 60h1v3h-1zM23 61h1v3h-1zM24 62h2v2h-2zM26 61h1v3h-1zM17 35h11v1h-11zM27 60h1v3h-1zM28 59h1v4h-1zM29 35h1v1h-1zM29 61h1v3h-1zM30 59h1v4h-1zM31 60h1v3h-1zM32 61h2v3h-2zM32 35h3v1h-3zM34 60h1v4h-1zM35 60h1v3h-1zM36 35h1v1h-1zM36 61h1v3h-1zM37 59h1v4h-1zM38 60h1v3h-1zM39 58h1v3h-1zM40 36h1v1h-1zM40 57h1v1h-1zM42 57h3v1h-3zM44 0h1v9h-1zM45 56h2v1h-2zM47 0h1v10h-1zM47 57h1v1h-1zM48 56h1v1h-1zM50 0h1v10h-1zM51 0h1v9h-1zM52 0h1v10h-1zM50 57h4v1h-4zM54 0h1v8h-1zM55 37h2v1h-2zM56 1h1v6h-1zM57 0h2v9h-2zM58 37h1v1h-1zM59 6h1v4h-1zM60 8h1v2h-1zM61 7h1v3h-1zM62 9h1v1h-1zM63 8h1v2h-1zM64 37h1v1h-1zM64 0h1v9h-1zM65 9h1v1h-1zM66 8h2v2h-2zM68 37h1v1h-1zM68 0h1v9h-1zM69 8h1v2h-1zM70 9h1v1h-1zM71 37h1v1h-1zM71 0h1v9h-1zM72 8h1v2h-1zM73 5h1v4h-1zM73 37h1v1h-1zM74 7h1v3h-1zM75 7h2v2h-2zM75 37h2v1h-2zM77 8h1v2h-1zM78 7h1v2h-1zM78 37h1v1h-1zM55 59h25v1h-25zM79 9h1v1h-1z"/><path fill="#9292ca" d="M0 55h2v1h-2zM2 54h1v2h-1zM3 55h5v1h-5zM8 54h2v2h-2zM10 55h5v1h-5zM15 54h1v2h-1zM16 53h1v2h-1zM9 37h9v1h-9zM17 51h1v3h-1zM18 50h3v4h-3zM21 50h1v3h-1zM21 37h2v1h-2zM22 50h1v2h-1zM23 50h1v3h-1zM24 50h2v4h-2zM26 50h2v3h-2zM27 37h2v1h-2zM28 50h1v2h-1zM29 50h1v3h-1zM30 50h1v2h-1zM30 37h2v1h-2zM31 50h4v3h-4zM34 37h2v1h-2zM35 50h1v2h-1zM36 50h1v3h-1zM37 50h1v2h-1zM37 37h2v1h-2zM38 50h1v3h-1zM39 51h1v3h-1zM40 51h2v2h-2zM42 52h1v1h-1zM40 38h5v1h-5zM43 51h2v2h-2zM45 51h2v1h-2zM47 51h1v2h-1zM47 38h1v1h-1zM48 51h2v1h-2zM50 52h1v1h-1zM51 51h1v2h-1zM50 38h3v1h-3zM52 52h1v2h-1zM53 52h1v1h-1zM54 53h2v1h-2zM56 53h3v2h-3zM59 54h1v1h-1zM60 38h1v1h-1zM60 54h1v2h-1zM61 53h1v2h-1zM62 38h2v1h-2zM62 54h2v2h-2zM64 53h1v2h-1zM65 38h3v1h-3zM65 54h3v2h-3zM68 53h1v2h-1zM69 38h2v1h-2zM69 54h2v2h-2zM71 53h1v2h-1zM72 38h1v1h-1zM72 54h1v2h-1zM73 53h4v2h-4zM77 54h1v1h-1zM78 53h1v2h-1zM79 38h1v1h-1zM79 54h1v2h-1z"/><path fill="#8485c4" d="M0 52h2v3h-2zM2 51h1v3h-1zM2 37h1v1h-1zM3 54h2v1h-2zM5 53h2v2h-2zM7 54h1v1h-1zM8 37h1v1h-1zM8 51h2v3h-2zM10 53h1v2h-1zM11 52h1v3h-1zM12 53h2v2h-2zM14 52h1v3h-1zM15 51h1v3h-1zM16 50h1v3h-1zM17 49h1v2h-1zM18 37h3v1h-3zM23 37h4v1h-4zM29 37h1v1h-1zM32 37h2v1h-2zM36 37h1v1h-1zM18 49h21v1h-21zM39 50h3v1h-3zM42 51h1v1h-1zM45 50h2v1h-2zM48 50h2v1h-2zM50 51h1v1h-1zM52 51h2v1h-2zM54 52h2v1h-2zM59 53h2v1h-2zM62 53h2v1h-2zM65 53h3v1h-3zM69 53h2v1h-2zM72 53h1v1h-1zM77 53h1v1h-1zM79 53h1v1h-1z"/><path fill="#f0f0f8" d="M0 32h3v1h-3zM0 64h3v1h-3zM3 31h1v1h-1zM3 64h5v2h-5zM5 32h3v1h-3zM8 33h1v1h-1zM8 63h1v2h-1zM9 34h1v1h-1zM9 64h1v1h-1zM10 64h1v2h-1zM11 64h1v1h-1zM12 64h3v2h-3zM11 35h6v1h-6zM15 64h2v1h-2zM17 64h4v2h-4zM21 64h1v1h-1zM22 63h1v2h-1zM23 64h4v2h-4zM27 63h2v2h-2zM28 35h1v1h-1zM29 64h1v2h-1zM30 35h2v1h-2zM30 63h2v2h-2zM32 64h2v2h-2zM34 64h1v1h-1zM35 35h1v1h-1zM35 63h1v2h-1zM36 64h1v2h-1zM37 63h2v2h-2zM37 35h3v1h-3zM39 61h1v3h-1zM40 58h1v1h-1zM41 57h1v1h-1zM42 58h1v1h-1zM42 0h1v10h-1zM43 0h1v11h-1zM44 9h1v3h-1zM45 0h2v11h-2zM45 57h2v1h-2zM47 10h1v2h-1zM48 0h2v11h-2zM48 57h2v1h-2zM50 10h1v2h-1zM50 58h1v1h-1zM51 9h1v3h-1zM52 10h1v2h-1zM52 58h2v1h-2zM53 0h1v11h-1zM54 59h1v1h-1zM54 8h1v3h-1zM55 0h1v11h-1zM56 0h1v1h-1zM56 7h1v4h-1zM57 9h2v2h-2zM59 10h1v1h-1zM60 10h1v2h-1zM60 60h1v1h-1zM61 10h1v1h-1zM62 10h1v2h-1zM62 60h2v1h-2zM63 10h1v1h-1zM64 9h1v2h-1zM65 10h3v2h-3zM65 60h3v1h-3zM68 9h1v2h-1zM69 10h1v1h-1zM69 60h2v1h-2zM70 10h1v2h-1zM71 9h1v2h-1zM72 10h1v2h-1zM72 60h1v1h-1zM73 9h1v2h-1zM74 10h1v1h-1zM75 9h2v2h-2zM77 10h1v1h-1zM78 9h1v2h-1zM79 10h1v2h-1zM79 60h1v1h-1z"/><path fill="#5d65b5" d="M0 38h3v1h-3zM5 38h4v1h-4zM8 48h2v1h-2zM10 38h1v1h-1zM15 48h2v1h-2zM16 39h1v1h-1zM17 47h1v1h-1zM17 39h1v5h-1zM18 40h1v8h-1zM19 40h1v7h-1zM20 40h1v8h-1zM21 41h1v6h-1zM22 42h1v5h-1zM23 40h1v7h-1zM24 40h2v8h-2zM26 40h1v7h-1zM27 41h1v6h-1zM28 43h1v4h-1zM29 40h1v7h-1zM30 43h1v4h-1zM31 41h1v6h-1zM32 40h2v7h-2zM34 41h1v6h-1zM35 42h1v5h-1zM36 40h1v7h-1zM37 41h1v6h-1zM38 40h1v8h-1zM39 40h1v3h-1zM39 47h1v1h-1zM40 48h1v1h-1zM40 40h2v1h-2zM42 49h3v1h-3zM45 40h2v1h-2zM47 49h1v1h-1zM48 40h2v1h-2zM50 49h4v1h-4zM53 40h1v1h-1zM56 51h24v1h-24z"/><path fill="#3850a8" d="M3 45h1v1h-1z"/><path fill="#535eb2" d="M3 38h2v1h-2zM0 48h8v1h-8zM8 39h2v1h-2zM10 48h5v1h-5zM11 39h5v1h-5zM16 47h1v1h-1zM16 40h1v4h-1zM17 44h1v3h-1zM39 43h1v4h-1zM40 41h1v7h-1zM41 41h1v2h-1zM42 40h1v1h-1zM43 40h2v2h-2zM45 41h2v2h-2zM47 40h1v2h-1zM48 41h2v2h-2zM50 40h1v1h-1zM41 48h11v1h-11zM51 40h1v2h-1zM52 40h1v1h-1zM53 41h1v1h-1zM54 50h2v1h-2zM54 40h8v1h-8zM63 40h2v1h-2zM66 40h4v1h-4zM71 40h8v1h-8z"/><path fill="#a3a3d3" d="M0 56h8v1h-8zM0 36h8v1h-8zM9 56h7v1h-7zM16 55h1v1h-1zM17 54h2v2h-2zM19 54h1v1h-1zM20 54h1v2h-1zM21 53h1v2h-1zM22 52h1v3h-1zM23 53h1v2h-1zM24 54h2v2h-2zM26 53h2v2h-2zM28 52h1v3h-1zM29 53h1v2h-1zM30 52h1v3h-1zM31 53h4v2h-4zM35 52h1v3h-1zM36 53h1v2h-1zM37 52h1v3h-1zM38 53h1v2h-1zM39 54h1v1h-1zM39 37h1v1h-1zM40 53h1v2h-1zM41 53h1v1h-1zM42 53h1v2h-1zM43 53h2v1h-2zM45 38h2v1h-2zM45 52h2v2h-2zM47 53h1v1h-1zM48 38h2v1h-2zM48 52h2v2h-2zM50 53h2v1h-2zM52 54h1v1h-1zM53 53h1v2h-1zM54 54h2v2h-2zM53 38h7v1h-7zM56 55h4v2h-4zM60 56h1v1h-1zM61 55h1v2h-1zM61 38h1v1h-1zM62 56h2v1h-2zM64 55h1v2h-1zM64 38h1v1h-1zM65 56h3v1h-3zM68 55h1v2h-1zM68 38h1v1h-1zM69 56h2v1h-2zM71 55h1v2h-1zM71 38h1v1h-1zM72 56h1v1h-1zM73 55h6v2h-6zM73 38h6v1h-6zM79 56h1v1h-1z"/><path fill="#b3b3db" d="M0 57h8v1h-8zM8 36h1v1h-1zM8 56h1v1h-1zM9 57h7v1h-7zM16 56h3v1h-3zM19 55h1v2h-1zM20 56h1v1h-1zM21 55h2v1h-2zM23 55h1v2h-1zM24 56h2v1h-2zM26 55h1v2h-1zM17 36h11v1h-11zM27 55h2v1h-2zM29 36h1v1h-1zM29 55h1v2h-1zM30 55h3v1h-3zM33 55h1v2h-1zM31 36h4v1h-4zM36 36h1v1h-1zM34 55h7v1h-7zM40 37h1v1h-1zM41 54h1v1h-1zM42 55h1v1h-1zM43 54h9v1h-9zM52 55h2v1h-2zM54 56h2v1h-2zM56 57h24v1h-24z"/><path fill="#6a6fba" d="M9 38h1v1h-1zM0 49h16v1h-16zM11 38h7v1h-7zM17 48h2v1h-2zM18 38h1v2h-1zM19 47h1v1h-1zM19 39h1v1h-1zM20 38h1v2h-1zM21 39h1v2h-1zM22 39h1v3h-1zM21 47h3v1h-3zM23 39h1v1h-1zM24 38h2v2h-2zM26 39h1v1h-1zM27 39h1v2h-1zM28 39h1v4h-1zM29 39h1v1h-1zM30 39h1v4h-1zM31 39h1v2h-1zM32 39h2v1h-2zM34 39h1v2h-1zM35 39h1v3h-1zM36 39h1v1h-1zM26 47h12v1h-12zM37 39h1v2h-1zM39 48h1v1h-1zM40 49h2v1h-2zM38 39h7v1h-7zM45 49h2v1h-2zM47 39h1v1h-1zM48 49h2v1h-2zM53 50h1v1h-1zM54 51h2v1h-2zM50 39h30v1h-30z"/><path fill="#f5a4a7" d="M11 22h4v6h-4zM15 21h2v8h-2zM17 22h1v6h-1zM18 23h1v4h-1zM19 22h1v6h-1zM20 23h1v4h-1zM21 21h3v8h-3zM24 20h1v9h-1zM25 18h1v6h-1zM25 25h1v5h-1zM26 28h1v3h-1zM26 17h1v3h-1zM27 17h1v2h-1zM27 29h1v2h-1zM28 30h1v1h-1zM28 17h1v1h-1zM29 17h1v2h-1zM29 29h1v2h-1zM30 30h1v1h-1zM30 17h2v1h-2zM31 31h3v1h-3zM32 17h3v2h-3zM34 30h2v1h-2zM35 17h1v1h-1zM36 17h1v2h-1zM37 17h1v1h-1zM36 29h3v2h-3zM38 17h1v2h-1zM39 28h1v3h-1zM39 17h1v3h-1zM40 30h1v2h-1zM40 17h2v2h-2zM41 32h1v2h-1zM42 33h1v1h-1zM42 18h3v3h-3zM43 34h3v1h-3zM45 18h2v2h-2zM47 34h1v1h-1zM47 19h1v2h-1zM48 18h2v2h-2zM50 19h1v2h-1zM51 18h1v2h-1zM52 19h1v2h-1zM53 17h1v2h-1zM49 34h6v1h-6zM54 17h1v1h-1zM55 16h4v1h-4zM59 16h1v2h-1zM60 17h1v2h-1zM61 16h1v2h-1zM62 17h2v2h-2zM64 16h1v1h-1zM56 34h12v1h-12zM65 17h3v2h-3zM68 16h1v1h-1zM69 16h1v2h-1zM69 34h2v1h-2zM70 17h1v2h-1zM71 16h1v1h-1zM72 17h1v2h-1zM72 34h1v1h-1zM74 34h1v1h-1zM73 16h4v1h-4zM77 34h1v1h-1zM77 16h1v2h-1zM78 16h1v1h-1zM79 17h1v2h-1zM79 34h1v1h-1z"/><path fill="#f39497" d="M25 24h1v1h-1zM26 20h1v8h-1zM27 19h1v10h-1zM28 18h1v12h-1zM29 19h1v10h-1zM30 18h1v12h-1zM31 18h1v3h-1zM31 29h1v2h-1zM32 30h1v1h-1zM33 29h1v2h-1zM32 19h3v2h-3zM34 29h1v1h-1zM35 18h1v12h-1zM36 19h1v10h-1zM37 18h1v11h-1zM38 19h1v10h-1zM39 20h1v8h-1zM40 19h1v11h-1zM41 19h1v13h-1zM42 32h1v1h-1zM42 21h1v2h-1zM43 21h2v1h-2zM45 20h1v2h-1zM46 20h1v1h-1zM46 34h1v1h-1zM47 21h1v1h-1zM48 20h1v1h-1zM48 34h1v1h-1zM49 20h1v2h-1zM50 21h1v1h-1zM51 20h1v2h-1zM52 21h1v1h-1zM53 19h1v2h-1zM54 18h1v3h-1zM55 17h1v3h-1zM55 34h1v1h-1zM56 17h3v4h-3zM59 18h1v3h-1zM60 19h1v3h-1zM61 18h1v3h-1zM62 19h2v3h-2zM64 17h1v4h-1zM65 19h3v3h-3zM68 17h1v3h-1zM68 34h1v1h-1zM69 18h1v3h-1zM70 19h1v3h-1zM71 17h1v3h-1zM71 34h1v1h-1zM72 19h1v3h-1zM73 17h1v3h-1zM73 34h1v1h-1zM74 17h1v4h-1zM75 17h2v3h-2zM75 34h2v1h-2zM77 18h1v3h-1zM78 17h1v3h-1zM78 34h1v1h-1zM79 19h1v3h-1z"/><path fill="#f18387" d="M31 21h1v8h-1zM32 21h1v9h-1zM33 21h2v8h-2zM42 23h1v9h-1zM43 22h2v1h-2zM43 33h2v1h-2zM46 21h1v1h-1zM47 22h1v1h-1zM47 33h1v1h-1zM48 21h1v1h-1zM50 22h3v1h-3zM50 33h3v1h-3zM53 21h2v1h-2zM55 20h1v2h-1zM56 21h4v1h-4zM61 21h1v1h-1zM62 22h1v1h-1zM59 33h5v1h-5zM64 21h1v1h-1zM65 22h2v1h-2zM65 33h3v1h-3zM68 20h1v2h-1zM69 21h1v1h-1zM69 33h2v1h-2zM70 22h1v1h-1zM71 20h1v2h-1zM72 33h1v1h-1zM73 20h1v2h-1zM74 21h1v1h-1zM75 20h2v2h-2zM77 21h1v1h-1zM78 20h1v2h-1zM79 33h1v1h-1z"/><path fill="#f07378" d="M43 23h1v1h-1zM43 31h1v2h-1zM44 32h1v1h-1zM45 22h2v1h-2zM45 33h2v1h-2zM48 22h2v1h-2zM48 33h2v1h-2zM50 32h1v1h-1zM52 32h1v1h-1zM53 33h6v1h-6zM60 32h1v1h-1zM53 22h9v1h-9zM62 32h2v1h-2zM63 22h2v1h-2zM64 33h1v1h-1zM65 32h3v1h-3zM68 33h1v1h-1zM67 22h3v1h-3zM69 32h2v1h-2zM71 33h1v1h-1zM72 32h1v1h-1zM73 33h6v1h-6zM71 22h9v1h-9z"/><path fill="#ef656a" d="M43 24h1v7h-1zM44 28h1v4h-1zM45 31h1v2h-1zM46 32h1v1h-1zM47 29h1v4h-1zM48 31h2v2h-2zM50 28h1v4h-1zM51 29h1v4h-1zM52 27h1v5h-1zM53 31h6v2h-6zM59 30h1v3h-1zM60 27h1v5h-1zM61 30h1v3h-1zM62 27h2v5h-2zM64 31h1v2h-1zM65 27h3v5h-3zM68 31h1v2h-1zM69 28h1v4h-1zM70 27h1v5h-1zM71 31h1v2h-1zM44 23h29v1h-29zM72 28h1v4h-1zM73 32h2v1h-2zM77 32h1v1h-1zM79 23h1v1h-1zM79 32h1v1h-1z"/><path fill="#ee565b" d="M44 24h1v4h-1zM45 24h1v7h-1zM46 24h1v8h-1zM47 24h1v5h-1zM48 24h2v7h-2zM50 24h1v4h-1zM51 24h1v5h-1zM52 24h1v3h-1zM53 24h6v7h-6zM59 24h1v6h-1zM60 24h1v3h-1zM61 24h1v6h-1zM62 24h2v3h-2zM64 24h1v7h-1zM65 24h3v3h-3zM68 24h1v7h-1zM69 24h1v4h-1zM70 24h1v3h-1zM71 24h1v7h-1zM72 24h1v4h-1zM73 26h1v6h-1zM73 23h1v2h-1zM74 29h1v3h-1zM75 31h1v2h-1zM76 32h1v1h-1zM77 31h1v1h-1zM74 23h5v1h-5zM78 32h1v1h-1zM79 24h1v1h-1zM79 30h1v2h-1z"/><path fill="#ed484d" d="M73 25h1v1h-1zM74 24h1v5h-1zM75 24h1v7h-1zM76 24h1v1h-1zM76 28h1v4h-1zM77 24h1v7h-1zM78 24h1v1h-1zM78 28h1v4h-1zM79 25h1v5h-1z"/><path fill="#ec3d43" d="M76 25h1v3h-1zM78 25h1v3h-1z"/></g>
<rect x="761.8" y="1415.7" width="499.3" height="407.9" fill="none" stroke="#707070" stroke-width="1.4"/>
<text transform="translate(764.54,1853.95) scale(1.0783,1)" font-family="Liberation Sans" font-size="25.49" fill="#262626">1920</text>
<text transform="translate(889.58,1853.95) scale(1.0783,1)" font-family="Liberation Sans" font-size="25.49" fill="#262626">1940</text>
<text transform="translate(1014.62,1853.95) scale(1.0783,1)" font-family="Liberation Sans" font-size="25.49" fill="#262626">1960</text>
<text transform="translate(1139.66,1853.95) scale(1.0783,1)" font-family="Liberation Sans" font-size="25.49" fill="#262626">1980</text>
<text transform="translate(723.23,1460.37) scale(1.0688,1)" font-family="Liberation Sans" font-size="25.07" fill="#262626">30</text>
<text transform="translate(722.95,1516.25) scale(1.0793,1)" font-family="Liberation Sans" font-size="25.07" fill="#262626">20</text>
<text transform="translate(722.22,1572.12) scale(1.1064,1)" font-family="Liberation Sans" font-size="25.07" fill="#262626">10</text>
<text transform="translate(737.81,1628.00) scale(1.0917,1)" font-family="Liberation Sans" font-size="25.07" fill="#262626">0</text>
<text transform="translate(712.64,1683.88) scale(1.1145,1)" font-family="Liberation Sans" font-size="25.07" fill="#262626">-10</text>
<text transform="translate(712.64,1739.75) scale(1.1145,1)" font-family="Liberation Sans" font-size="25.07" fill="#262626">-20</text>
<text transform="translate(712.64,1795.63) scale(1.1145,1)" font-family="Liberation Sans" font-size="25.07" fill="#262626">-30</text>
<path d="M795.6 1823.6v-5M795.6 1415.7v5M920.6 1823.6v-5M920.6 1415.7v5M1045.7 1823.6v-5M1045.7 1415.7v5M1170.7 1823.6v-5M1170.7 1415.7v5M761.8 1452.0h5M1261.1 1452.0h-5M761.8 1507.9h5M1261.1 1507.9h-5M761.8 1563.8h5M1261.1 1563.8h-5M761.8 1619.7h5M1261.1 1619.7h-5M761.8 1675.5h5M1261.1 1675.5h-5M761.8 1731.4h5M1261.1 1731.4h-5M761.8 1787.3h5M1261.1 1787.3h-5" stroke="#444" stroke-width="1" fill="none"/>
<text transform="translate(980.91,1884.64) scale(1.1275,1)" font-family="Liberation Sans" font-size="26.43" fill="#262626">Year</text>
<g transform="translate(661.4,549.3) rotate(-90)"><text transform="translate(-1142.93,41.00) scale(1.0855,1)" font-family="Liberation Sans" font-size="27.40" fill="#262626">lag[months]</text></g>
<text transform="translate(85.27,841.80) scale(1.0746,1)" font-family="Liberation Sans" font-size="23.96" font-weight="bold" fill="#000">ϵ</text><text transform="translate(96.15,855.20) scale(1.1841,1)" font-family="Liberation Sans" font-size="22.34" font-weight="bold" fill="#000">h</text><rect x="113.8" y="834.3" width="8.5" height="3.6" fill="#000"/><text transform="translate(124.88,841.80) scale(0.9598,1)" font-family="Liberation Sans" font-size="23.96" font-weight="bold" fill="#000">ϵ</text><text transform="translate(136.27,855.20) scale(1.0960,1)" font-family="Liberation Sans" font-size="21.45" font-weight="bold" fill="#000">P</text><text transform="translate(161.25,842.20) scale(1.1189,1)" font-family="Liberation Sans" font-size="28.00" font-weight="bold" fill="#000">cross-correlation (SODA Data)</text>
<text transform="translate(722.97,841.80) scale(1.0746,1)" font-family="Liberation Sans" font-size="23.96" font-weight="bold" fill="#000">ϵ</text><text transform="translate(733.85,855.20) scale(1.1841,1)" font-family="Liberation Sans" font-size="22.34" font-weight="bold" fill="#000">h</text><rect x="751.5" y="834.3" width="8.5" height="3.6" fill="#000"/><text transform="translate(762.58,841.80) scale(0.9598,1)" font-family="Liberation Sans" font-size="23.96" font-weight="bold" fill="#000">ϵ</text><text transform="translate(773.97,855.20) scale(1.0960,1)" font-family="Liberation Sans" font-size="21.45" font-weight="bold" fill="#000">P</text><text transform="translate(798.95,842.20) scale(1.1171,1)" font-family="Liberation Sans" font-size="28.00" font-weight="bold" fill="#000">cross-correlation (ORA-20C Data)</text>
<text transform="translate(64.07,1392.00) scale(1.0746,1)" font-family="Liberation Sans" font-size="23.96" font-weight="bold" fill="#000">ϵ</text><text transform="translate(74.95,1405.40) scale(1.1841,1)" font-family="Liberation Sans" font-size="22.34" font-weight="bold" fill="#000">h</text><rect x="92.6" y="1384.5" width="8.5" height="3.6" fill="#000"/><text transform="translate(103.68,1392.00) scale(0.9598,1)" font-family="Liberation Sans" font-size="23.96" font-weight="bold" fill="#000">ϵ</text><text transform="translate(115.07,1405.40) scale(1.0960,1)" font-family="Liberation Sans" font-size="21.45" font-weight="bold" fill="#000">P</text><text transform="translate(140.06,1392.40) scale(1.1060,1)" font-family="Liberation Sans" font-size="28.00" font-weight="bold" fill="#000">cross-correlation (SODA ReOsc+)</text>
<text transform="translate(702.07,1392.00) scale(1.0746,1)" font-family="Liberation Sans" font-size="23.96" font-weight="bold" fill="#000">ϵ</text><text transform="translate(712.95,1405.40) scale(1.1841,1)" font-family="Liberation Sans" font-size="22.34" font-weight="bold" fill="#000">h</text><rect x="730.6" y="1384.5" width="8.5" height="3.6" fill="#000"/><text transform="translate(741.68,1392.00) scale(0.9598,1)" font-family="Liberation Sans" font-size="23.96" font-weight="bold" fill="#000">ϵ</text><text transform="translate(753.07,1405.40) scale(1.0960,1)" font-family="Liberation Sans" font-size="21.45" font-weight="bold" fill="#000">P</text><text transform="translate(778.06,1392.40) scale(1.1065,1)" font-family="Liberation Sans" font-size="28.00" font-weight="bold" fill="#000">cross-correlation (ORA-20C ReOsc+)</text>
<text transform="translate(0.02,857.50) scale(0.9991,1)" font-family="Liberation Sans" font-size="30.43" font-weight="bold" fill="#000">D</text>
<text transform="translate(659.66,857.50) scale(0.9305,1)" font-family="Liberation Sans" font-size="30.43" font-weight="bold" fill="#000">E</text>
<text transform="translate(0.25,1406.80) scale(0.9432,1)" font-family="Liberation Sans" font-size="30.14" font-weight="bold" fill="#000">F</text>
<text transform="translate(656.13,1406.90) scale(0.9774,1)" font-family="Liberation Sans" font-size="29.86" font-weight="bold" fill="#000">G</text>
<rect x="1331.5" y="1117.20" width="24.7" height="15.46" fill="#e81c24" shape-rendering="crispEdges"/>
<rect x="1331.5" y="1132.36" width="24.7" height="15.46" fill="#e9272e" shape-rendering="crispEdges"/>
<rect x="1331.5" y="1147.52" width="24.7" height="15.46" fill="#ea3238" shape-rendering="crispEdges"/>
<rect x="1331.5" y="1162.68" width="24.7" height="15.46" fill="#ec3d43" shape-rendering="crispEdges"/>
<rect x="1331.5" y="1177.84" width="24.7" height="15.46" fill="#ed484d" shape-rendering="crispEdges"/>
<rect x="1331.5" y="1193.00" width="24.7" height="15.46" fill="#ee565b" shape-rendering="crispEdges"/>
<rect x="1331.5" y="1208.16" width="24.7" height="15.46" fill="#ef656a" shape-rendering="crispEdges"/>
<rect x="1331.5" y="1223.32" width="24.7" height="15.46" fill="#f07378" shape-rendering="crispEdges"/>
<rect x="1331.5" y="1238.47" width="24.7" height="15.46" fill="#f18387" shape-rendering="crispEdges"/>
<rect x="1331.5" y="1253.63" width="24.7" height="15.46" fill="#f39497" shape-rendering="crispEdges"/>
<rect x="1331.5" y="1268.79" width="24.7" height="15.46" fill="#f5a4a7" shape-rendering="crispEdges"/>
<rect x="1331.5" y="1283.95" width="24.7" height="15.46" fill="#f6b4b6" shape-rendering="crispEdges"/>
<rect x="1331.5" y="1299.11" width="24.7" height="15.46" fill="#f8c7c8" shape-rendering="crispEdges"/>
<rect x="1331.5" y="1314.27" width="24.7" height="15.46" fill="#fad9db" shape-rendering="crispEdges"/>
<rect x="1331.5" y="1329.43" width="24.7" height="15.46" fill="#fceced" shape-rendering="crispEdges"/>
<rect x="1331.5" y="1344.59" width="24.7" height="15.46" fill="#ffffff" shape-rendering="crispEdges"/>
<rect x="1331.5" y="1359.75" width="24.7" height="15.46" fill="#ffffff" shape-rendering="crispEdges"/>
<rect x="1331.5" y="1374.91" width="24.7" height="15.46" fill="#f0f0f8" shape-rendering="crispEdges"/>
<rect x="1331.5" y="1390.07" width="24.7" height="15.46" fill="#e2e2f2" shape-rendering="crispEdges"/>
<rect x="1331.5" y="1405.23" width="24.7" height="15.46" fill="#d3d3eb" shape-rendering="crispEdges"/>
<rect x="1331.5" y="1420.39" width="24.7" height="15.46" fill="#c4c4e4" shape-rendering="crispEdges"/>
<rect x="1331.5" y="1435.55" width="24.7" height="15.46" fill="#b3b3db" shape-rendering="crispEdges"/>
<rect x="1331.5" y="1450.71" width="24.7" height="15.46" fill="#a3a3d3" shape-rendering="crispEdges"/>
<rect x="1331.5" y="1465.87" width="24.7" height="15.46" fill="#9292ca" shape-rendering="crispEdges"/>
<rect x="1331.5" y="1481.03" width="24.7" height="15.46" fill="#8485c4" shape-rendering="crispEdges"/>
<rect x="1331.5" y="1496.18" width="24.7" height="15.46" fill="#777abf" shape-rendering="crispEdges"/>
<rect x="1331.5" y="1511.34" width="24.7" height="15.46" fill="#6a6fba" shape-rendering="crispEdges"/>
<rect x="1331.5" y="1526.50" width="24.7" height="15.46" fill="#5d65b5" shape-rendering="crispEdges"/>
<rect x="1331.5" y="1541.66" width="24.7" height="15.46" fill="#535eb2" shape-rendering="crispEdges"/>
<rect x="1331.5" y="1556.82" width="24.7" height="15.46" fill="#4a5aae" shape-rendering="crispEdges"/>
<rect x="1331.5" y="1571.98" width="24.7" height="15.46" fill="#4155ab" shape-rendering="crispEdges"/>
<rect x="1331.5" y="1587.14" width="24.7" height="15.46" fill="#3850a8" shape-rendering="crispEdges"/>
<rect x="1331.5" y="1117.2" width="24.7" height="485.1" fill="none" stroke="#555" stroke-width="1.1"/>
<text transform="translate(1366.75,1612.69) scale(1.0875,1)" font-family="Liberation Serif" font-size="27.65" fill="#262626">-0.8</text>
<text transform="translate(1366.75,1552.05) scale(1.0803,1)" font-family="Liberation Serif" font-size="27.65" fill="#262626">-0.6</text>
<text transform="translate(1366.76,1491.41) scale(1.0698,1)" font-family="Liberation Serif" font-size="27.65" fill="#262626">-0.4</text>
<text transform="translate(1366.74,1430.77) scale(1.0984,1)" font-family="Liberation Serif" font-size="27.65" fill="#262626">-0.2</text>
<text transform="translate(1364.03,1370.27) scale(1.0515,1)" font-family="Liberation Serif" font-size="27.85" fill="#262626">0</text>
<text transform="translate(1363.96,1309.50) scale(1.1211,1)" font-family="Liberation Serif" font-size="27.65" fill="#262626">0.2</text>
<text transform="translate(1364.00,1248.86) scale(1.0836,1)" font-family="Liberation Serif" font-size="27.65" fill="#262626">0.4</text>
<text transform="translate(1363.99,1188.22) scale(1.0974,1)" font-family="Liberation Serif" font-size="27.65" fill="#262626">0.6</text>
<text transform="translate(1363.98,1127.59) scale(1.1067,1)" font-family="Liberation Serif" font-size="27.65" fill="#262626">0.8</text>
<path d="M1351.2 1541.7h5M1351.2 1481.0h5M1351.2 1420.4h5M1351.2 1359.8h5M1351.2 1299.1h5M1351.2 1238.5h5M1351.2 1177.8h5" stroke="#444" stroke-width="1" fill="none"/></svg>
</body></html>
